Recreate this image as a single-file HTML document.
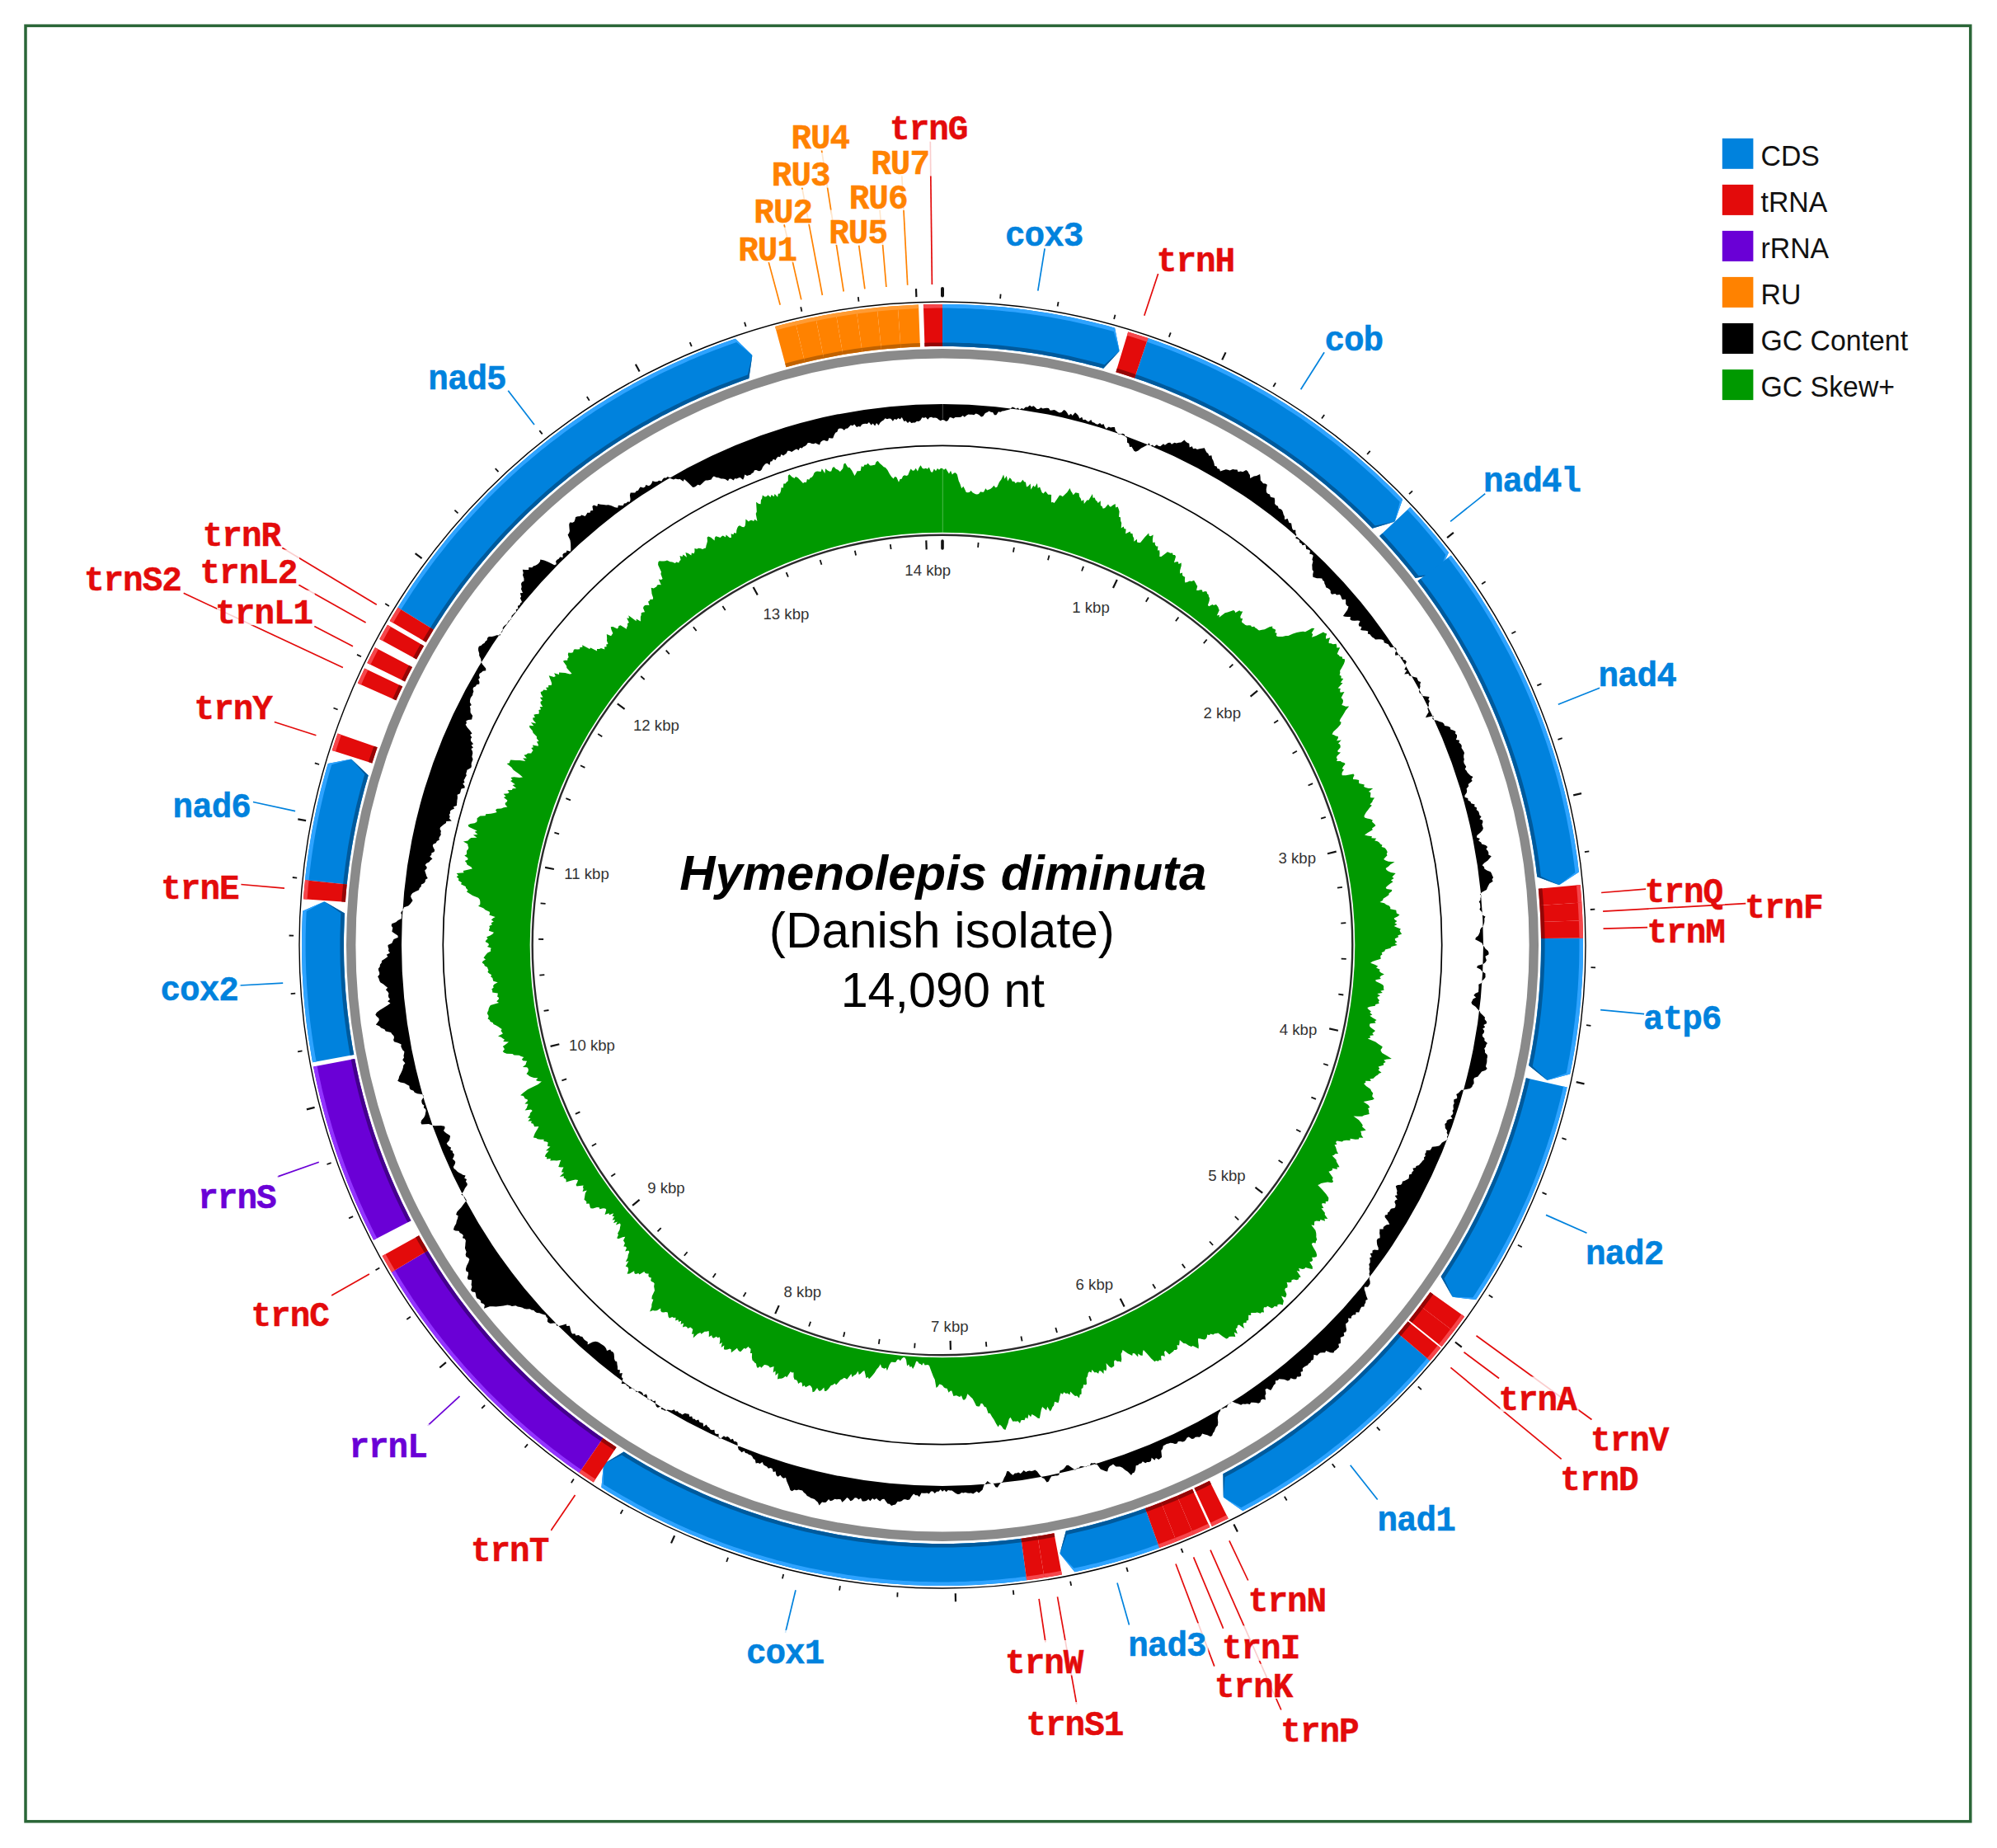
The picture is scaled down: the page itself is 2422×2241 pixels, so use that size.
<!DOCTYPE html><html><head><meta charset="utf-8"><title>Hymenolepis diminuta mtDNA map</title>
<style>html,body{margin:0;padding:0;background:#fff}svg{display:block}.m{font-family:"Liberation Mono",monospace;font-weight:bold;font-size:41px;letter-spacing:-1.0px}.k{font-family:"Liberation Sans",sans-serif;font-size:18.6px;fill:#333}.g{font-family:"Liberation Sans",sans-serif;font-size:35.6px;fill:#111}.t{font-family:"Liberation Sans",sans-serif;font-size:59px;fill:#000;text-anchor:middle}</style></head><body>
<svg width="2422" height="2241" viewBox="0 0 2422 2241">
<rect width="2422" height="2241" fill="#fff"/>
<rect x="31" y="31.2" width="2358.8" height="2177.6" fill="none" stroke="#2a6637" stroke-width="3.5"/>
<g fill="none" stroke-width="1.7" stroke-linecap="butt">
<line x1="932.1" y1="317.4" x2="946.2" y2="369.7" stroke="#ff8200"/>
<line x1="951" y1="272.3" x2="971.8" y2="363.4" stroke="#ff8200"/>
<line x1="972.7" y1="227.3" x2="997.4" y2="358" stroke="#ff8200"/>
<line x1="996.5" y1="182.2" x2="1023.2" y2="353.5" stroke="#ff8200"/>
<line x1="1041.7" y1="297.6" x2="1048.9" y2="350.4" stroke="#ff8200"/>
<line x1="1067" y1="254.3" x2="1074.9" y2="348" stroke="#ff8200"/>
<line x1="1093.8" y1="212.8" x2="1100.7" y2="345.7" stroke="#ff8200"/>
<line x1="1128.3" y1="171.4" x2="1130.4" y2="345" stroke="#e30b0b"/>
<line x1="1267.1" y1="301.3" x2="1258.8" y2="352.7" stroke="#0082dd"/>
<line x1="1404.6" y1="332.1" x2="1387.8" y2="382.7" stroke="#e30b0b"/>
<line x1="1606.1" y1="427.3" x2="1577.6" y2="472.3" stroke="#0082dd"/>
<line x1="1801.3" y1="598.6" x2="1759.1" y2="632.4" stroke="#0082dd"/>
<line x1="1940.1" y1="834.3" x2="1889.8" y2="854.3" stroke="#0082dd"/>
<line x1="1996.1" y1="1078.1" x2="1942.1" y2="1082.5" stroke="#e30b0b"/>
<line x1="2117.3" y1="1095.7" x2="1944.1" y2="1105.1" stroke="#e30b0b"/>
<line x1="1998.1" y1="1124.6" x2="1944.5" y2="1126.2" stroke="#e30b0b"/>
<line x1="1994.1" y1="1229.7" x2="1941.1" y2="1224.7" stroke="#0082dd"/>
<line x1="1924.5" y1="1495.3" x2="1875" y2="1473.4" stroke="#0082dd"/>
<line x1="1818.1" y1="1671.5" x2="1775.5" y2="1639.7" stroke="#e30b0b"/>
<line x1="1930.5" y1="1721.5" x2="1790.5" y2="1619.7" stroke="#e30b0b"/>
<line x1="1893.7" y1="1769.4" x2="1759.4" y2="1658.4" stroke="#e30b0b"/>
<line x1="1670.7" y1="1818.5" x2="1637.7" y2="1776.8" stroke="#0082dd"/>
<line x1="1513.7" y1="1916.5" x2="1490.9" y2="1868.4" stroke="#e30b0b"/>
<line x1="1483.7" y1="1974.9" x2="1447.6" y2="1888.4" stroke="#e30b0b"/>
<line x1="1472.8" y1="2020.6" x2="1426" y2="1896.5" stroke="#e30b0b"/>
<line x1="1553.8" y1="2073.5" x2="1468" y2="1879.7" stroke="#e30b0b"/>
<line x1="1369.5" y1="1970.6" x2="1355" y2="1919.6" stroke="#0082dd"/>
<line x1="1268" y1="1991.5" x2="1260.1" y2="1938.8" stroke="#e30b0b"/>
<line x1="1305.8" y1="2066.7" x2="1282.5" y2="1936.4" stroke="#e30b0b"/>
<line x1="952.5" y1="1980" x2="965" y2="1928.2" stroke="#0082dd"/>
<line x1="668.2" y1="1856.1" x2="697.5" y2="1812.9" stroke="#e30b0b"/>
<line x1="518.6" y1="1728.9" x2="557.5" y2="1693.2" stroke="#6a00d6"/>
<line x1="402.1" y1="1571.1" x2="447.9" y2="1545" stroke="#e30b0b"/>
<line x1="336.1" y1="1427.1" x2="386.8" y2="1409.3" stroke="#6a00d6"/>
<line x1="290.4" y1="1195" x2="343.2" y2="1192.1" stroke="#0082dd"/>
<line x1="292.1" y1="1072.5" x2="345" y2="1077.1" stroke="#e30b0b"/>
<line x1="306.8" y1="972.5" x2="358.1" y2="983.6" stroke="#0082dd"/>
<line x1="332.8" y1="875.5" x2="383.4" y2="891.8" stroke="#e30b0b"/>
<line x1="381.3" y1="759.5" x2="428" y2="783.7" stroke="#e30b0b"/>
<line x1="222.7" y1="719.3" x2="415.9" y2="809.4" stroke="#e30b0b"/>
<line x1="362.3" y1="709.3" x2="443.6" y2="755" stroke="#e30b0b"/>
<line x1="342.2" y1="664.2" x2="456.8" y2="733.2" stroke="#e30b0b"/>
<line x1="616.1" y1="473.4" x2="648" y2="515" stroke="#0082dd"/>
</g>
<circle cx="1143" cy="1146" r="780" fill="none" stroke="#000" stroke-width="1.4"/>
<circle cx="1143" cy="1146" r="717.3" fill="none" stroke="#8a8a8a" stroke-width="11.4"/>
<polygon points="1710.3,615.1 1715.2,620.4 1720.1,625.7 1724.9,631.1 1729.6,636.5 1734.3,641.9 1739,647.4 1743.6,653 1748.1,658.6 1752.6,664.2 1757,669.9 1744.7,695.8 1716.7,701.1 1712.6,695.8 1708.4,690.6 1704.1,685.3 1699.8,680.2 1695.5,675 1691.1,669.9 1686.7,664.9 1682.2,659.9 1677.7,654.9 1673.1,649.9" fill="#0082dd"/>
<polygon points="1710.3,615.1 1715.2,620.4 1720.1,625.7 1724.9,631.1 1729.6,636.5 1734.3,641.9 1739,647.4 1743.6,653 1748.1,658.6 1752.6,664.2 1757,669.9 1744.7,695.8 1753.4,672.7 1749,667 1744.5,661.5 1740,655.9 1735.4,650.4 1730.8,644.9 1726.1,639.5 1721.4,634.1 1716.7,628.8 1711.8,623.5 1707,618.2" fill="#2ea3ff"/>
<polygon points="1673.1,649.9 1677.7,654.9 1682.2,659.9 1686.7,664.9 1691.1,669.9 1695.5,675 1699.8,680.2 1704.1,685.3 1708.4,690.6 1712.6,695.8 1716.7,701.1 1744.7,695.8 1720.4,698.3 1716.2,693 1712,687.7 1707.7,682.4 1703.4,677.2 1699,672 1694.6,666.9 1690.1,661.8 1685.6,656.8 1681.1,651.8 1676.5,646.8" fill="#005a9c"/>
<polygon points="1143,369 1149.8,369 1156.7,369.1 1163.5,369.3 1170.3,369.5 1177.1,369.7 1184,370.1 1190.8,370.5 1197.6,370.9 1204.4,371.4 1211.2,372 1218,372.6 1224.8,373.3 1231.6,374.1 1238.4,374.9 1245.1,375.7 1251.9,376.7 1258.6,377.7 1265.4,378.7 1272.1,379.8 1278.9,381 1285.6,382.2 1292.3,383.5 1299,384.8 1305.7,386.2 1312.3,387.7 1319,389.2 1325.6,390.8 1332.3,392.4 1338.9,394.1 1345.5,395.8 1352.1,397.7 1357.7,425.8 1338.3,446.8 1332.2,445.1 1326,443.4 1319.8,441.9 1313.6,440.3 1307.4,438.9 1301.2,437.5 1295,436.1 1288.7,434.8 1282.5,433.5 1276.2,432.3 1269.9,431.2 1263.7,430.1 1257.4,429.1 1251.1,428.1 1244.7,427.2 1238.4,426.3 1232.1,425.5 1225.8,424.7 1219.4,424 1213.1,423.4 1206.7,422.8 1200.4,422.3 1194,421.8 1187.6,421.4 1181.3,421 1174.9,420.7 1168.5,420.4 1162.1,420.3 1155.8,420.1 1149.4,420 1143,420" fill="#0082dd"/>
<polygon points="1143,369 1149.8,369 1156.7,369.1 1163.5,369.3 1170.3,369.5 1177.1,369.7 1184,370.1 1190.8,370.5 1197.6,370.9 1204.4,371.4 1211.2,372 1218,372.6 1224.8,373.3 1231.6,374.1 1238.4,374.9 1245.1,375.7 1251.9,376.7 1258.6,377.7 1265.4,378.7 1272.1,379.8 1278.9,381 1285.6,382.2 1292.3,383.5 1299,384.8 1305.7,386.2 1312.3,387.7 1319,389.2 1325.6,390.8 1332.3,392.4 1338.9,394.1 1345.5,395.8 1352.1,397.7 1357.7,425.8 1350.8,402.1 1344.3,400.3 1337.7,398.5 1331.1,396.9 1324.6,395.2 1318,393.7 1311.3,392.2 1304.7,390.7 1298.1,389.3 1291.4,388 1284.7,386.7 1278.1,385.5 1271.4,384.3 1264.7,383.2 1258,382.2 1251.2,381.2 1244.5,380.3 1237.8,379.4 1231,378.6 1224.3,377.9 1217.5,377.2 1210.8,376.6 1204,376 1197.3,375.5 1190.5,375.1 1183.7,374.7 1176.9,374.3 1170.1,374.1 1163.4,373.9 1156.6,373.7 1149.8,373.6 1143,373.6" fill="#2ea3ff"/>
<polygon points="1143,420 1149.4,420 1155.8,420.1 1162.1,420.3 1168.5,420.4 1174.9,420.7 1181.3,421 1187.6,421.4 1194,421.8 1200.4,422.3 1206.7,422.8 1213.1,423.4 1219.4,424 1225.8,424.7 1232.1,425.5 1238.4,426.3 1244.7,427.2 1251.1,428.1 1257.4,429.1 1263.7,430.1 1269.9,431.2 1276.2,432.3 1282.5,433.5 1288.7,434.8 1295,436.1 1301.2,437.5 1307.4,438.9 1313.6,440.3 1319.8,441.9 1326,443.4 1332.2,445.1 1338.3,446.8 1357.7,425.8 1339.6,442.3 1333.4,440.6 1327.2,439 1321,437.4 1314.7,435.9 1308.5,434.4 1302.2,433 1296,431.6 1289.7,430.3 1283.4,429 1277.1,427.8 1270.7,426.7 1264.4,425.6 1258.1,424.5 1251.7,423.5 1245.4,422.6 1239,421.7 1232.7,420.9 1226.3,420.2 1219.9,419.5 1213.5,418.8 1207.1,418.2 1200.7,417.7 1194.3,417.2 1187.9,416.8 1181.5,416.4 1175.1,416.1 1168.7,415.9 1162.3,415.7 1155.8,415.5 1149.4,415.4 1143,415.4" fill="#005a9c"/>
<polygon points="1392.4,410.1 1398.8,412.3 1405.3,414.6 1411.7,416.9 1418.1,419.3 1424.5,421.8 1430.8,424.3 1437.1,426.8 1443.4,429.4 1449.7,432.1 1456,434.8 1462.2,437.6 1468.4,440.4 1474.6,443.3 1480.8,446.3 1486.9,449.3 1493,452.3 1499.1,455.4 1505.2,458.6 1511.2,461.8 1517.2,465 1523.2,468.4 1529.1,471.7 1535,475.1 1540.9,478.6 1546.8,482.1 1552.6,485.7 1558.4,489.3 1564.1,493 1569.8,496.7 1575.5,500.5 1581.2,504.3 1586.8,508.2 1592.4,512.1 1597.9,516.1 1603.5,520.1 1608.9,524.2 1614.4,528.3 1619.8,532.5 1625.2,536.7 1630.5,541 1635.8,545.3 1641.1,549.6 1646.3,554 1651.5,558.5 1656.6,563 1661.7,567.5 1666.8,572.1 1671.8,576.7 1676.8,581.4 1681.7,586.1 1686.6,590.8 1691.5,595.6 1696.3,600.5 1701.1,605.4 1691.7,632.5 1664.4,640.8 1660,636.3 1655.5,631.8 1650.9,627.3 1646.4,622.8 1641.7,618.4 1637.1,614.1 1632.4,609.7 1627.7,605.5 1622.9,601.2 1618.1,597 1613.2,592.9 1608.4,588.8 1603.5,584.7 1598.5,580.7 1593.5,576.7 1588.5,572.8 1583.4,568.9 1578.4,565 1573.2,561.2 1568.1,557.5 1562.9,553.7 1557.7,550.1 1552.4,546.5 1547.1,542.9 1541.8,539.4 1536.5,535.9 1531.1,532.4 1525.7,529.1 1520.3,525.7 1514.8,522.4 1509.3,519.2 1503.8,516 1498.2,512.8 1492.6,509.7 1487,506.7 1481.4,503.7 1475.7,500.7 1470.1,497.8 1464.4,495 1458.6,492.2 1452.9,489.4 1447.1,486.8 1441.3,484.1 1435.5,481.5 1429.6,479 1423.7,476.5 1417.8,474 1411.9,471.6 1406,469.3 1400,467 1394,464.8 1388.1,462.6 1382,460.5 1376,458.4" fill="#0082dd"/>
<polygon points="1392.4,410.1 1398.8,412.3 1405.3,414.6 1411.7,416.9 1418.1,419.3 1424.5,421.8 1430.8,424.3 1437.1,426.8 1443.4,429.4 1449.7,432.1 1456,434.8 1462.2,437.6 1468.4,440.4 1474.6,443.3 1480.8,446.3 1486.9,449.3 1493,452.3 1499.1,455.4 1505.2,458.6 1511.2,461.8 1517.2,465 1523.2,468.4 1529.1,471.7 1535,475.1 1540.9,478.6 1546.8,482.1 1552.6,485.7 1558.4,489.3 1564.1,493 1569.8,496.7 1575.5,500.5 1581.2,504.3 1586.8,508.2 1592.4,512.1 1597.9,516.1 1603.5,520.1 1608.9,524.2 1614.4,528.3 1619.8,532.5 1625.2,536.7 1630.5,541 1635.8,545.3 1641.1,549.6 1646.3,554 1651.5,558.5 1656.6,563 1661.7,567.5 1666.8,572.1 1671.8,576.7 1676.8,581.4 1681.7,586.1 1686.6,590.8 1691.5,595.6 1696.3,600.5 1701.1,605.4 1691.7,632.5 1697.8,608.6 1693,603.7 1688.2,598.9 1683.4,594.1 1678.5,589.4 1673.6,584.7 1668.7,580.1 1663.7,575.5 1658.6,570.9 1653.6,566.4 1648.5,561.9 1643.3,557.5 1638.1,553.2 1632.9,548.8 1627.6,544.5 1622.3,540.3 1617,536.1 1611.6,532 1606.2,527.9 1600.7,523.8 1595.2,519.8 1589.7,515.9 1584.2,512 1578.6,508.1 1573,504.3 1567.3,500.6 1561.6,496.9 1555.9,493.2 1550.1,489.6 1544.4,486.1 1538.5,482.6 1532.7,479.1 1526.8,475.7 1520.9,472.4 1515,469.1 1509,465.8 1503,462.6 1497,459.5 1491,456.4 1484.9,453.4 1478.8,450.4 1472.7,447.5 1466.5,444.6 1460.3,441.8 1454.1,439 1447.9,436.3 1441.7,433.7 1435.4,431.1 1429.1,428.5 1422.8,426.1 1416.5,423.6 1410.1,421.3 1403.7,418.9 1397.3,416.7 1390.9,414.5" fill="#2ea3ff"/>
<polygon points="1376,458.4 1382,460.5 1388.1,462.6 1394,464.8 1400,467 1406,469.3 1411.9,471.6 1417.8,474 1423.7,476.5 1429.6,479 1435.5,481.5 1441.3,484.1 1447.1,486.8 1452.9,489.4 1458.6,492.2 1464.4,495 1470.1,497.8 1475.7,500.7 1481.4,503.7 1487,506.7 1492.6,509.7 1498.2,512.8 1503.8,516 1509.3,519.2 1514.8,522.4 1520.3,525.7 1525.7,529.1 1531.1,532.4 1536.5,535.9 1541.8,539.4 1547.1,542.9 1552.4,546.5 1557.7,550.1 1562.9,553.7 1568.1,557.5 1573.2,561.2 1578.4,565 1583.4,568.9 1588.5,572.8 1593.5,576.7 1598.5,580.7 1603.5,584.7 1608.4,588.8 1613.2,592.9 1618.1,597 1622.9,601.2 1627.7,605.5 1632.4,609.7 1637.1,614.1 1641.7,618.4 1646.4,622.8 1650.9,627.3 1655.5,631.8 1660,636.3 1664.4,640.8 1691.7,632.5 1667.7,637.6 1663.3,633.1 1658.7,628.5 1654.2,624 1649.6,619.5 1644.9,615.1 1640.2,610.7 1635.5,606.4 1630.7,602 1625.9,597.8 1621.1,593.6 1616.2,589.4 1611.3,585.2 1606.4,581.1 1601.4,577.1 1596.4,573.1 1591.3,569.1 1586.2,565.2 1581.1,561.3 1576,557.5 1570.8,553.7 1565.6,550 1560.3,546.3 1555,542.7 1549.7,539.1 1544.3,535.5 1539,532 1533.6,528.6 1528.1,525.1 1522.6,521.8 1517.1,518.5 1511.6,515.2 1506.1,512 1500.5,508.8 1494.9,505.7 1489.2,502.6 1483.5,499.6 1477.9,496.7 1472.1,493.7 1466.4,490.9 1460.6,488.1 1454.8,485.3 1449,482.6 1443.2,479.9 1437.3,477.3 1431.4,474.7 1425.5,472.2 1419.6,469.8 1413.6,467.4 1407.6,465 1401.7,462.7 1395.6,460.5 1389.6,458.3 1383.6,456.1 1377.5,454" fill="#005a9c"/>
<polygon points="1759.8,673.5 1764,679 1768.1,684.5 1772.2,690.1 1776.2,695.6 1780.1,701.3 1784,706.9 1787.9,712.6 1791.7,718.3 1795.5,724.1 1799.2,729.9 1802.8,735.7 1806.4,741.5 1810,747.4 1813.5,753.3 1816.9,759.3 1820.3,765.2 1823.7,771.2 1826.9,777.3 1830.2,783.3 1833.4,789.4 1836.5,795.6 1839.6,801.7 1842.6,807.9 1845.5,814.1 1848.4,820.3 1851.3,826.6 1854.1,832.8 1856.8,839.1 1859.5,845.5 1862.2,851.8 1864.7,858.2 1867.2,864.6 1869.7,871 1872.1,877.4 1874.5,883.9 1876.7,890.4 1879,896.9 1881.1,903.4 1883.3,909.9 1885.3,916.5 1887.3,923 1889.3,929.6 1891.2,936.2 1893,942.9 1894.7,949.5 1896.5,956.2 1898.1,962.8 1899.7,969.5 1901.2,976.2 1902.7,982.9 1904.1,989.7 1905.5,996.4 1906.8,1003.1 1908,1009.9 1909.2,1016.7 1910.3,1023.5 1911.3,1030.2 1912.3,1037 1913.3,1043.8 1914.1,1050.7 1914.9,1057.5 1891,1073.3 1864.3,1063.3 1863.5,1056.9 1862.7,1050.6 1861.8,1044.2 1860.9,1037.8 1859.9,1031.5 1858.9,1025.2 1857.8,1018.8 1856.6,1012.5 1855.4,1006.2 1854.2,999.9 1852.8,993.6 1851.5,987.4 1850,981.1 1848.5,974.9 1847,968.6 1845.4,962.4 1843.8,956.2 1842,950 1840.3,943.8 1838.5,937.7 1836.6,931.5 1834.7,925.4 1832.7,919.3 1830.7,913.2 1828.6,907.1 1826.4,901.1 1824.2,895.1 1822,889 1819.7,883 1817.4,877.1 1814.9,871.1 1812.5,865.2 1810,859.3 1807.4,853.4 1804.8,847.5 1802.1,841.7 1799.4,835.9 1796.7,830.1 1793.8,824.3 1791,818.6 1788,812.8 1785.1,807.1 1782.1,801.5 1779,795.8 1775.9,790.2 1772.7,784.7 1769.5,779.1 1766.2,773.6 1762.9,768.1 1759.5,762.6 1756.1,757.2 1752.6,751.8 1749.1,746.4 1745.6,741 1742,735.7 1738.3,730.5 1734.6,725.2 1730.9,720 1727.1,714.8 1723.2,709.7 1719.4,704.5" fill="#0082dd"/>
<polygon points="1759.8,673.5 1764,679 1768.1,684.5 1772.2,690.1 1776.2,695.6 1780.1,701.3 1784,706.9 1787.9,712.6 1791.7,718.3 1795.5,724.1 1799.2,729.9 1802.8,735.7 1806.4,741.5 1810,747.4 1813.5,753.3 1816.9,759.3 1820.3,765.2 1823.7,771.2 1826.9,777.3 1830.2,783.3 1833.4,789.4 1836.5,795.6 1839.6,801.7 1842.6,807.9 1845.5,814.1 1848.4,820.3 1851.3,826.6 1854.1,832.8 1856.8,839.1 1859.5,845.5 1862.2,851.8 1864.7,858.2 1867.2,864.6 1869.7,871 1872.1,877.4 1874.5,883.9 1876.7,890.4 1879,896.9 1881.1,903.4 1883.3,909.9 1885.3,916.5 1887.3,923 1889.3,929.6 1891.2,936.2 1893,942.9 1894.7,949.5 1896.5,956.2 1898.1,962.8 1899.7,969.5 1901.2,976.2 1902.7,982.9 1904.1,989.7 1905.5,996.4 1906.8,1003.1 1908,1009.9 1909.2,1016.7 1910.3,1023.5 1911.3,1030.2 1912.3,1037 1913.3,1043.8 1914.1,1050.7 1914.9,1057.5 1891,1073.3 1910.4,1058 1909.6,1051.2 1908.7,1044.5 1907.8,1037.7 1906.8,1030.9 1905.7,1024.2 1904.6,1017.4 1903.5,1010.7 1902.2,1004 1900.9,997.3 1899.6,990.6 1898.2,983.9 1896.7,977.2 1895.2,970.6 1893.6,963.9 1892,957.3 1890.3,950.7 1888.5,944.1 1886.7,937.5 1884.8,930.9 1882.9,924.4 1880.9,917.8 1878.9,911.3 1876.8,904.8 1874.6,898.3 1872.4,891.9 1870.1,885.4 1867.8,879 1865.4,872.6 1863,866.2 1860.5,859.9 1857.9,853.5 1855.3,847.2 1852.6,840.9 1849.9,834.7 1847.1,828.4 1844.3,822.2 1841.4,816 1838.4,809.9 1835.4,803.7 1832.4,797.6 1829.3,791.5 1826.1,785.5 1822.9,779.5 1819.6,773.5 1816.3,767.5 1812.9,761.6 1809.5,755.6 1806,749.8 1802.5,743.9 1798.9,738.1 1795.3,732.3 1791.6,726.6 1787.9,720.8 1784.1,715.2 1780.2,709.5 1776.4,703.9 1772.4,698.3 1768.4,692.8 1764.4,687.2 1760.3,681.8 1756.2,676.3" fill="#2ea3ff"/>
<polygon points="1719.4,704.5 1723.2,709.7 1727.1,714.8 1730.9,720 1734.6,725.2 1738.3,730.5 1742,735.7 1745.6,741 1749.1,746.4 1752.6,751.8 1756.1,757.2 1759.5,762.6 1762.9,768.1 1766.2,773.6 1769.5,779.1 1772.7,784.7 1775.9,790.2 1779,795.8 1782.1,801.5 1785.1,807.1 1788,812.8 1791,818.6 1793.8,824.3 1796.7,830.1 1799.4,835.9 1802.1,841.7 1804.8,847.5 1807.4,853.4 1810,859.3 1812.5,865.2 1814.9,871.1 1817.4,877.1 1819.7,883 1822,889 1824.2,895.1 1826.4,901.1 1828.6,907.1 1830.7,913.2 1832.7,919.3 1834.7,925.4 1836.6,931.5 1838.5,937.7 1840.3,943.8 1842,950 1843.8,956.2 1845.4,962.4 1847,968.6 1848.5,974.9 1850,981.1 1851.5,987.4 1852.8,993.6 1854.2,999.9 1855.4,1006.2 1856.6,1012.5 1857.8,1018.8 1858.9,1025.2 1859.9,1031.5 1860.9,1037.8 1861.8,1044.2 1862.7,1050.6 1863.5,1056.9 1864.3,1063.3 1891,1073.3 1868.8,1062.8 1868.1,1056.4 1867.3,1049.9 1866.4,1043.5 1865.4,1037.2 1864.5,1030.8 1863.4,1024.4 1862.3,1018 1861.1,1011.7 1859.9,1005.3 1858.7,999 1857.3,992.7 1855.9,986.4 1854.5,980.1 1853,973.8 1851.5,967.5 1849.9,961.2 1848.2,955 1846.5,948.8 1844.7,942.6 1842.9,936.4 1841,930.2 1839.1,924 1837.1,917.9 1835,911.7 1832.9,905.6 1830.8,899.5 1828.6,893.5 1826.3,887.4 1824,881.4 1821.6,875.4 1819.2,869.4 1816.7,863.4 1814.2,857.5 1811.6,851.5 1809,845.6 1806.3,839.8 1803.6,833.9 1800.8,828.1 1798,822.3 1795.1,816.5 1792.1,810.7 1789.1,805 1786.1,799.3 1783,793.6 1779.9,788 1776.7,782.4 1773.4,776.8 1770.1,771.2 1766.8,765.7 1763.4,760.2 1760,754.7 1756.5,749.3 1753,743.9 1749.4,738.5 1745.8,733.1 1742.1,727.8 1738.4,722.5 1734.6,717.3 1730.8,712.1 1726.9,706.9 1723,701.7" fill="#005a9c"/>
<polygon points="1920,1137.6 1920,1144.5 1920,1151.4 1919.9,1158.3 1919.8,1165.2 1919.6,1172.1 1919.3,1179 1919,1185.9 1918.6,1192.8 1918.1,1199.7 1917.6,1206.6 1917.1,1213.5 1916.4,1220.4 1915.7,1227.3 1915,1234.1 1914.2,1241 1913.3,1247.9 1912.4,1254.7 1911.4,1261.5 1910.3,1268.4 1909.2,1275.2 1908,1282 1906.8,1288.8 1905.5,1295.6 1904.1,1302.4 1876.4,1309.9 1854.1,1292.1 1855.4,1285.8 1856.6,1279.4 1857.8,1273.1 1858.9,1266.7 1859.9,1260.3 1860.9,1254 1861.9,1247.6 1862.7,1241.2 1863.6,1234.8 1864.3,1228.4 1865,1221.9 1865.7,1215.5 1866.3,1209.1 1866.8,1202.6 1867.3,1196.2 1867.7,1189.8 1868,1183.3 1868.3,1176.9 1868.6,1170.4 1868.8,1164 1868.9,1157.5 1869,1151.1 1869,1144.6 1869,1138.1" fill="#0082dd"/>
<polygon points="1920,1137.6 1920,1144.5 1920,1151.4 1919.9,1158.3 1919.8,1165.2 1919.6,1172.1 1919.3,1179 1919,1185.9 1918.6,1192.8 1918.1,1199.7 1917.6,1206.6 1917.1,1213.5 1916.4,1220.4 1915.7,1227.3 1915,1234.1 1914.2,1241 1913.3,1247.9 1912.4,1254.7 1911.4,1261.5 1910.3,1268.4 1909.2,1275.2 1908,1282 1906.8,1288.8 1905.5,1295.6 1904.1,1302.4 1876.4,1309.9 1899.6,1301.4 1901,1294.7 1902.2,1287.9 1903.5,1281.2 1904.6,1274.4 1905.8,1267.6 1906.8,1260.9 1907.8,1254.1 1908.7,1247.3 1909.6,1240.4 1910.4,1233.6 1911.2,1226.8 1911.9,1220 1912.5,1213.1 1913,1206.3 1913.6,1199.4 1914,1192.6 1914.4,1185.7 1914.7,1178.8 1915,1172 1915.2,1165.1 1915.3,1158.2 1915.4,1151.4 1915.4,1144.5 1915.4,1137.6" fill="#2ea3ff"/>
<polygon points="1869,1138.1 1869,1144.6 1869,1151.1 1868.9,1157.5 1868.8,1164 1868.6,1170.4 1868.3,1176.9 1868,1183.3 1867.7,1189.8 1867.3,1196.2 1866.8,1202.6 1866.3,1209.1 1865.7,1215.5 1865,1221.9 1864.3,1228.4 1863.6,1234.8 1862.7,1241.2 1861.9,1247.6 1860.9,1254 1859.9,1260.3 1858.9,1266.7 1857.8,1273.1 1856.6,1279.4 1855.4,1285.8 1854.1,1292.1 1876.4,1309.9 1858.7,1293 1859.9,1286.6 1861.2,1280.3 1862.3,1273.9 1863.4,1267.5 1864.5,1261.1 1865.5,1254.6 1866.4,1248.2 1867.3,1241.8 1868.1,1235.3 1868.9,1228.9 1869.6,1222.4 1870.2,1216 1870.8,1209.5 1871.4,1203 1871.9,1196.5 1872.3,1190 1872.6,1183.6 1872.9,1177.1 1873.2,1170.6 1873.4,1164.1 1873.5,1157.6 1873.6,1151.1 1873.6,1144.6 1873.6,1138.1" fill="#005a9c"/>
<polygon points="1900.6,1318.5 1899,1325.2 1897.4,1331.9 1895.8,1338.6 1894,1345.2 1892.2,1351.9 1890.4,1358.5 1888.5,1365.1 1886.5,1371.7 1884.5,1378.2 1882.4,1384.8 1880.3,1391.3 1878.1,1397.8 1875.8,1404.3 1873.5,1410.8 1871.1,1417.2 1868.7,1423.7 1866.2,1430.1 1863.7,1436.5 1861.1,1442.8 1858.4,1449.2 1855.7,1455.5 1852.9,1461.8 1850.1,1468 1847.2,1474.3 1844.3,1480.5 1841.3,1486.7 1838.3,1492.9 1835.2,1499 1832,1505.1 1828.8,1511.2 1825.6,1517.2 1822.3,1523.3 1818.9,1529.3 1815.5,1535.2 1812,1541.2 1808.5,1547.1 1804.9,1552.9 1801.3,1558.8 1797.6,1564.6 1793.9,1570.3 1790.1,1576.1 1761.6,1572.7 1747.6,1547.9 1751.2,1542.5 1754.7,1537.1 1758.1,1531.7 1761.5,1526.2 1764.8,1520.7 1768.1,1515.2 1771.3,1509.7 1774.5,1504.1 1777.7,1498.5 1780.8,1492.9 1783.8,1487.2 1786.8,1481.5 1789.8,1475.8 1792.6,1470.1 1795.5,1464.3 1798.3,1458.6 1801,1452.7 1803.7,1446.9 1806.3,1441.1 1808.9,1435.2 1811.5,1429.3 1813.9,1423.4 1816.4,1417.4 1818.7,1411.4 1821.1,1405.5 1823.3,1399.4 1825.5,1393.4 1827.7,1387.4 1829.8,1381.3 1831.9,1375.2 1833.9,1369.1 1835.8,1363 1837.7,1356.9 1839.5,1350.7 1841.3,1344.5 1843.1,1338.4 1844.7,1332.2 1846.3,1325.9 1847.9,1319.7 1849.4,1313.5 1850.9,1307.2" fill="#0082dd"/>
<polygon points="1900.6,1318.5 1899,1325.2 1897.4,1331.9 1895.8,1338.6 1894,1345.2 1892.2,1351.9 1890.4,1358.5 1888.5,1365.1 1886.5,1371.7 1884.5,1378.2 1882.4,1384.8 1880.3,1391.3 1878.1,1397.8 1875.8,1404.3 1873.5,1410.8 1871.1,1417.2 1868.7,1423.7 1866.2,1430.1 1863.7,1436.5 1861.1,1442.8 1858.4,1449.2 1855.7,1455.5 1852.9,1461.8 1850.1,1468 1847.2,1474.3 1844.3,1480.5 1841.3,1486.7 1838.3,1492.9 1835.2,1499 1832,1505.1 1828.8,1511.2 1825.6,1517.2 1822.3,1523.3 1818.9,1529.3 1815.5,1535.2 1812,1541.2 1808.5,1547.1 1804.9,1552.9 1801.3,1558.8 1797.6,1564.6 1793.9,1570.3 1790.1,1576.1 1761.6,1572.7 1786.3,1573.5 1790,1567.8 1793.7,1562.1 1797.4,1556.3 1801,1550.5 1804.6,1544.7 1808.1,1538.8 1811.5,1532.9 1814.9,1527 1818.2,1521 1821.5,1515 1824.8,1509 1828,1503 1831.1,1496.9 1834.2,1490.8 1837.2,1484.7 1840.2,1478.5 1843.1,1472.3 1845.9,1466.1 1848.7,1459.9 1851.5,1453.7 1854.2,1447.4 1856.8,1441.1 1859.4,1434.8 1861.9,1428.4 1864.4,1422 1866.8,1415.6 1869.2,1409.2 1871.5,1402.8 1873.7,1396.3 1875.9,1389.9 1878,1383.4 1880.1,1376.9 1882.1,1370.3 1884.1,1363.8 1886,1357.2 1887.8,1350.6 1889.6,1344.1 1891.3,1337.4 1893,1330.8 1894.6,1324.2 1896.1,1317.5" fill="#2ea3ff"/>
<polygon points="1850.9,1307.2 1849.4,1313.5 1847.9,1319.7 1846.3,1325.9 1844.7,1332.2 1843.1,1338.4 1841.3,1344.5 1839.5,1350.7 1837.7,1356.9 1835.8,1363 1833.9,1369.1 1831.9,1375.2 1829.8,1381.3 1827.7,1387.4 1825.5,1393.4 1823.3,1399.4 1821.1,1405.5 1818.7,1411.4 1816.4,1417.4 1813.9,1423.4 1811.5,1429.3 1808.9,1435.2 1806.3,1441.1 1803.7,1446.9 1801,1452.7 1798.3,1458.6 1795.5,1464.3 1792.6,1470.1 1789.8,1475.8 1786.8,1481.5 1783.8,1487.2 1780.8,1492.9 1777.7,1498.5 1774.5,1504.1 1771.3,1509.7 1768.1,1515.2 1764.8,1520.7 1761.5,1526.2 1758.1,1531.7 1754.7,1537.1 1751.2,1542.5 1747.6,1547.9 1761.6,1572.7 1751.5,1550.4 1755,1545 1758.5,1539.6 1762,1534.1 1765.4,1528.6 1768.8,1523.1 1772.1,1517.6 1775.3,1512 1778.5,1506.4 1781.7,1500.7 1784.8,1495.1 1787.9,1489.4 1790.9,1483.7 1793.9,1477.9 1796.8,1472.1 1799.6,1466.4 1802.4,1460.5 1805.2,1454.7 1807.9,1448.8 1810.5,1442.9 1813.1,1437 1815.7,1431.1 1818.2,1425.1 1820.6,1419.1 1823,1413.1 1825.4,1407.1 1827.6,1401 1829.9,1395 1832,1388.9 1834.2,1382.8 1836.2,1376.7 1838.2,1370.5 1840.2,1364.4 1842.1,1358.2 1844,1352 1845.8,1345.8 1847.5,1339.6 1849.2,1333.3 1850.8,1327.1 1852.4,1320.8 1853.9,1314.5 1855.4,1308.2" fill="#005a9c"/>
<polygon points="1734.3,1650.1 1729.8,1655.3 1725.4,1660.4 1720.8,1665.5 1716.2,1670.5 1711.6,1675.5 1707,1680.5 1702.3,1685.4 1697.5,1690.3 1692.7,1695.1 1687.9,1699.9 1683,1704.7 1678.1,1709.4 1673.1,1714 1668.1,1718.7 1663.1,1723.3 1658,1727.8 1652.9,1732.3 1647.8,1736.7 1642.6,1741.1 1637.3,1745.5 1632.1,1749.8 1626.7,1754 1621.4,1758.3 1616,1762.4 1610.6,1766.6 1605.1,1770.6 1599.6,1774.7 1594.1,1778.6 1588.6,1782.6 1583,1786.4 1577.3,1790.3 1571.7,1794 1566,1797.8 1560.3,1801.5 1554.5,1805.1 1548.7,1808.7 1542.9,1812.2 1537,1815.7 1531.1,1819.1 1525.2,1822.5 1519.3,1825.8 1513.3,1829.1 1507.3,1832.3 1483.8,1815.8 1483.4,1787.3 1489,1784.2 1494.6,1781.2 1500.1,1778.1 1505.7,1774.9 1511.2,1771.7 1516.6,1768.5 1522.1,1765.2 1527.5,1761.8 1532.9,1758.4 1538.2,1755 1543.5,1751.5 1548.8,1748 1554.1,1744.4 1559.3,1740.8 1564.5,1737.1 1569.7,1733.4 1574.8,1729.6 1579.9,1725.8 1585,1722 1590,1718.1 1595,1714.1 1600,1710.2 1604.9,1706.1 1609.8,1702.1 1614.6,1697.9 1619.4,1693.8 1624.2,1689.6 1629,1685.4 1633.7,1681.1 1638.3,1676.8 1643,1672.4 1647.6,1668 1652.1,1663.6 1656.6,1659.1 1661.1,1654.6 1665.6,1650 1669.9,1645.4 1674.3,1640.8 1678.6,1636.1 1682.9,1631.4 1687.1,1626.6 1691.3,1621.8 1695.5,1617" fill="#0082dd"/>
<polygon points="1734.3,1650.1 1729.8,1655.3 1725.4,1660.4 1720.8,1665.5 1716.2,1670.5 1711.6,1675.5 1707,1680.5 1702.3,1685.4 1697.5,1690.3 1692.7,1695.1 1687.9,1699.9 1683,1704.7 1678.1,1709.4 1673.1,1714 1668.1,1718.7 1663.1,1723.3 1658,1727.8 1652.9,1732.3 1647.8,1736.7 1642.6,1741.1 1637.3,1745.5 1632.1,1749.8 1626.7,1754 1621.4,1758.3 1616,1762.4 1610.6,1766.6 1605.1,1770.6 1599.6,1774.7 1594.1,1778.6 1588.6,1782.6 1583,1786.4 1577.3,1790.3 1571.7,1794 1566,1797.8 1560.3,1801.5 1554.5,1805.1 1548.7,1808.7 1542.9,1812.2 1537,1815.7 1531.1,1819.1 1525.2,1822.5 1519.3,1825.8 1513.3,1829.1 1507.3,1832.3 1483.8,1815.8 1505.2,1828.2 1511.1,1825 1517.1,1821.8 1523,1818.5 1528.8,1815.1 1534.7,1811.7 1540.5,1808.3 1546.3,1804.8 1552.1,1801.2 1557.8,1797.6 1563.5,1793.9 1569.1,1790.2 1574.8,1786.5 1580.4,1782.6 1585.9,1778.8 1591.4,1774.9 1596.9,1770.9 1602.4,1766.9 1607.8,1762.9 1613.2,1758.8 1618.6,1754.6 1623.9,1750.4 1629.2,1746.2 1634.4,1741.9 1639.6,1737.6 1644.8,1733.2 1649.9,1728.8 1655,1724.3 1660,1719.8 1665,1715.3 1670,1710.7 1674.9,1706 1679.8,1701.4 1684.7,1696.6 1689.5,1691.9 1694.2,1687.1 1699,1682.2 1703.6,1677.3 1708.3,1672.4 1712.9,1667.4 1717.4,1662.4 1721.9,1657.3 1726.4,1652.3 1730.8,1647.1" fill="#2ea3ff"/>
<polygon points="1695.5,1617 1691.3,1621.8 1687.1,1626.6 1682.9,1631.4 1678.6,1636.1 1674.3,1640.8 1669.9,1645.4 1665.6,1650 1661.1,1654.6 1656.6,1659.1 1652.1,1663.6 1647.6,1668 1643,1672.4 1638.3,1676.8 1633.7,1681.1 1629,1685.4 1624.2,1689.6 1619.4,1693.8 1614.6,1697.9 1609.8,1702.1 1604.9,1706.1 1600,1710.2 1595,1714.1 1590,1718.1 1585,1722 1579.9,1725.8 1574.8,1729.6 1569.7,1733.4 1564.5,1737.1 1559.3,1740.8 1554.1,1744.4 1548.8,1748 1543.5,1751.5 1538.2,1755 1532.9,1758.4 1527.5,1761.8 1522.1,1765.2 1516.6,1768.5 1511.2,1771.7 1505.7,1774.9 1500.1,1778.1 1494.6,1781.2 1489,1784.2 1483.4,1787.3 1483.8,1815.8 1485.6,1791.3 1491.2,1788.3 1496.8,1785.2 1502.4,1782.1 1508,1778.9 1513.5,1775.7 1519,1772.4 1524.5,1769.1 1529.9,1765.7 1535.3,1762.3 1540.7,1758.9 1546.1,1755.4 1551.4,1751.8 1556.7,1748.2 1562,1744.5 1567.2,1740.9 1572.4,1737.1 1577.5,1733.3 1582.7,1729.5 1587.8,1725.6 1592.8,1721.7 1597.9,1717.7 1602.8,1713.7 1607.8,1709.7 1612.7,1705.6 1617.6,1701.4 1622.5,1697.3 1627.3,1693 1632,1688.8 1636.8,1684.5 1641.5,1680.1 1646.1,1675.7 1650.8,1671.3 1655.4,1666.8 1659.9,1662.3 1664.4,1657.8 1668.9,1653.2 1673.3,1648.6 1677.7,1643.9 1682,1639.2 1686.3,1634.5 1690.6,1629.7 1694.8,1624.9 1699,1620" fill="#005a9c"/>
<polygon points="1406.2,1877.1 1399.5,1879.4 1392.7,1881.8 1386,1884 1379.2,1886.2 1372.4,1888.4 1365.6,1890.4 1358.7,1892.5 1351.9,1894.4 1345,1896.3 1338.1,1898.1 1331.2,1899.9 1324.2,1901.6 1317.3,1903.2 1310.3,1904.8 1303.4,1906.3 1285.4,1883.9 1292.8,1856.4 1299.4,1855 1305.9,1853.5 1312.3,1852 1318.8,1850.4 1325.3,1848.7 1331.7,1847 1338.1,1845.3 1344.6,1843.5 1350.9,1841.6 1357.3,1839.6 1363.7,1837.6 1370,1835.6 1376.3,1833.5 1382.6,1831.3 1388.9,1829.1" fill="#0082dd"/>
<polygon points="1406.2,1877.1 1399.5,1879.4 1392.7,1881.8 1386,1884 1379.2,1886.2 1372.4,1888.4 1365.6,1890.4 1358.7,1892.5 1351.9,1894.4 1345,1896.3 1338.1,1898.1 1331.2,1899.9 1324.2,1901.6 1317.3,1903.2 1310.3,1904.8 1303.4,1906.3 1285.4,1883.9 1302.4,1901.8 1309.3,1900.3 1316.3,1898.7 1323.2,1897.1 1330.1,1895.4 1336.9,1893.7 1343.8,1891.8 1350.6,1890 1357.4,1888 1364.2,1886 1371,1884 1377.8,1881.9 1384.5,1879.7 1391.3,1877.4 1398,1875.1 1404.6,1872.7" fill="#2ea3ff"/>
<polygon points="1388.9,1829.1 1382.6,1831.3 1376.3,1833.5 1370,1835.6 1363.7,1837.6 1357.3,1839.6 1350.9,1841.6 1344.6,1843.5 1338.1,1845.3 1331.7,1847 1325.3,1848.7 1318.8,1850.4 1312.3,1852 1305.9,1853.5 1299.4,1855 1292.8,1856.4 1285.4,1883.9 1293.8,1860.9 1300.3,1859.5 1306.9,1858 1313.4,1856.4 1319.9,1854.9 1326.4,1853.2 1332.9,1851.5 1339.4,1849.7 1345.8,1847.9 1352.3,1846 1358.7,1844 1365.1,1842 1371.5,1840 1377.8,1837.8 1384.2,1835.7 1390.5,1833.4" fill="#005a9c"/>
<polygon points="1245.2,1916.2 1238.5,1917.1 1231.7,1917.9 1224.9,1918.7 1218.1,1919.4 1211.3,1920 1204.5,1920.6 1197.8,1921.1 1190.9,1921.5 1184.1,1921.9 1177.3,1922.2 1170.5,1922.5 1163.7,1922.7 1156.9,1922.9 1150.1,1923 1143.3,1923 1136.4,1923 1129.6,1922.9 1122.8,1922.7 1116,1922.5 1109.2,1922.3 1102.4,1921.9 1095.6,1921.5 1088.7,1921.1 1081.9,1920.6 1075.2,1920 1068.4,1919.4 1061.6,1918.7 1054.8,1918 1048,1917.2 1041.3,1916.3 1034.5,1915.4 1027.8,1914.4 1021,1913.4 1014.3,1912.3 1007.6,1911.1 1000.9,1909.9 994.2,1908.6 987.5,1907.3 980.8,1905.9 974.2,1904.4 967.5,1902.9 960.9,1901.4 954.2,1899.7 947.6,1898 941.1,1896.3 934.5,1894.5 927.9,1892.6 921.4,1890.7 914.8,1888.7 908.3,1886.7 901.8,1884.6 895.4,1882.5 888.9,1880.3 882.5,1878 876.1,1875.7 869.7,1873.3 863.3,1870.9 857,1868.4 850.6,1865.9 844.3,1863.3 838,1860.7 831.8,1857.9 825.5,1855.2 819.3,1852.4 813.2,1849.5 807,1846.6 800.9,1843.6 794.7,1840.6 788.7,1837.5 782.6,1834.4 776.6,1831.2 770.6,1827.9 764.6,1824.6 758.7,1821.3 752.8,1817.9 746.9,1814.4 741,1810.9 735.2,1807.4 729.4,1803.8 732.1,1775.2 756.6,1760.6 762,1764 767.4,1767.3 772.9,1770.6 778.4,1773.8 783.9,1777 789.5,1780.1 795,1783.2 800.6,1786.2 806.3,1789.2 811.9,1792.1 817.6,1795 823.3,1797.8 829,1800.6 834.8,1803.3 840.6,1806 846.4,1808.6 852.2,1811.2 858.1,1813.7 863.9,1816.2 869.8,1818.6 875.7,1821 881.7,1823.3 887.6,1825.6 893.6,1827.8 899.6,1830 905.6,1832.1 911.6,1834.1 917.7,1836.1 923.7,1838.1 929.8,1840 935.9,1841.8 942,1843.6 948.2,1845.4 954.3,1847 960.5,1848.7 966.6,1850.3 972.8,1851.8 979,1853.2 985.2,1854.7 991.5,1856 997.7,1857.3 1003.9,1858.6 1010.2,1859.8 1016.5,1860.9 1022.7,1862 1029,1863 1035.3,1864 1041.6,1864.9 1047.9,1865.8 1054.3,1866.6 1060.6,1867.3 1066.9,1868 1073.3,1868.6 1079.6,1869.2 1086,1869.8 1092.3,1870.2 1098.7,1870.6 1105,1871 1111.4,1871.3 1117.8,1871.6 1124.1,1871.8 1130.5,1871.9 1136.9,1872 1143.2,1872 1149.6,1872 1156,1871.9 1162.3,1871.7 1168.7,1871.5 1175.1,1871.3 1181.4,1871 1187.8,1870.6 1194.2,1870.2 1200.5,1869.7 1206.9,1869.2 1213.2,1868.6 1219.5,1868 1225.9,1867.3 1232.2,1866.5 1238.5,1865.7" fill="#0082dd"/>
<polygon points="1245.2,1916.2 1238.5,1917.1 1231.7,1917.9 1224.9,1918.7 1218.1,1919.4 1211.3,1920 1204.5,1920.6 1197.8,1921.1 1190.9,1921.5 1184.1,1921.9 1177.3,1922.2 1170.5,1922.5 1163.7,1922.7 1156.9,1922.9 1150.1,1923 1143.3,1923 1136.4,1923 1129.6,1922.9 1122.8,1922.7 1116,1922.5 1109.2,1922.3 1102.4,1921.9 1095.6,1921.5 1088.7,1921.1 1081.9,1920.6 1075.2,1920 1068.4,1919.4 1061.6,1918.7 1054.8,1918 1048,1917.2 1041.3,1916.3 1034.5,1915.4 1027.8,1914.4 1021,1913.4 1014.3,1912.3 1007.6,1911.1 1000.9,1909.9 994.2,1908.6 987.5,1907.3 980.8,1905.9 974.2,1904.4 967.5,1902.9 960.9,1901.4 954.2,1899.7 947.6,1898 941.1,1896.3 934.5,1894.5 927.9,1892.6 921.4,1890.7 914.8,1888.7 908.3,1886.7 901.8,1884.6 895.4,1882.5 888.9,1880.3 882.5,1878 876.1,1875.7 869.7,1873.3 863.3,1870.9 857,1868.4 850.6,1865.9 844.3,1863.3 838,1860.7 831.8,1857.9 825.5,1855.2 819.3,1852.4 813.2,1849.5 807,1846.6 800.9,1843.6 794.7,1840.6 788.7,1837.5 782.6,1834.4 776.6,1831.2 770.6,1827.9 764.6,1824.6 758.7,1821.3 752.8,1817.9 746.9,1814.4 741,1810.9 735.2,1807.4 729.4,1803.8 732.1,1775.2 731.9,1799.9 737.6,1803.5 743.4,1807 749.2,1810.5 755.1,1813.9 761,1817.3 766.9,1820.6 772.8,1823.9 778.8,1827.1 784.7,1830.3 790.8,1833.4 796.8,1836.5 802.9,1839.5 809,1842.4 815.1,1845.3 821.3,1848.2 827.4,1851 833.6,1853.7 839.8,1856.4 846.1,1859.1 852.4,1861.6 858.7,1864.2 865,1866.6 871.3,1869 877.7,1871.4 884,1873.7 890.4,1875.9 896.8,1878.1 903.3,1880.3 909.7,1882.3 916.2,1884.4 922.7,1886.3 929.2,1888.2 935.7,1890.1 942.2,1891.9 948.8,1893.6 955.4,1895.3 961.9,1896.9 968.5,1898.4 975.2,1899.9 981.8,1901.4 988.4,1902.8 995.1,1904.1 1001.7,1905.4 1008.4,1906.6 1015.1,1907.7 1021.8,1908.8 1028.5,1909.9 1035.2,1910.8 1041.9,1911.8 1048.6,1912.6 1055.3,1913.4 1062.1,1914.1 1068.8,1914.8 1075.6,1915.4 1082.3,1916 1089.1,1916.5 1095.8,1917 1102.6,1917.3 1109.4,1917.7 1116.1,1917.9 1122.9,1918.1 1129.7,1918.3 1136.5,1918.4 1143.2,1918.4 1150,1918.4 1156.8,1918.3 1163.6,1918.1 1170.4,1917.9 1177.1,1917.6 1183.9,1917.3 1190.7,1916.9 1197.4,1916.5 1204.2,1916 1210.9,1915.4 1217.7,1914.8 1224.4,1914.1 1231.2,1913.4 1237.9,1912.5 1244.6,1911.7" fill="#2ea3ff"/>
<polygon points="1238.5,1865.7 1232.2,1866.5 1225.9,1867.3 1219.5,1868 1213.2,1868.6 1206.9,1869.2 1200.5,1869.7 1194.2,1870.2 1187.8,1870.6 1181.4,1871 1175.1,1871.3 1168.7,1871.5 1162.3,1871.7 1156,1871.9 1149.6,1872 1143.2,1872 1136.9,1872 1130.5,1871.9 1124.1,1871.8 1117.8,1871.6 1111.4,1871.3 1105,1871 1098.7,1870.6 1092.3,1870.2 1086,1869.8 1079.6,1869.2 1073.3,1868.6 1066.9,1868 1060.6,1867.3 1054.3,1866.6 1047.9,1865.8 1041.6,1864.9 1035.3,1864 1029,1863 1022.7,1862 1016.5,1860.9 1010.2,1859.8 1003.9,1858.6 997.7,1857.3 991.5,1856 985.2,1854.7 979,1853.2 972.8,1851.8 966.6,1850.3 960.5,1848.7 954.3,1847 948.2,1845.4 942,1843.6 935.9,1841.8 929.8,1840 923.7,1838.1 917.7,1836.1 911.6,1834.1 905.6,1832.1 899.6,1830 893.6,1827.8 887.6,1825.6 881.7,1823.3 875.7,1821 869.8,1818.6 863.9,1816.2 858.1,1813.7 852.2,1811.2 846.4,1808.6 840.6,1806 834.8,1803.3 829,1800.6 823.3,1797.8 817.6,1795 811.9,1792.1 806.3,1789.2 800.6,1786.2 795,1783.2 789.5,1780.1 783.9,1777 778.4,1773.8 772.9,1770.6 767.4,1767.3 762,1764 756.6,1760.6 732.1,1775.2 754.1,1764.5 759.6,1767.9 765,1771.2 770.5,1774.5 776.1,1777.8 781.6,1781 787.2,1784.1 792.8,1787.2 798.5,1790.3 804.1,1793.3 809.8,1796.2 815.5,1799.1 821.3,1802 827.1,1804.8 832.8,1807.5 838.7,1810.2 844.5,1812.8 850.4,1815.4 856.3,1818 862.2,1820.5 868.1,1822.9 874,1825.3 880,1827.6 886,1829.9 892,1832.1 898,1834.3 904.1,1836.4 910.2,1838.5 916.2,1840.5 922.3,1842.5 928.5,1844.4 934.6,1846.2 940.8,1848.1 946.9,1849.8 953.1,1851.5 959.3,1853.1 965.5,1854.7 971.7,1856.2 978,1857.7 984.2,1859.1 990.5,1860.5 996.8,1861.8 1003.1,1863.1 1009.4,1864.3 1015.7,1865.4 1022,1866.5 1028.3,1867.5 1034.6,1868.5 1041,1869.4 1047.3,1870.3 1053.7,1871.1 1060.1,1871.9 1066.4,1872.6 1072.8,1873.2 1079.2,1873.8 1085.6,1874.3 1092,1874.8 1098.4,1875.2 1104.8,1875.6 1111.2,1875.9 1117.6,1876.2 1124,1876.4 1130.4,1876.5 1136.8,1876.6 1143.2,1876.6 1149.6,1876.6 1156.1,1876.5 1162.5,1876.3 1168.9,1876.1 1175.3,1875.9 1181.7,1875.6 1188.1,1875.2 1194.5,1874.8 1200.9,1874.3 1207.3,1873.8 1213.6,1873.2 1220,1872.5 1226.4,1871.8 1232.8,1871.1 1239.1,1870.2" fill="#005a9c"/>
<polygon points="379.1,1288.3 377.9,1281.5 376.8,1274.8 375.7,1268.1 374.6,1261.3 373.6,1254.6 372.7,1247.8 371.8,1241.1 371,1234.3 370.3,1227.5 369.6,1220.7 369,1213.9 368.4,1207.1 367.9,1200.3 367.5,1193.5 367.1,1186.7 366.7,1179.9 366.5,1173 366.3,1166.2 366.1,1159.4 366,1152.6 366,1145.7 366,1138.9 366.1,1132.1 366.3,1125.3 366.5,1118.4 366.8,1111.6 367.1,1104.8 393.4,1093.2 418,1107.5 417.7,1113.9 417.5,1120.3 417.3,1126.6 417.1,1133 417,1139.4 417,1145.8 417,1152.1 417.1,1158.5 417.2,1164.9 417.4,1171.3 417.7,1177.6 418,1184 418.4,1190.4 418.8,1196.7 419.2,1203.1 419.8,1209.4 420.4,1215.8 421,1222.1 421.7,1228.5 422.5,1234.8 423.3,1241.1 424.1,1247.5 425,1253.8 426,1260.1 427,1266.4 428.1,1272.7 429.3,1278.9" fill="#0082dd"/>
<polygon points="379.1,1288.3 377.9,1281.5 376.8,1274.8 375.7,1268.1 374.6,1261.3 373.6,1254.6 372.7,1247.8 371.8,1241.1 371,1234.3 370.3,1227.5 369.6,1220.7 369,1213.9 368.4,1207.1 367.9,1200.3 367.5,1193.5 367.1,1186.7 366.7,1179.9 366.5,1173 366.3,1166.2 366.1,1159.4 366,1152.6 366,1145.7 366,1138.9 366.1,1132.1 366.3,1125.3 366.5,1118.4 366.8,1111.6 367.1,1104.8 393.4,1093.2 371.7,1105.1 371.4,1111.8 371.1,1118.6 370.9,1125.4 370.7,1132.2 370.6,1139 370.6,1145.7 370.6,1152.5 370.7,1159.3 370.9,1166.1 371.1,1172.9 371.3,1179.7 371.7,1186.4 372,1193.2 372.5,1200 373,1206.7 373.6,1213.5 374.2,1220.3 374.9,1227 375.6,1233.8 376.4,1240.5 377.3,1247.2 378.2,1253.9 379.2,1260.7 380.2,1267.4 381.3,1274.1 382.4,1280.7 383.7,1287.4" fill="#2ea3ff"/>
<polygon points="429.3,1278.9 428.1,1272.7 427,1266.4 426,1260.1 425,1253.8 424.1,1247.5 423.3,1241.1 422.5,1234.8 421.7,1228.5 421,1222.1 420.4,1215.8 419.8,1209.4 419.2,1203.1 418.8,1196.7 418.4,1190.4 418,1184 417.7,1177.6 417.4,1171.3 417.2,1164.9 417.1,1158.5 417,1152.1 417,1145.8 417,1139.4 417.1,1133 417.3,1126.6 417.5,1120.3 417.7,1113.9 418,1107.5 393.4,1093.2 413.4,1107.3 413.1,1113.7 412.9,1120.1 412.7,1126.5 412.5,1132.9 412.4,1139.3 412.4,1145.8 412.4,1152.2 412.5,1158.6 412.6,1165 412.8,1171.4 413.1,1177.8 413.4,1184.2 413.8,1190.7 414.2,1197.1 414.7,1203.5 415.2,1209.9 415.8,1216.2 416.4,1222.6 417.1,1229 417.9,1235.4 418.7,1241.7 419.6,1248.1 420.5,1254.5 421.5,1260.8 422.5,1267.1 423.6,1273.5 424.8,1279.8" fill="#005a9c"/>
<polygon points="370,1067.2 370.7,1060.4 371.5,1053.6 372.4,1046.7 373.3,1039.9 374.2,1033.1 375.3,1026.3 376.4,1019.5 377.5,1012.8 378.7,1006 380,999.3 381.3,992.5 382.7,985.8 384.1,979.1 385.6,972.4 387.2,965.7 388.8,959 390.5,952.3 392.3,945.7 394.1,939.1 395.9,932.5 397.8,925.9 426.1,920.6 446.7,940.3 445,946.5 443.2,952.6 441.5,958.8 439.9,965.1 438.3,971.3 436.8,977.5 435.4,983.8 434,990 432.6,996.3 431.3,1002.6 430.1,1008.9 428.9,1015.2 427.8,1021.5 426.7,1027.8 425.7,1034.2 424.7,1040.5 423.8,1046.9 422.9,1053.3 422.2,1059.6 421.4,1066 420.7,1072.4" fill="#0082dd"/>
<polygon points="370,1067.2 370.7,1060.4 371.5,1053.6 372.4,1046.7 373.3,1039.9 374.2,1033.1 375.3,1026.3 376.4,1019.5 377.5,1012.8 378.7,1006 380,999.3 381.3,992.5 382.7,985.8 384.1,979.1 385.6,972.4 387.2,965.7 388.8,959 390.5,952.3 392.3,945.7 394.1,939.1 395.9,932.5 397.8,925.9 426.1,920.6 402.3,927.2 400.3,933.7 398.5,940.3 396.7,946.9 395,953.5 393.3,960.1 391.7,966.7 390.1,973.4 388.6,980.1 387.2,986.7 385.8,993.4 384.5,1000.1 383.2,1006.8 382,1013.6 380.9,1020.3 379.8,1027 378.8,1033.8 377.8,1040.6 376.9,1047.3 376.1,1054.1 375.3,1060.9 374.6,1067.7" fill="#2ea3ff"/>
<polygon points="420.7,1072.4 421.4,1066 422.2,1059.6 422.9,1053.3 423.8,1046.9 424.7,1040.5 425.7,1034.2 426.7,1027.8 427.8,1021.5 428.9,1015.2 430.1,1008.9 431.3,1002.6 432.6,996.3 434,990 435.4,983.8 436.8,977.5 438.3,971.3 439.9,965.1 441.5,958.8 443.2,952.6 445,946.5 446.7,940.3 426.1,920.6 442.3,939 440.5,945.2 438.8,951.4 437.1,957.7 435.5,963.9 433.9,970.2 432.3,976.4 430.9,982.7 429.5,989 428.1,995.4 426.8,1001.7 425.5,1008 424.4,1014.4 423.2,1020.7 422.1,1027.1 421.1,1033.5 420.2,1039.9 419.2,1046.3 418.4,1052.7 417.6,1059.1 416.8,1065.5 416.2,1071.9" fill="#005a9c"/>
<polygon points="482.5,736.8 486.1,731 489.8,725.2 493.5,719.5 497.3,713.8 501.1,708.1 505,702.5 509,696.9 512.9,691.3 517,685.8 521,680.3 525.2,674.8 529.3,669.4 533.6,664 537.8,658.7 542.1,653.3 546.5,648.1 550.9,642.8 555.4,637.6 559.9,632.5 564.4,627.4 569,622.3 573.6,617.3 578.3,612.3 583,607.3 587.8,602.4 592.6,597.5 597.5,592.7 602.4,587.9 607.3,583.2 612.3,578.5 617.3,573.8 622.4,569.2 627.5,564.7 632.6,560.2 637.8,555.7 643,551.3 648.2,546.9 653.5,542.5 658.9,538.3 664.2,534 669.7,529.8 675.1,525.7 680.6,521.6 686.1,517.5 691.7,513.5 697.2,509.6 702.9,505.7 708.5,501.8 714.2,498 719.9,494.3 725.7,490.6 731.5,486.9 737.3,483.3 743.1,479.8 749,476.3 754.9,472.8 760.9,469.5 766.9,466.1 772.9,462.8 778.9,459.6 785,456.4 791,453.3 797.2,450.2 803.3,447.2 809.5,444.2 815.7,441.3 821.9,438.5 828.1,435.7 834.4,432.9 840.7,430.2 847,427.6 853.3,425 859.7,422.5 866.1,420 872.5,417.6 878.9,415.3 885.3,413 891.8,410.7 912.4,430.8 908.3,459 902.3,461.1 896.2,463.2 890.2,465.4 884.3,467.7 878.3,470 872.3,472.3 866.4,474.7 860.5,477.2 854.6,479.7 848.8,482.3 843,484.9 837.1,487.6 831.4,490.3 825.6,493.1 819.9,495.9 814.1,498.8 808.5,501.7 802.8,504.6 797.2,507.7 791.5,510.7 786,513.9 780.4,517 774.9,520.2 769.4,523.5 763.9,526.8 758.5,530.2 753.1,533.6 747.7,537.1 742.4,540.6 737,544.1 731.7,547.7 726.5,551.4 721.3,555 716.1,558.8 710.9,562.6 705.8,566.4 700.7,570.3 695.7,574.2 690.7,578.1 685.7,582.2 680.7,586.2 675.8,590.3 670.9,594.4 666.1,598.6 661.3,602.8 656.5,607.1 651.8,611.4 647.1,615.7 642.5,620.1 637.8,624.6 633.3,629 628.7,633.5 624.2,638.1 619.8,642.7 615.4,647.3 611,652 606.7,656.7 602.4,661.4 598.1,666.2 593.9,671 589.8,675.9 585.7,680.8 581.6,685.7 577.6,690.6 573.6,695.6 569.6,700.7 565.7,705.7 561.9,710.8 558.1,716 554.3,721.1 550.6,726.3 546.9,731.6 543.3,736.8 539.7,742.1 536.2,747.5 532.7,752.8 529.2,758.2 525.8,763.6" fill="#0082dd"/>
<polygon points="482.5,736.8 486.1,731 489.8,725.2 493.5,719.5 497.3,713.8 501.1,708.1 505,702.5 509,696.9 512.9,691.3 517,685.8 521,680.3 525.2,674.8 529.3,669.4 533.6,664 537.8,658.7 542.1,653.3 546.5,648.1 550.9,642.8 555.4,637.6 559.9,632.5 564.4,627.4 569,622.3 573.6,617.3 578.3,612.3 583,607.3 587.8,602.4 592.6,597.5 597.5,592.7 602.4,587.9 607.3,583.2 612.3,578.5 617.3,573.8 622.4,569.2 627.5,564.7 632.6,560.2 637.8,555.7 643,551.3 648.2,546.9 653.5,542.5 658.9,538.3 664.2,534 669.7,529.8 675.1,525.7 680.6,521.6 686.1,517.5 691.7,513.5 697.2,509.6 702.9,505.7 708.5,501.8 714.2,498 719.9,494.3 725.7,490.6 731.5,486.9 737.3,483.3 743.1,479.8 749,476.3 754.9,472.8 760.9,469.5 766.9,466.1 772.9,462.8 778.9,459.6 785,456.4 791,453.3 797.2,450.2 803.3,447.2 809.5,444.2 815.7,441.3 821.9,438.5 828.1,435.7 834.4,432.9 840.7,430.2 847,427.6 853.3,425 859.7,422.5 866.1,420 872.5,417.6 878.9,415.3 885.3,413 891.8,410.7 912.4,430.8 893.3,415.1 886.9,417.3 880.5,419.6 874.1,421.9 867.7,424.3 861.4,426.8 855,429.3 848.7,431.8 842.5,434.5 836.2,437.1 830,439.9 823.8,442.7 817.6,445.5 811.4,448.4 805.3,451.3 799.2,454.3 793.1,457.4 787.1,460.5 781,463.7 775.1,466.9 769.1,470.1 763.1,473.5 757.2,476.8 751.4,480.3 745.5,483.7 739.7,487.3 733.9,490.8 728.2,494.5 722.4,498.1 716.7,501.9 711.1,505.6 705.5,509.5 699.9,513.4 694.3,517.3 688.8,521.3 683.3,525.3 677.9,529.4 672.5,533.5 667.1,537.6 661.7,541.9 656.4,546.1 651.2,550.4 645.9,554.8 640.8,559.2 635.6,563.6 630.5,568.1 625.4,572.7 620.4,577.2 615.4,581.9 610.5,586.5 605.6,591.2 600.7,596 595.9,600.8 591.1,605.6 586.4,610.5 581.7,615.4 577,620.4 572.4,625.4 567.8,630.4 563.3,635.5 558.9,640.7 554.4,645.8 550,651 545.7,656.3 541.4,661.5 537.2,666.9 533,672.2 528.8,677.6 524.7,683 520.7,688.5 516.7,694 512.7,699.5 508.8,705.1 504.9,710.7 501.1,716.3 497.4,722 493.7,727.7 490,733.4 486.4,739.2" fill="#2ea3ff"/>
<polygon points="525.8,763.6 529.2,758.2 532.7,752.8 536.2,747.5 539.7,742.1 543.3,736.8 546.9,731.6 550.6,726.3 554.3,721.1 558.1,716 561.9,710.8 565.7,705.7 569.6,700.7 573.6,695.6 577.6,690.6 581.6,685.7 585.7,680.8 589.8,675.9 593.9,671 598.1,666.2 602.4,661.4 606.7,656.7 611,652 615.4,647.3 619.8,642.7 624.2,638.1 628.7,633.5 633.3,629 637.8,624.6 642.5,620.1 647.1,615.7 651.8,611.4 656.5,607.1 661.3,602.8 666.1,598.6 670.9,594.4 675.8,590.3 680.7,586.2 685.7,582.2 690.7,578.1 695.7,574.2 700.7,570.3 705.8,566.4 710.9,562.6 716.1,558.8 721.3,555 726.5,551.4 731.7,547.7 737,544.1 742.4,540.6 747.7,537.1 753.1,533.6 758.5,530.2 763.9,526.8 769.4,523.5 774.9,520.2 780.4,517 786,513.9 791.5,510.7 797.2,507.7 802.8,504.6 808.5,501.7 814.1,498.8 819.9,495.9 825.6,493.1 831.4,490.3 837.1,487.6 843,484.9 848.8,482.3 854.6,479.7 860.5,477.2 866.4,474.7 872.3,472.3 878.3,470 884.3,467.7 890.2,465.4 896.2,463.2 902.3,461.1 908.3,459 912.4,430.8 906.8,454.6 900.7,456.7 894.7,458.9 888.6,461.1 882.6,463.4 876.6,465.7 870.6,468.1 864.7,470.5 858.7,473 852.8,475.5 846.9,478.1 841,480.7 835.2,483.4 829.4,486.1 823.6,488.9 817.8,491.8 812.1,494.7 806.3,497.6 800.6,500.6 795,503.6 789.3,506.7 783.7,509.9 778.1,513 772.6,516.3 767,519.6 761.5,522.9 756,526.3 750.6,529.7 745.2,533.2 739.8,536.7 734.5,540.3 729.1,543.9 723.9,547.6 718.6,551.3 713.4,555.1 708.2,558.9 703,562.7 697.9,566.6 692.8,570.6 687.8,574.5 682.8,578.6 677.8,582.7 672.8,586.8 667.9,590.9 663.1,595.1 658.2,599.4 653.4,603.7 648.7,608 644,612.4 639.3,616.8 634.6,621.3 630,625.8 625.5,630.3 621,634.9 616.5,639.5 612,644.1 607.6,648.8 603.3,653.6 599,658.3 594.7,663.2 590.5,668 586.3,672.9 582.1,677.8 578,682.8 574,687.8 570,692.8 566,697.9 562.1,703 558.2,708.1 554.4,713.3 550.6,718.5 546.8,723.7 543.1,729 539.5,734.3 535.9,739.6 532.3,744.9 528.8,750.3 525.3,755.8 521.9,761.2" fill="#005a9c"/>
<polygon points="702.5,1786 696.8,1782.1 691.2,1778.2 685.7,1774.2 680.2,1770.1 674.7,1766 669.2,1761.8 663.8,1757.6 658.4,1753.4 653.1,1749.1 647.8,1744.7 642.5,1740.4 637.3,1735.9 632.1,1731.4 627,1726.9 621.9,1722.3 616.8,1717.7 611.8,1713.1 606.8,1708.3 601.9,1703.6 597,1698.8 592.1,1694 587.3,1689.1 582.5,1684.2 577.8,1679.2 573.1,1674.2 568.5,1669.2 563.9,1664.1 559.4,1658.9 554.9,1653.8 550.4,1648.6 546,1643.3 541.6,1638 537.3,1632.7 533.1,1627.4 528.8,1622 524.7,1616.5 520.5,1611 516.5,1605.5 512.4,1600 508.5,1594.4 504.5,1588.8 500.6,1583.2 496.8,1577.5 493,1571.8 489.3,1566 485.6,1560.2 482,1554.4 478.4,1548.6 474.9,1542.7 518.7,1516.7 522,1522.1 525.4,1527.6 528.8,1533 532.2,1538.4 535.7,1543.8 539.2,1549.2 542.8,1554.5 546.4,1559.7 550.1,1565 553.8,1570.2 557.6,1575.4 561.4,1580.5 565.2,1585.6 569.1,1590.7 573.1,1595.8 577.1,1600.8 581.1,1605.7 585.2,1610.7 589.3,1615.6 593.5,1620.4 597.7,1625.3 601.9,1630.1 606.2,1634.8 610.5,1639.5 614.9,1644.2 619.3,1648.8 623.8,1653.4 628.3,1658 632.8,1662.5 637.4,1667 642,1671.4 646.7,1675.8 651.4,1680.2 656.1,1684.5 660.9,1688.8 665.7,1693 670.5,1697.2 675.4,1701.3 680.3,1705.4 685.2,1709.5 690.2,1713.5 695.3,1717.5 700.3,1721.4 705.4,1725.3 710.5,1729.1 715.7,1732.9 720.9,1736.7 726.1,1740.4 731.4,1744" fill="#6a00d6"/>
<polygon points="702.5,1786 696.8,1782.1 691.2,1778.2 685.7,1774.2 680.2,1770.1 674.7,1766 669.2,1761.8 663.8,1757.6 658.4,1753.4 653.1,1749.1 647.8,1744.7 642.5,1740.4 637.3,1735.9 632.1,1731.4 627,1726.9 621.9,1722.3 616.8,1717.7 611.8,1713.1 606.8,1708.3 601.9,1703.6 597,1698.8 592.1,1694 587.3,1689.1 582.5,1684.2 577.8,1679.2 573.1,1674.2 568.5,1669.2 563.9,1664.1 559.4,1658.9 554.9,1653.8 550.4,1648.6 546,1643.3 541.6,1638 537.3,1632.7 533.1,1627.4 528.8,1622 524.7,1616.5 520.5,1611 516.5,1605.5 512.4,1600 508.5,1594.4 504.5,1588.8 500.6,1583.2 496.8,1577.5 493,1571.8 489.3,1566 485.6,1560.2 482,1554.4 478.4,1548.6 474.9,1542.7 478.9,1540.3 482.4,1546.2 485.9,1552 489.5,1557.8 493.2,1563.5 496.9,1569.2 500.6,1574.9 504.4,1580.6 508.3,1586.2 512.2,1591.8 516.2,1597.3 520.2,1602.8 524.2,1608.3 528.3,1613.7 532.5,1619.1 536.7,1624.5 540.9,1629.8 545.2,1635.1 549.5,1640.4 553.9,1645.6 558.4,1650.8 562.8,1655.9 567.3,1661 571.9,1666.1 576.5,1671.1 581.2,1676 585.9,1681 590.6,1685.9 595.4,1690.7 600.2,1695.5 605.1,1700.3 610,1705 614.9,1709.7 619.9,1714.3 625,1718.9 630,1723.5 635.2,1728 640.3,1732.4 645.5,1736.8 650.7,1741.2 656,1745.5 661.3,1749.8 666.6,1754 672,1758.2 677.4,1762.3 682.9,1766.4 688.4,1770.4 693.9,1774.4 699.5,1778.4 705.1,1782.2" fill="#9233ff"/>
<polygon points="731.4,1744 726.1,1740.4 720.9,1736.7 715.7,1732.9 710.5,1729.1 705.4,1725.3 700.3,1721.4 695.3,1717.5 690.2,1713.5 685.2,1709.5 680.3,1705.4 675.4,1701.3 670.5,1697.2 665.7,1693 660.9,1688.8 656.1,1684.5 651.4,1680.2 646.7,1675.8 642,1671.4 637.4,1667 632.8,1662.5 628.3,1658 623.8,1653.4 619.3,1648.8 614.9,1644.2 610.5,1639.5 606.2,1634.8 601.9,1630.1 597.7,1625.3 593.5,1620.4 589.3,1615.6 585.2,1610.7 581.1,1605.7 577.1,1600.8 573.1,1595.8 569.1,1590.7 565.2,1585.6 561.4,1580.5 557.6,1575.4 553.8,1570.2 550.1,1565 546.4,1559.7 542.8,1554.5 539.2,1549.2 535.7,1543.8 532.2,1538.4 528.8,1533 525.4,1527.6 522,1522.1 518.7,1516.7 514.8,1519 518.1,1524.5 521.5,1530 524.9,1535.5 528.3,1540.9 531.8,1546.3 535.4,1551.7 539,1557 542.6,1562.4 546.3,1567.6 550.1,1572.9 553.9,1578.1 557.7,1583.3 561.6,1588.4 565.5,1593.5 569.5,1598.6 573.5,1603.6 577.6,1608.7 581.7,1613.6 585.8,1618.6 590,1623.4 594.2,1628.3 598.5,1633.1 602.8,1637.9 607.2,1642.7 611.6,1647.4 616,1652 620.5,1656.7 625,1661.2 629.6,1665.8 634.2,1670.3 638.8,1674.8 643.5,1679.2 648.2,1683.6 653,1687.9 657.8,1692.2 662.6,1696.5 667.5,1700.7 672.4,1704.9 677.4,1709 682.3,1713.1 687.4,1717.1 692.4,1721.1 697.5,1725.1 702.6,1729 707.8,1732.8 713,1736.6 718.2,1740.4 723.5,1744.1 728.8,1747.8" fill="#43008c"/>
<polygon points="453.2,1503.7 450,1497.5 446.9,1491.3 443.8,1485 440.8,1478.7 437.9,1472.4 435,1466 432.1,1459.7 429.3,1453.3 426.6,1446.9 423.9,1440.4 421.3,1433.9 418.8,1427.5 416.3,1420.9 413.8,1414.4 411.5,1407.9 409.1,1401.3 406.9,1394.7 404.7,1388.1 402.5,1381.4 400.4,1374.8 398.4,1368.1 396.5,1361.4 394.5,1354.7 392.7,1348 390.9,1341.2 389.2,1334.5 387.5,1327.7 385.9,1320.9 384.4,1314.1 382.9,1307.3 381.5,1300.4 380.1,1293.6 430.2,1283.9 431.5,1290.3 432.8,1296.7 434.2,1303.1 435.6,1309.4 437.1,1315.8 438.7,1322.1 440.3,1328.4 442,1334.7 443.7,1341 445.5,1347.3 447.3,1353.5 449.2,1359.7 451.1,1366 453.1,1372.2 455.2,1378.4 457.3,1384.5 459.5,1390.7 461.7,1396.8 464,1402.9 466.3,1409 468.7,1415 471.1,1421.1 473.6,1427.1 476.2,1433.1 478.8,1439.1 481.4,1445 484.2,1451 486.9,1456.9 489.7,1462.7 492.6,1468.6 495.5,1474.4 498.5,1480.2" fill="#6a00d6"/>
<polygon points="453.2,1503.7 450,1497.5 446.9,1491.3 443.8,1485 440.8,1478.7 437.9,1472.4 435,1466 432.1,1459.7 429.3,1453.3 426.6,1446.9 423.9,1440.4 421.3,1433.9 418.8,1427.5 416.3,1420.9 413.8,1414.4 411.5,1407.9 409.1,1401.3 406.9,1394.7 404.7,1388.1 402.5,1381.4 400.4,1374.8 398.4,1368.1 396.5,1361.4 394.5,1354.7 392.7,1348 390.9,1341.2 389.2,1334.5 387.5,1327.7 385.9,1320.9 384.4,1314.1 382.9,1307.3 381.5,1300.4 380.1,1293.6 384.7,1292.7 386,1299.5 387.4,1306.3 388.9,1313.1 390.4,1319.9 392,1326.6 393.7,1333.3 395.4,1340.1 397.1,1346.8 399,1353.4 400.9,1360.1 402.8,1366.8 404.8,1373.4 406.9,1380 409,1386.6 411.2,1393.2 413.5,1399.8 415.8,1406.3 418.1,1412.8 420.6,1419.3 423.1,1425.8 425.6,1432.2 428.2,1438.7 430.9,1445.1 433.6,1451.5 436.3,1457.8 439.2,1464.1 442,1470.5 445,1476.7 448,1483 451,1489.2 454.1,1495.4 457.3,1501.6" fill="#9233ff"/>
<polygon points="498.5,1480.2 495.5,1474.4 492.6,1468.6 489.7,1462.7 486.9,1456.9 484.2,1451 481.4,1445 478.8,1439.1 476.2,1433.1 473.6,1427.1 471.1,1421.1 468.7,1415 466.3,1409 464,1402.9 461.7,1396.8 459.5,1390.7 457.3,1384.5 455.2,1378.4 453.1,1372.2 451.1,1366 449.2,1359.7 447.3,1353.5 445.5,1347.3 443.7,1341 442,1334.7 440.3,1328.4 438.7,1322.1 437.1,1315.8 435.6,1309.4 434.2,1303.1 432.8,1296.7 431.5,1290.3 430.2,1283.9 425.7,1284.8 427,1291.2 428.3,1297.6 429.7,1304 431.1,1310.4 432.7,1316.8 434.2,1323.2 435.8,1329.6 437.5,1335.9 439.2,1342.2 441,1348.5 442.9,1354.8 444.8,1361.1 446.7,1367.4 448.8,1373.6 450.8,1379.8 453,1386 455.1,1392.2 457.4,1398.4 459.7,1404.5 462,1410.6 464.4,1416.8 466.9,1422.8 469.4,1428.9 472,1434.9 474.6,1440.9 477.3,1446.9 480,1452.9 482.8,1458.8 485.6,1464.7 488.5,1470.6 491.4,1476.5 494.4,1482.3" fill="#43008c"/>
<polygon points="940.1,396 948.2,393.8 956.3,391.8 964.5,389.8 976.2,439.4 968.6,441.3 961,443.2 953.4,445.2" fill="#ff8200"/>
<polygon points="940.1,396 948.2,393.8 956.3,391.8 964.5,389.8 965.5,394.3 957.4,396.2 949.3,398.3 941.3,400.4" fill="#ff9b33"/>
<polygon points="953.4,445.2 961,443.2 968.6,441.3 976.2,439.4 975.1,434.9 967.5,436.8 959.8,438.7 952.2,440.8" fill="#c06200"/>
<polygon points="964.5,389.8 972.7,387.9 980.9,386.1 989.1,384.4 999.2,434.4 991.5,436 983.8,437.7 976.2,439.4" fill="#ff8200"/>
<polygon points="964.5,389.8 972.7,387.9 980.9,386.1 989.1,384.4 990,388.9 981.8,390.6 973.7,392.4 965.5,394.3" fill="#ff9b33"/>
<polygon points="976.2,439.4 983.8,437.7 991.5,436 999.2,434.4 998.3,429.9 990.5,431.5 982.8,433.2 975.1,434.9" fill="#c06200"/>
<polygon points="989.1,384.4 997.3,382.8 1005.6,381.3 1013.8,379.8 1022.3,430.1 1014.6,431.4 1006.9,432.9 999.2,434.4" fill="#ff8200"/>
<polygon points="989.1,384.4 997.3,382.8 1005.6,381.3 1013.8,379.8 1014.6,384.3 1006.4,385.8 998.2,387.3 990,388.9" fill="#ff9b33"/>
<polygon points="999.2,434.4 1006.9,432.9 1014.6,431.4 1022.3,430.1 1021.6,425.6 1013.8,426.9 1006,428.4 998.3,429.9" fill="#c06200"/>
<polygon points="1013.8,379.8 1022.1,378.5 1030.4,377.2 1038.7,376 1045.6,426.6 1037.8,427.7 1030.1,428.8 1022.3,430.1" fill="#ff8200"/>
<polygon points="1013.8,379.8 1022.1,378.5 1030.4,377.2 1038.7,376 1039.4,380.6 1031.1,381.7 1022.8,383 1014.6,384.3" fill="#ff9b33"/>
<polygon points="1022.3,430.1 1030.1,428.8 1037.8,427.7 1045.6,426.6 1045,422 1037.1,423.1 1029.3,424.3 1021.6,425.6" fill="#c06200"/>
<polygon points="1038.7,376 1047.1,374.9 1055.4,374 1063.7,373.1 1068.9,423.8 1061.2,424.6 1053.4,425.6 1045.6,426.6" fill="#ff8200"/>
<polygon points="1038.7,376 1047.1,374.9 1055.4,374 1063.7,373.1 1064.2,377.6 1055.9,378.5 1047.6,379.5 1039.4,380.6" fill="#ff9b33"/>
<polygon points="1045.6,426.6 1053.4,425.6 1061.2,424.6 1068.9,423.8 1068.5,419.2 1060.6,420.1 1052.8,421 1045,422" fill="#c06200"/>
<polygon points="1063.7,373.1 1072.1,372.2 1080.5,371.5 1088.8,370.9 1092.4,421.8 1084.6,422.4 1076.8,423 1068.9,423.8" fill="#ff8200"/>
<polygon points="1063.7,373.1 1072.1,372.2 1080.5,371.5 1088.8,370.9 1089.2,375.5 1080.8,376.1 1072.5,376.8 1064.2,377.6" fill="#ff9b33"/>
<polygon points="1068.9,423.8 1076.8,423 1084.6,422.4 1092.4,421.8 1092.1,417.2 1084.2,417.8 1076.3,418.4 1068.5,419.2" fill="#c06200"/>
<polygon points="1088.8,370.9 1097.2,370.4 1105.6,369.9 1114,369.5 1115.9,420.5 1108.1,420.8 1100.2,421.3 1092.4,421.8" fill="#ff8200"/>
<polygon points="1088.8,370.9 1097.2,370.4 1105.6,369.9 1114,369.5 1114.2,374.1 1105.8,374.5 1097.5,374.9 1089.2,375.5" fill="#ff9b33"/>
<polygon points="1092.4,421.8 1100.2,421.3 1108.1,420.8 1115.9,420.5 1115.7,415.9 1107.8,416.2 1099.9,416.7 1092.1,417.2" fill="#c06200"/>
<polygon points="1119.9,369.3 1127.6,369.2 1135.3,369 1143,369 1143,420 1135.8,420 1128.6,420.1 1121.5,420.3" fill="#e30b0b"/>
<polygon points="1119.9,369.3 1127.6,369.2 1135.3,369 1143,369 1143,373.6 1135.4,373.6 1127.7,373.8 1120.1,373.9" fill="#f5464b"/>
<polygon points="1121.5,420.3 1128.6,420.1 1135.8,420 1143,420 1143,415.4 1135.8,415.4 1128.5,415.5 1121.3,415.7" fill="#940606"/>
<polygon points="1368.2,402.4 1376.3,404.9 1384.4,407.4 1392.4,410.1 1376,458.4 1368.5,455.9 1361,453.5 1353.4,451.2" fill="#e30b0b"/>
<polygon points="1368.2,402.4 1376.3,404.9 1384.4,407.4 1392.4,410.1 1390.9,414.5 1382.9,411.8 1374.9,409.2 1366.9,406.8" fill="#f5464b"/>
<polygon points="1353.4,451.2 1361,453.5 1368.5,455.9 1376,458.4 1377.5,454 1369.9,451.5 1362.4,449.1 1354.8,446.8" fill="#940606"/>
<polygon points="1916.6,1072.9 1917.2,1080.1 1917.8,1087.3 1918.3,1094.5 1867.4,1097.9 1866.9,1091.1 1866.4,1084.4 1865.8,1077.7" fill="#e30b0b"/>
<polygon points="1916.6,1072.9 1917.2,1080.1 1917.8,1087.3 1918.3,1094.5 1913.7,1094.8 1913.2,1087.6 1912.6,1080.5 1912,1073.3" fill="#f5464b"/>
<polygon points="1865.8,1077.7 1866.4,1084.4 1866.9,1091.1 1867.4,1097.9 1872,1097.6 1871.5,1090.8 1871,1084 1870.4,1077.2" fill="#940606"/>
<polygon points="1918.3,1094.5 1918.7,1101.7 1919.1,1108.9 1919.4,1116.2 1868.5,1118.1 1868.2,1111.4 1867.8,1104.6 1867.4,1097.9" fill="#e30b0b"/>
<polygon points="1918.3,1094.5 1918.7,1101.7 1919.1,1108.9 1919.4,1116.2 1914.8,1116.3 1914.5,1109.2 1914.1,1102 1913.7,1094.8" fill="#f5464b"/>
<polygon points="1867.4,1097.9 1867.8,1104.6 1868.2,1111.4 1868.5,1118.1 1873.1,1118 1872.8,1111.2 1872.4,1104.4 1872,1097.6" fill="#940606"/>
<polygon points="1919.4,1116.2 1919.7,1123.3 1919.8,1130.5 1920,1137.6 1869,1138.1 1868.9,1131.5 1868.7,1124.8 1868.5,1118.1" fill="#e30b0b"/>
<polygon points="1919.4,1116.2 1919.7,1123.3 1919.8,1130.5 1920,1137.6 1915.4,1137.6 1915.2,1130.5 1915.1,1123.4 1914.8,1116.3" fill="#f5464b"/>
<polygon points="1868.5,1118.1 1868.7,1124.8 1868.9,1131.5 1869,1138.1 1873.6,1138.1 1873.5,1131.4 1873.3,1124.7 1873.1,1118" fill="#940606"/>
<polygon points="1776.1,1596.4 1771.8,1602.5 1767.4,1608.4 1763,1614.4 1722.3,1583.6 1726.4,1578.1 1730.5,1572.5 1734.6,1566.9" fill="#e30b0b"/>
<polygon points="1776.1,1596.4 1771.8,1602.5 1767.4,1608.4 1763,1614.4 1759.3,1611.6 1763.7,1605.7 1768.1,1599.8 1772.4,1593.8" fill="#f5464b"/>
<polygon points="1734.6,1566.9 1730.5,1572.5 1726.4,1578.1 1722.3,1583.6 1725.9,1586.4 1730.1,1580.8 1734.2,1575.2 1738.3,1569.5" fill="#940606"/>
<polygon points="1763,1614.4 1758.2,1620.6 1753.4,1626.8 1748.5,1632.9 1708.8,1600.9 1713.3,1595.2 1717.8,1589.4 1722.3,1583.6" fill="#e30b0b"/>
<polygon points="1763,1614.4 1758.2,1620.6 1753.4,1626.8 1748.5,1632.9 1745,1630 1749.8,1623.9 1754.6,1617.8 1759.3,1611.6" fill="#f5464b"/>
<polygon points="1722.3,1583.6 1717.8,1589.4 1713.3,1595.2 1708.8,1600.9 1712.4,1603.8 1717,1598 1721.5,1592.2 1725.9,1586.4" fill="#940606"/>
<polygon points="1747.3,1634.5 1743,1639.7 1738.7,1644.9 1734.3,1650.1 1695.5,1617 1699.6,1612.2 1703.6,1607.3 1707.6,1602.4" fill="#e30b0b"/>
<polygon points="1747.3,1634.5 1743,1639.7 1738.7,1644.9 1734.3,1650.1 1730.8,1647.1 1735.1,1642 1739.4,1636.8 1743.7,1631.6" fill="#f5464b"/>
<polygon points="1707.6,1602.4 1703.6,1607.3 1699.6,1612.2 1695.5,1617 1699,1620 1703.1,1615.1 1707.2,1610.2 1711.2,1605.3" fill="#940606"/>
<polygon points="1489.7,1841.4 1483.1,1844.6 1476.5,1847.8 1469.9,1850.9 1448.4,1804.6 1454.6,1801.7 1460.8,1798.7 1466.9,1795.7" fill="#e30b0b"/>
<polygon points="1489.7,1841.4 1483.1,1844.6 1476.5,1847.8 1469.9,1850.9 1468,1846.7 1474.6,1843.6 1481.1,1840.5 1487.6,1837.2" fill="#f5464b"/>
<polygon points="1466.9,1795.7 1460.8,1798.7 1454.6,1801.7 1448.4,1804.6 1450.4,1808.8 1456.6,1805.9 1462.8,1802.9 1469,1799.8" fill="#940606"/>
<polygon points="1467.4,1852 1460.8,1855 1454.2,1858 1447.5,1860.9 1427.5,1813.9 1433.7,1811.2 1439.9,1808.5 1446.1,1805.7" fill="#e30b0b"/>
<polygon points="1467.4,1852 1460.8,1855 1454.2,1858 1447.5,1860.9 1445.7,1856.6 1452.3,1853.8 1458.9,1850.8 1465.5,1847.8" fill="#f5464b"/>
<polygon points="1446.1,1805.7 1439.9,1808.5 1433.7,1811.2 1427.5,1813.9 1429.3,1818.2 1435.6,1815.5 1441.8,1812.7 1448.1,1809.9" fill="#940606"/>
<polygon points="1447.5,1860.9 1440.6,1863.7 1433.8,1866.5 1426.9,1869.3 1408.3,1821.8 1414.7,1819.2 1421.1,1816.6 1427.5,1813.9" fill="#e30b0b"/>
<polygon points="1447.5,1860.9 1440.6,1863.7 1433.8,1866.5 1426.9,1869.3 1425.2,1865 1432.1,1862.3 1438.9,1859.5 1445.7,1856.6" fill="#f5464b"/>
<polygon points="1427.5,1813.9 1421.1,1816.6 1414.7,1819.2 1408.3,1821.8 1409.9,1826.1 1416.4,1823.5 1422.9,1820.9 1429.3,1818.2" fill="#940606"/>
<polygon points="1426.9,1869.3 1420,1871.9 1413.1,1874.5 1406.2,1877.1 1388.9,1829.1 1395.4,1826.7 1401.8,1824.3 1408.3,1821.8" fill="#e30b0b"/>
<polygon points="1426.9,1869.3 1420,1871.9 1413.1,1874.5 1406.2,1877.1 1404.6,1872.7 1411.5,1870.2 1418.4,1867.6 1425.2,1865" fill="#f5464b"/>
<polygon points="1408.3,1821.8 1401.8,1824.3 1395.4,1826.7 1388.9,1829.1 1390.5,1833.4 1397,1831 1403.5,1828.6 1409.9,1826.1" fill="#940606"/>
<polygon points="1287.9,1909.4 1280.8,1910.7 1273.7,1911.9 1266.6,1913.1 1258.4,1862.8 1265.1,1861.7 1271.8,1860.5 1278.4,1859.3" fill="#e30b0b"/>
<polygon points="1287.9,1909.4 1280.8,1910.7 1273.7,1911.9 1266.6,1913.1 1265.8,1908.6 1272.9,1907.4 1280,1906.2 1287.1,1904.8" fill="#f5464b"/>
<polygon points="1278.4,1859.3 1271.8,1860.5 1265.1,1861.7 1258.4,1862.8 1259.2,1867.3 1265.9,1866.2 1272.6,1865 1279.3,1863.8" fill="#940606"/>
<polygon points="1266.6,1913.1 1259.5,1914.2 1252.3,1915.3 1245.2,1916.2 1238.5,1865.7 1245.2,1864.8 1251.8,1863.8 1258.4,1862.8" fill="#e30b0b"/>
<polygon points="1266.6,1913.1 1259.5,1914.2 1252.3,1915.3 1245.2,1916.2 1244.6,1911.7 1251.7,1910.7 1258.8,1909.7 1265.8,1908.6" fill="#f5464b"/>
<polygon points="1258.4,1862.8 1251.8,1863.8 1245.2,1864.8 1238.5,1865.7 1239.1,1870.2 1245.8,1869.3 1252.5,1868.3 1259.2,1867.3" fill="#940606"/>
<polygon points="719.8,1797.6 714,1793.8 708.2,1790 702.5,1786 731.4,1744 736.7,1747.7 742.2,1751.3 747.6,1754.9" fill="#e30b0b"/>
<polygon points="719.8,1797.6 714,1793.8 708.2,1790 702.5,1786 705.1,1782.2 710.8,1786.1 716.5,1790 722.3,1793.8" fill="#f5464b"/>
<polygon points="747.6,1754.9 742.2,1751.3 736.7,1747.7 731.4,1744 728.8,1747.8 734.2,1751.5 739.6,1755.1 745.1,1758.7" fill="#940606"/>
<polygon points="474.9,1542.7 471,1536.1 467.3,1529.6 463.6,1522.9 508.1,1498.2 511.6,1504.4 515.2,1510.5 518.7,1516.7" fill="#e30b0b"/>
<polygon points="474.9,1542.7 471,1536.1 467.3,1529.6 463.6,1522.9 467.6,1520.7 471.3,1527.3 475,1533.8 478.9,1540.3" fill="#f5464b"/>
<polygon points="518.7,1516.7 515.2,1510.5 511.6,1504.4 508.1,1498.2 504.1,1500.4 507.6,1506.7 511.2,1512.8 514.8,1519" fill="#940606"/>
<polygon points="368,1090.2 368.6,1082.5 369.3,1074.9 370,1067.2 420.7,1072.4 420,1079.5 419.4,1086.7 418.9,1093.8" fill="#e30b0b"/>
<polygon points="368,1090.2 368.6,1082.5 369.3,1074.9 370,1067.2 374.6,1067.7 373.8,1075.3 373.2,1082.9 372.6,1090.5" fill="#f5464b"/>
<polygon points="418.9,1093.8 419.4,1086.7 420,1079.5 420.7,1072.4 416.2,1071.9 415.5,1079.1 414.8,1086.3 414.3,1093.5" fill="#940606"/>
<polygon points="402.7,909.9 405,903.1 407.2,896.2 409.6,889.4 457.7,906.3 455.5,912.6 453.4,919 451.3,925.4" fill="#e30b0b"/>
<polygon points="402.7,909.9 405,903.1 407.2,896.2 409.6,889.4 413.9,891 411.6,897.7 409.3,904.5 407.1,911.3" fill="#f5464b"/>
<polygon points="451.3,925.4 453.4,919 455.5,912.6 457.7,906.3 453.4,904.8 451.2,911.2 449,917.6 446.9,924" fill="#940606"/>
<polygon points="433.8,828.5 438,819.4 442.2,810.4 488.2,832.4 484.2,840.8 480.4,849.3" fill="#e30b0b"/>
<polygon points="433.8,828.5 438,819.4 442.2,810.4 446.4,812.4 442.1,821.3 438,830.4" fill="#f5464b"/>
<polygon points="480.4,849.3 484.2,840.8 488.2,832.4 484.1,830.4 480.1,838.9 476.2,847.4" fill="#940606"/>
<polygon points="445.3,804 448.4,797.7 451.6,791.4 454.9,785.2 500,808.9 497,814.7 494,820.6 491.1,826.5" fill="#e30b0b"/>
<polygon points="445.3,804 448.4,797.7 451.6,791.4 454.9,785.2 458.9,787.3 455.7,793.5 452.5,799.8 449.4,806.1" fill="#f5464b"/>
<polygon points="491.1,826.5 494,820.6 497,814.7 500,808.9 496,806.7 492.9,812.6 489.9,818.5 487,824.5" fill="#940606"/>
<polygon points="460.3,775 465.1,766.3 470,757.7 514.1,783.2 509.6,791.3 505.1,799.4" fill="#e30b0b"/>
<polygon points="460.3,775 465.1,766.3 470,757.7 473.9,760 469.1,768.6 464.3,777.2" fill="#f5464b"/>
<polygon points="505.1,799.4 509.6,791.3 514.1,783.2 510.2,780.9 505.6,789 501.1,797.2" fill="#940606"/>
<polygon points="472.7,753 477.5,744.9 482.5,736.8 525.8,763.6 521.2,771.2 516.7,778.8" fill="#e30b0b"/>
<polygon points="472.7,753 477.5,744.9 482.5,736.8 486.4,739.2 481.5,747.3 476.7,755.4" fill="#f5464b"/>
<polygon points="516.7,778.8 521.2,771.2 525.8,763.6 521.9,761.2 517.3,768.8 512.7,776.5" fill="#940606"/>
<path d="M1143,509L1145.2,509.6L1147.4,511L1149.7,509.9L1151.9,506L1154.2,506.6L1156.4,507.6L1158.6,506.1L1160.9,505.9L1163.1,505.9L1165.4,505.8L1167.7,504.1L1169.8,505.8L1172.2,503.8L1174.5,502.4L1176.7,502.7L1179,502.7L1181.2,503.2L1183.6,501.4L1185.8,502.2L1187.9,503.5L1190,505.4L1192.3,504.7L1194.9,500.9L1197.2,500.1L1199.7,498.4L1201.8,499.7L1204.1,500L1206,503.2L1208.3,503.3L1211,499.3L1213.2,499.8L1215.6,498.5L1217.9,498.3L1220.3,497.6L1222.7,497L1225.1,496.2L1227.7,493.6L1230,494.2L1232.1,495.7L1234.6,494.4L1236.6,496.8L1239.1,495L1241.3,495.9L1244,493.4L1246.3,493.8L1249,491.6L1251,493.3L1253.6,492.2L1255.6,494.1L1257.6,496L1259.9,496.1L1262.6,494.3L1264.7,495.4L1267.2,495.1L1269.6,494.8L1271.9,495.1L1273.7,497.8L1276.1,497.4L1278.6,496.9L1280.7,498L1282.8,499.4L1284.9,500.6L1287.4,500L1290.4,497.1L1292.5,498.3L1294.4,500.7L1296,503.7L1298.9,501.7L1300.7,503.9L1304,500.2L1306,501.9L1307.8,504L1309.3,507.4L1312.2,505.7L1313.6,509.3L1316.1,508.7L1318.1,510.3L1320.1,511.6L1323.3,508.9L1324.8,511.9L1327,512.5L1329,514.1L1331.2,514.7L1334.1,513.1L1335.9,515L1338.6,514.3L1339.9,517.8L1341.6,520L1344.8,517.4L1346.9,518.4L1349.5,518L1351.9,517.9L1352.9,522.4L1354.7,524.1L1356.3,526.4L1358.6,526.9L1361.4,525.8L1363.6,526.5L1364.9,529.6L1366.8,531.1L1367.1,536.8L1369.2,537.7L1370,542.1L1372.5,541.8L1374,544.3L1375.4,546.8L1377.4,547.8L1380.4,546.4L1384,543.4L1387,542.1L1390.2,540.3L1393.9,537.3L1394.9,540.8L1398,539.4L1399.6,541.5L1403,539.3L1404.9,540.8L1407.2,541.3L1411,538.3L1412.9,539.7L1416.7,536.9L1419.3,536.8L1421,538.7L1424.5,536.7L1426.8,537.4L1429.7,536.8L1432.5,536.4L1436.5,533.4L1438.1,535.6L1440.1,536.9L1442.3,537.7L1442.7,542.4L1445.9,541.2L1447,544.2L1449.9,543.8L1451.9,544.9L1454.9,544.2L1457.9,543.7L1460.8,543.2L1462,546L1463.3,548.6L1465.3,549.9L1466.4,552.8L1469.4,552.2L1470,556.1L1471.4,558.5L1472.4,561.5L1473.1,564.9L1475.5,565.4L1476.6,568.2L1479,568.7L1480,571.5L1483.6,570.2L1486.8,569.2L1489.3,569.7L1491.5,570.6L1495.2,569L1497.7,569.5L1500.5,569.5L1501.6,572.2L1504.8,571.5L1507.2,572.2L1511.3,570.1L1513.3,571.5L1514.5,573.9L1515.9,576.1L1516.2,580L1520.8,577.4L1524,576.9L1528.1,575.1L1528.6,578.6L1528.8,582.6L1530.5,584.3L1532,586.3L1534.7,586.6L1536.8,587.8L1535.7,593.5L1536,597L1537.7,598.7L1540,599.5L1540.8,602.4L1543.1,603.3L1545.7,603.7L1546.2,607L1546.1,611.1L1547.7,612.8L1549.9,613.8L1550.7,616.6L1553.1,617.3L1555,618.7L1556,621.2L1556.7,624L1557.9,626.3L1558,629.9L1561.7,629L1562.5,631.6L1563.5,634L1566.1,634.6L1566.6,637.6L1567.1,640.6L1568.3,642.7L1571.3,642.8L1571.3,646.3L1572.3,648.6L1571.4,653.1L1574,653.7L1575.8,655.1L1576.1,658.1L1578.4,659.1L1579.5,661.2L1583.2,660.5L1583.8,663.3L1584.3,666.1L1586.9,666.6L1589,667.7L1588.3,671.8L1591,672.2L1592.7,673.7L1591.4,678.4L1592.4,680.7L1591.3,685L1591.5,688L1591.6,691.1L1593,692.8L1592.2,696.8L1592.4,699.8L1594.8,700.5L1597.1,701.3L1600.4,701.2L1603.3,701.5L1604.2,703.8L1606,705.1L1606.4,707.8L1607.5,709.8L1608.1,712.2L1610.3,713.3L1612.3,714.4L1613.7,716.2L1613.8,719.1L1615.3,720.7L1619.5,720L1621,721.6L1624.9,721.1L1626.3,722.9L1626.9,725.3L1628.1,727.3L1632.1,726.8L1632.2,729.6L1632.2,732.6L1633.6,734.4L1635.5,735.6L1634.2,739.6L1628.9,746.9L1631.2,747.8L1634.4,748.1L1637.9,748.1L1637.4,751.3L1639.5,752.5L1642.7,752.8L1646.8,752.4L1649.5,753.1L1647.7,757.3L1648.4,759.6L1651.4,760.1L1650.1,763.9L1652.8,764.6L1656.3,764.8L1659.3,765.4L1658.8,768.5L1661.5,769.3L1662.8,771.1L1664.4,772.7L1666.6,773.9L1668,775.6L1672.6,775.2L1676,775.6L1678.3,776.7L1678.6,779.3L1681.1,780.3L1683.8,781.2L1684.9,783.2L1686.4,784.9L1690.7,784.8L1693.2,786L1693.7,788.4L1692.1,792.1L1692.2,794.8L1697.5,794.1L1698,796.5L1701.7,796.9L1701.5,799.7L1704.4,800.6L1705.9,802.4L1704,806.2L1705.2,808.2L1703.3,812L1706.3,812.9L1703.1,817.4L1708.4,816.9L1708.9,819.3L1712.1,820.1L1715.1,821L1718.5,821.7L1719.3,823.9L1720.3,826L1723.1,827.1L1722.2,830.2L1722.6,832.6L1721.4,835.9L1721,838.7L1722,840.7L1724.9,841.8L1725.4,844.1L1729.5,844.6L1733.6,845.1L1732.3,848.3L1733.9,850.1L1732.6,853.3L1733,855.7L1731.3,859.1L1732,861.3L1732.7,863.5L1730.5,867.1L1728.9,870.3L1738.9,868.1L1737.1,871.5L1739,873.1L1743,873.8L1745.7,875.1L1749.3,876.1L1751.3,877.7L1752,879.9L1756.1,880.7L1758.8,882.1L1759.3,884.4L1762.4,885.6L1765.4,886.9L1765,889.6L1767,891.3L1767,893.9L1765.8,896.9L1770.1,897.7L1769.4,900.5L1771.6,902.2L1772.8,904.3L1772.5,906.9L1773.9,908.9L1775.1,910.9L1776,913.1L1775.2,915.9L1775.2,918.4L1775.8,920.7L1775.2,923.4L1775.7,925.7L1777,927.7L1778.2,929.8L1776.7,932.7L1778.5,934.6L1779.7,936.7L1781.4,938.6L1783.4,940.4L1786.5,941.9L1784.4,945L1785.7,947.1L1780.7,951.1L1781.3,953.3L1778.6,956.5L1779.2,958.8L1778.8,961.3L1776.5,964.4L1776.5,966.7L1780.3,968.1L1780.5,970.4L1783.4,972L1784.3,974.2L1788.6,975.4L1788.1,978L1791.1,979.6L1790.7,982.1L1793.2,983.9L1793.9,986.1L1794.4,988.4L1796.6,990.3L1794.5,993.2L1798.2,994.7L1798.4,997.1L1797.4,999.7L1798.1,1002L1798.9,1004.2L1798.1,1006.7L1795.3,1009.7L1791.4,1012.9L1790.9,1015.4L1795,1016.9L1793.1,1019.6L1796.3,1021.4L1797.1,1023.6L1801.9,1025.1L1804.1,1027L1802.4,1029.7L1804.4,1031.8L1805.4,1034L1805.2,1036.4L1808.8,1038.2L1806.5,1040.9L1804.4,1043.6L1800.2,1046.6L1797.7,1049.3L1800,1051.3L1800.3,1053.6L1803.4,1055.5L1807.8,1057.3L1809.1,1059.5L1809.9,1061.8L1811.1,1064L1809.6,1066.5L1810.7,1068.7L1806.4,1071.6L1805.1,1074.1L1803.9,1076.5L1802.9,1079L1797.2,1081.9L1795,1084.4L1796.9,1086.5L1795.4,1088.9L1795.5,1091.2L1793.7,1093.6L1795.1,1095.8L1795.2,1098.1L1795.4,1100.4L1794.4,1102.7L1796.3,1104.9L1798,1107.1L1797.7,1109.4L1801.5,1111.5L1800.2,1113.9L1800.4,1116.1L1800.2,1118.5L1799.6,1120.8L1798.9,1123.1L1796.2,1125.5L1795,1127.8L1794.9,1130.1L1793.9,1132.4L1792.7,1134.7L1789.9,1137L1789.2,1139.2L1793.7,1141.5L1797.5,1143.7L1798.4,1146L1800.2,1148.3L1801.6,1150.6L1804.6,1152.9L1805.6,1155.3L1805.4,1157.6L1801.4,1159.8L1802,1162.1L1802.9,1164.4L1801.7,1166.7L1799,1168.9L1792.1,1170.9L1791,1173.2L1795.5,1175.6L1797.6,1178L1801.5,1180.5L1801.5,1182.8L1801.6,1185.1L1800,1187.3L1797.4,1189.5L1797.5,1191.8L1793.3,1193.8L1793.4,1196L1793.4,1198.3L1793.2,1200.6L1793.1,1202.9L1789.2,1204.8L1787.3,1206.9L1790.1,1209.5L1786.5,1211.4L1785.6,1213.5L1784.4,1215.7L1785.5,1218.1L1789.9,1220.9L1791.8,1223.4L1794.5,1226L1795.6,1228.4L1798.3,1231.1L1801,1233.8L1800.6,1236.1L1802.9,1238.7L1803.1,1241.1L1799.3,1242.9L1801.2,1245.5L1798.2,1247.4L1800.2,1250.1L1799.7,1252.4L1797.9,1254.4L1798,1256.8L1800.5,1259.6L1800.4,1261.9L1804,1264.9L1802.4,1267L1802,1269.3L1800.2,1271.4L1801.1,1273.9L1800.9,1276.3L1803.8,1279.2L1804,1281.7L1803.4,1284L1803.4,1286.4L1803.2,1288.8L1802.5,1291L1802,1293.3L1803.7,1296.1L1801.4,1298L1797,1299.4L1795.5,1301.4L1793.8,1303.4L1792.5,1305.5L1788.2,1306.9L1787.2,1309L1787.5,1311.5L1787.6,1313.9L1786,1315.9L1785.3,1318.1L1782.9,1319.9L1778.1,1320.9L1772.3,1321.7L1770.7,1323.6L1768.8,1325.4L1766.2,1327.1L1767.2,1329.7L1767.1,1332.1L1763.4,1333.3L1763.2,1335.6L1763.7,1338.1L1762.5,1340.1L1762.6,1342.5L1762.9,1345L1761.5,1347L1762.5,1349.7L1761.4,1351.7L1759.4,1353.4L1761.6,1356.6L1756.9,1357.4L1754.6,1359L1754.5,1361.3L1752.3,1363L1752.7,1365.5L1752.8,1368L1755.2,1371.3L1754.6,1373.4L1756.1,1376.5L1754.9,1378.5L1755.7,1381.2L1753.7,1382.9L1751.2,1384.3L1748.7,1385.8L1747.3,1387.7L1745.4,1389.4L1741.7,1390.3L1736.9,1390.8L1736,1392.8L1734.6,1394.7L1729.7,1395L1729.5,1397.4L1728.2,1399.3L1728.8,1402L1727,1403.6L1727.3,1406.1L1725.2,1407.7L1724,1409.6L1722.3,1411.2L1720.9,1413L1717.5,1413.9L1717,1416.1L1713.4,1416.8L1714.5,1419.8L1712.5,1421.3L1712.2,1423.6L1709.1,1424.6L1708.9,1426.9L1708.5,1429.2L1706.1,1430.5L1703.9,1431.8L1700.8,1432.7L1700.5,1435L1699,1436.7L1695.2,1437.1L1692.8,1438.3L1693.6,1441.2L1694.5,1444.2L1693.9,1446.4L1694.7,1449.3L1691.7,1450.1L1694.8,1454.4L1692.4,1455.6L1691.3,1457.5L1692.6,1460.7L1692.4,1463.2L1691.3,1465.1L1687.7,1465.6L1686,1467.1L1685.1,1469.2L1683,1470.5L1682.7,1472.9L1679.8,1473.6L1679.6,1476.1L1683.4,1481.1L1685.3,1484.8L1681.7,1485.3L1679.7,1486.6L1677.8,1488L1677.6,1490.5L1673.3,1490.4L1673.3,1493L1673.1,1495.6L1673.6,1498.5L1673.6,1501.2L1671,1502.1L1669.8,1504L1669.9,1506.8L1670.3,1509.8L1671.8,1513.5L1671.5,1516.1L1666.7,1515.4L1664.5,1516.6L1664.5,1519.4L1661.7,1520.1L1663.6,1524.2L1661.2,1525.2L1661.8,1528.5L1661.7,1531.2L1660.3,1533L1661,1536.3L1660.5,1538.8L1661.2,1542.2L1660.5,1544.5L1661.3,1548.1L1660.7,1550.5L1661.6,1554.1L1661.6,1557L1660.3,1559L1659,1560.8L1654.9,1560.5L1654.7,1563.4L1656,1567.3L1657,1571.2L1658.8,1575.8L1656.4,1576.8L1656.2,1579.7L1654.9,1581.7L1654.4,1584.4L1651.3,1584.7L1650.1,1586.8L1649.1,1589.1L1648.2,1591.4L1644.6,1591.3L1644.2,1594.2L1641.2,1594.6L1639.2,1596L1638.7,1598.7L1635,1598.4L1635.6,1602.1L1634.1,1604L1632.1,1605.3L1632.4,1608.8L1633.1,1612.7L1632.3,1615.3L1629.7,1616L1630.3,1619.9L1628.1,1621.1L1625.7,1622L1626,1625.7L1625.9,1628.9L1623.3,1629.7L1624,1633.8L1622.1,1635.3L1620.5,1637.1L1618.4,1638.3L1617.3,1640.6L1613.6,1640.2L1608.1,1637.9L1607.1,1640.2L1604,1640.3L1601,1640.6L1599.2,1642.1L1597.6,1643.8L1593.4,1642.7L1593.3,1646.1L1592.7,1648.9L1590.3,1649.8L1589.3,1652.2L1587.3,1653.6L1585.9,1655.5L1583.7,1656.5L1581.6,1657.7L1579.8,1659.2L1580,1663.1L1577.5,1663.8L1578.2,1668.3L1576.2,1669.6L1573,1669.5L1572.2,1672.3L1569.3,1672.4L1565.4,1671.3L1564.1,1673.5L1561.8,1674.4L1557.5,1672.7L1554.4,1672.6L1551.3,1672.3L1549.7,1674.1L1546.9,1674.3L1546.9,1678.1L1545,1679.5L1543.8,1681.8L1542.6,1684.1L1541.1,1686L1536.6,1683.8L1534.5,1684.9L1535.4,1690.1L1534.3,1692.6L1535,1697.5L1531.5,1696.8L1529.3,1697.7L1528.5,1700.6L1526.4,1701.8L1523.1,1701.1L1520,1700.8L1517.2,1700.8L1515.9,1703L1512.6,1702.3L1510.2,1702.8L1507.2,1702.5L1505.2,1703.8L1501.5,1702.3L1498.1,1701.3L1494.3,1699.5L1492.7,1701.3L1490.6,1702.3L1488.9,1703.9L1488,1706.8L1485.4,1706.9L1483.5,1708.3L1480.7,1708L1479.9,1711.2L1478.4,1713.1L1477.3,1715.9L1476.8,1719.5L1477.3,1725.1L1476.8,1728.8L1475,1730.4L1473.8,1733.1L1472.7,1735.9L1471.1,1737.9L1470.1,1740.9L1468,1742.1L1464.3,1740.2L1461.2,1739.5L1458.1,1738.6L1456.8,1741.1L1454.9,1742.7L1452.1,1742.4L1449.7,1742.8L1448,1744.6L1445.5,1744.9L1441.8,1742.6L1439.6,1743.4L1438.2,1745.9L1436.5,1747.8L1434.3,1748.6L1431.4,1747.8L1428.8,1747.9L1427.5,1750.6L1425,1750.9L1422.1,1750L1419.4,1749.7L1417.3,1750.6L1414.9,1750.9L1412.9,1752.2L1410.8,1753.3L1410,1757L1408.3,1759.1L1409.1,1766.9L1407.2,1768.5L1405.3,1770L1401.9,1767.9L1400.5,1770.8L1396.7,1767.8L1395.9,1771.8L1393.8,1773.1L1391.2,1772.9L1389.2,1774.2L1385.9,1772.3L1384.2,1774.4L1382,1775.1L1380.1,1776.7L1377.7,1777.2L1377.1,1782.3L1375.8,1785.5L1373.5,1786.4L1372,1789.1L1367.9,1784.7L1364.7,1782.7L1361.2,1779.8L1358.3,1778.5L1355.8,1778.4L1353.4,1778.5L1350,1775.6L1348,1776.9L1346,1778.1L1344.2,1780.4L1343.1,1784.5L1340.5,1784L1337.7,1782.7L1334.9,1781.7L1331,1776.6L1327.9,1774.1L1325.6,1774.6L1323.1,1774.2L1321.7,1777.5L1319.3,1777.3L1317.4,1779L1314.8,1778.4L1312.3,1777.9L1310.1,1778.3L1308.2,1780.2L1305.9,1780.4L1304.1,1782.8L1301.3,1780.8L1298.4,1778.8L1295.6,1776.7L1293.4,1777.1L1291.6,1779.4L1289.7,1781.5L1287.6,1782.7L1285.5,1783.5L1284.3,1788.8L1282.1,1789.4L1279.8,1789.6L1277.6,1790.1L1275.3,1790.3L1273.5,1793L1271.8,1796.5L1269.6,1797.4L1266.4,1793.1L1263.9,1791.9L1260.9,1788.4L1257.8,1784.2L1255.2,1782.6L1253.1,1783.5L1250.9,1784.1L1248.6,1783.6L1246.4,1784.1L1244.2,1784.9L1241.6,1783.1L1239.7,1785.3L1237.7,1787L1235.1,1785.4L1233,1786.6L1230.8,1786.6L1228.7,1788.7L1226.3,1787.3L1223.6,1784.2L1221.3,1784L1219.7,1788.9L1217.8,1792.3L1216,1796.8L1213.8,1797.9L1211.8,1800.8L1209.8,1803.8L1207.4,1803.2L1204.7,1798.7L1202.5,1799.3L1200,1797.9L1197.6,1795.9L1195.5,1798.7L1193.4,1800.9L1191.5,1806.8L1189.3,1808.4L1187.1,1810.6L1184.7,1808.4L1182.4,1809.9L1180.2,1811.6L1177.8,1810.6L1175.5,1810.8L1173.2,1810.5L1170.8,1809.7L1168.5,1810.6L1166.2,1809.9L1163.9,1811.7L1161.6,1811.9L1159.3,1811.1L1156.9,1809.2L1154.5,1807.4L1152.2,1807.4L1149.9,1807L1147.6,1809.2L1145.3,1806.7L1143,1808.7L1140.7,1806.3L1138.4,1808.7L1136.1,1808.8L1133.7,1810.9L1131.4,1808.6L1129.1,1808.6L1126.7,1811.5L1124.4,1810.5L1122.1,1810.7L1119.8,1810.8L1117.5,1810.4L1115,1815.2L1112.7,1813.3L1110.4,1813.3L1108.1,1811.5L1105.6,1814.6L1103.1,1818.4L1100.7,1819L1098.3,1818.2L1096,1818.3L1093.5,1820.2L1091.1,1821L1088.7,1820.7L1086,1824.5L1083.6,1825.1L1081.1,1826.1L1078.9,1823.8L1076.6,1823.6L1074.5,1820.7L1072.4,1817.8L1070,1817.9L1067.4,1820.4L1065.1,1819L1063,1816.9L1060.4,1818.8L1058.2,1816.9L1055.4,1820.2L1053.3,1818.1L1050.7,1820.1L1048.2,1820.5L1045.8,1820.5L1044,1816.7L1041.3,1818.5L1039.2,1816.4L1036.8,1816.3L1033.9,1819.3L1031.4,1820.2L1029.4,1817.5L1027.3,1815.9L1024.3,1819.3L1021.4,1821.8L1019.6,1818.3L1017.2,1818L1014.7,1818.3L1012.4,1817.7L1009.7,1819.4L1007,1820.3L1005.1,1817.9L1001.8,1821.7L999.3,1821.9L997,1821.5L993.6,1825.4L991.9,1821.8L989.9,1819.9L987.8,1818.1L985.6,1817.2L983.3,1816.4L981.1,1815.1L978.9,1814.1L977,1811.6L975,1810L973.1,1807.6L970.8,1807L968.5,1806.5L965.8,1807.3L963.5,1806.6L960.6,1808.2L958.4,1807.1L957.1,1802.9L955.6,1799.5L954.1,1796.1L953,1791.7L950.2,1792.8L948.2,1791.3L946.5,1788.7L943.4,1790.7L941.5,1789L940.5,1784.3L937.8,1785.1L936.7,1781L934.6,1779.9L931.9,1780.7L930.1,1778.5L928,1777.6L926,1776.2L924.6,1773.1L921.5,1775.1L919.4,1774.1L916.7,1774.5L915.8,1770.2L913.7,1769.1L912.3,1766.3L910.5,1764.6L908.3,1763.9L906.4,1762.5L904,1762.1L902.6,1759.5L899.4,1761.2L897.7,1759.2L895.8,1757.9L894.8,1754.2L894.3,1749.3L892.3,1748.1L890.1,1747.7L888.9,1744.7L886,1745.7L884.5,1743.5L882.6,1742.1L879.8,1742.7L878,1741.3L874,1744.6L871.6,1744.3L871.6,1738.8L869,1738.9L867,1737.9L866.4,1733.8L863.7,1734.3L861.5,1733.5L860.1,1731.2L858.1,1730.1L856.8,1727.6L853.2,1729.9L852.7,1725.7L850.4,1725.2L848.3,1724.4L847.2,1721.5L844.1,1722.6L842.6,1720.7L840.1,1720.4L839.2,1717.5L836.3,1718.1L835.5,1714.7L833.1,1714.4L830.8,1713.8L827.3,1715.6L825.6,1714L823.3,1713.3L821.8,1711.3L819.1,1711.6L817.8,1709.2L814.4,1710.6L812.1,1710.1L809.8,1709.4L806.4,1710.7L804.5,1709.4L802.1,1708.9L801.4,1705.6L797.8,1707.1L796,1705.7L795,1702.9L795.1,1698.5L791.9,1699.2L790.5,1697.2L787.5,1697.6L785.3,1696.8L785,1693.1L783.9,1690.6L780.3,1691.9L779.4,1689.2L777.5,1687.8L775.4,1686.9L771.7,1688.3L770.4,1686.1L768.9,1684.3L766.9,1683.2L763.4,1684.2L762.4,1681.6L760.3,1680.5L759,1678.5L756.6,1677.9L753.7,1677.9L755.5,1671.6L753.8,1670.1L754.8,1664.9L751.5,1665.5L751.9,1661.3L749.1,1661.1L749,1657.6L748.5,1654.5L748.2,1651.3L746.1,1650.4L745.1,1648L744.9,1644.7L744.6,1641.5L743.4,1639.5L741.3,1638.6L740.1,1636.5L736,1638L735.2,1635.4L733.9,1633.5L732.4,1631.9L730.5,1630.7L728.5,1629.6L726.8,1628.2L724.7,1627.2L722.1,1626.8L718.6,1627.4L712.7,1630.6L712.8,1627.2L710.7,1626.1L708.9,1624.8L707.5,1622.9L706.3,1620.9L703.6,1620.5L702,1618.9L698.3,1619.5L697.4,1617.2L694.1,1617.4L692.8,1615.4L692.1,1613L691.5,1610.3L690.8,1607.8L687.3,1608.1L686.8,1605.4L681.9,1607.1L677.8,1608L674.9,1607.6L674.5,1604.8L671.6,1604.4L667.7,1605L665.3,1604.1L663.8,1602.4L664.3,1598.7L662.6,1597.1L661.8,1594.7L659.1,1594.1L656.6,1593.2L654.3,1592.2L651.1,1592L649,1590.8L647.4,1589.1L644.5,1588.6L642.6,1587.2L638.8,1587.4L635.9,1586.9L633.6,1585.7L630.9,1585L627.8,1584.5L625.5,1583.3L620.9,1584.1L618.4,1583.1L615.3,1582.5L610.4,1583.4L606,1583.9L601.6,1584.4L597.9,1584.3L594,1584.3L587,1586.7L587.9,1582.8L586.3,1580.9L583.4,1580L583,1577.3L581,1575.6L578.4,1574.6L577.4,1572.2L577,1569.4L576.3,1566.9L572.7,1566.4L571.1,1564.6L572.4,1560.5L571.6,1558.1L572,1554.8L571.9,1551.9L567.7,1551.8L566.8,1549.5L567.9,1545.7L568,1542.7L565.4,1541.5L564.9,1538.9L565.9,1535.2L568.2,1530.8L569.3,1527.1L567.9,1525.2L565.4,1524L564.6,1521.6L565.6,1518.1L564.7,1515.8L563.9,1513.5L564.3,1510.4L564.5,1507.5L564.9,1504.5L563.8,1502.3L561,1501.3L561.9,1497.9L560.1,1496.2L557.7,1494.9L556.5,1492.8L552.4,1492.5L549.9,1491.2L550.9,1487.8L553.2,1483.8L553.8,1480.7L555.1,1477.3L555.6,1474.3L553.1,1473L554.2,1469.7L559.5,1464.1L562.4,1459.9L565.9,1455.4L564.5,1453.6L563.4,1451.6L561.5,1450L559.4,1448.5L562.3,1444.4L563.9,1441L566.8,1437L566.5,1434.7L564.9,1433L566,1429.9L563.2,1428.8L564.6,1425.6L561.4,1424.7L559.1,1423.2L556.5,1422L554.4,1420.5L552.9,1418.7L550.7,1417.2L549.8,1415.1L551.7,1411.8L552.3,1409L550.9,1407.1L548.9,1405.5L550.4,1402.4L550.9,1399.8L549.1,1398.1L549,1395.7L546.3,1394.4L547,1391.6L544.5,1390.3L542.8,1388.5L541.7,1386.5L544.8,1382.9L545.6,1380.1L546.1,1377.5L544.2,1375.9L541.7,1374.4L539.5,1372.8L538,1371L539.6,1368L539.2,1365.8L534.7,1365L527.2,1365.3L523.5,1364.2L519.9,1363L511.4,1363.5L510.4,1361.4L511.1,1358.7L514.3,1355.1L515.6,1352.3L516,1349.7L516.6,1347.1L516.1,1344.9L513.8,1343.2L514.4,1340.6L512.2,1338.9L511.4,1336.7L511.3,1334.3L513.1,1331.4L513.8,1328.8L511.6,1327.1L506.2,1326.2L502.8,1324.8L501.6,1322.7L497.7,1321.3L496.6,1319.2L496.4,1316.8L493.5,1315.2L490.5,1313.5L485.5,1312.4L482.2,1310.7L483.6,1308L484.1,1305.4L485.7,1302.6L486.9,1299.9L488.1,1297.2L488.9,1294.6L489.2,1292.1L491.4,1289.3L489.7,1287.3L488.2,1285.2L490,1282.4L489.5,1280.2L490.1,1277.6L490.4,1275.2L488.3,1273.3L487.2,1271.1L486.3,1268.9L486.7,1266.5L483,1264.8L478,1263.3L477.1,1261L478,1258.5L477.6,1256.2L475.4,1254.1L474.1,1251.9L467.7,1250.5L466.4,1248.3L462.2,1246.5L460.3,1244.4L455.8,1242.6L457.9,1239.9L459.8,1237.2L459.4,1234.8L457,1232.7L455.3,1230.4L456.9,1227.8L460.5,1225L465.4,1222L470.2,1219.1L473.5,1216.4L470.1,1214.3L473,1211.7L471.3,1209.5L470.9,1207.2L471.5,1204.8L470.2,1202.5L467.9,1200.3L470.1,1197.8L467.3,1195.6L465,1193.4L461.2,1191.3L460.1,1189L459.4,1186.6L458.1,1184.3L460.2,1181.8L460.2,1179.4L459.2,1177L458.8,1174.7L460.7,1172.2L460.9,1169.8L462.8,1167.4L463,1165L467,1162.5L470.4,1160.1L468.8,1157.8L473,1155.4L471,1153L471.5,1150.7L470.6,1148.3L470.5,1146L475.3,1143.7L476.4,1141.3L477.5,1139L482.8,1136.8L482.4,1134.5L478.6,1132.1L475.4,1129.7L475.8,1127.4L476.3,1125L474.7,1122.7L475.1,1120.3L480.2,1118.2L482.8,1116L486.8,1113.9L487,1111.6L487.2,1109.3L486.1,1107L487.5,1104.8L489.1,1102.6L490,1100.3L495.2,1098.4L497.5,1096.3L499,1094.2L500.6,1092.1L499.2,1089.7L498.1,1087.3L498.8,1085.1L500.4,1083L504.2,1081.1L508.1,1079.3L508.7,1077.1L510.8,1075.1L510.8,1072.8L514.3,1071L515.8,1069L515.9,1066.8L518.8,1064.9L517.3,1062.5L516.7,1060.2L515.9,1057.9L515.2,1055.5L517.4,1053.6L517.7,1051.4L515.7,1048.9L517.1,1046.9L520.6,1045.2L522.1,1043.2L524.5,1041.4L521.3,1038.6L523.3,1036.7L523.3,1034.5L526.6,1032.9L527.2,1030.8L525.8,1028.3L524.8,1025.8L525.4,1023.7L528.8,1022.2L529.9,1020.1L532.9,1018.5L532.4,1016.2L533.5,1014.2L534.8,1012.3L534.4,1010L534.9,1007.8L533.5,1005.3L534.1,1003.2L536.2,1001.5L538.3,999.7L541,998.1L541.2,996L547.8,995.4L544.8,992.4L545.7,990.4L544.8,987.9L546.1,986.1L545.8,983.7L547.7,982L550.9,980.7L550.1,978.2L553.9,977.1L554,974.9L554.3,972.7L554.4,970.5L554.8,968.4L554.9,966.2L554.6,963.8L557.6,962.6L558.5,960.6L558.8,958.4L559.6,956.4L563.7,955.5L563.5,953.2L561.3,950.2L563.5,948.7L562.5,946.1L563.7,944.3L564.6,942.3L565.8,940.5L565.2,938L566,936L566.4,933.8L568.7,932.4L571.3,931.1L571.9,929.1L571.6,926.7L572,924.5L573,922.6L573.5,920.5L572.4,917.8L572.8,915.6L573.3,913.5L573,911.1L571.4,908.1L573.9,906.8L571.6,903.4L574.1,902.2L571,898.5L570.9,896.1L572.2,894.3L570.2,891L572.5,889.6L570.3,886.2L566.8,882.2L564.6,878.7L565.9,876.9L565.3,874.2L567.9,872.9L572.2,872.5L572.6,870.3L573.2,868.1L570.6,864.3L570.5,861.8L570.6,859.4L569.8,856.5L571.8,855L569.9,851.5L570.1,849.1L570.6,846.8L571.8,844.8L573.2,843L573.5,840.7L574.4,838.6L573.5,835.5L574.4,833.4L577,832.2L578,830.2L581.3,829.5L581.5,827L580.2,823.7L582,822.1L581,818.9L581.7,816.7L583.9,815.4L585.7,813.8L589.3,813.3L589.2,810.6L584.8,805.3L583.6,801.9L583.2,798.9L581.2,795L581.2,792.2L580.1,788.8L580.1,786L580.9,783.8L583.7,782.8L585.3,781L587.6,779.8L588.7,777.7L590.7,776.3L591.1,773.8L592.9,772.1L596.6,771.9L599.7,771.2L602.4,770.3L606.7,770.5L606.9,767.8L608.9,766.4L609.9,764.3L609.7,761.4L611,759.5L612.8,758L614.9,756.6L615.9,754.5L617,752.5L619.7,751.6L620.3,749.2L620.6,746.6L622.3,745L623.9,743.3L626,742.1L625.8,739L628.5,738.2L627.9,734.8L630.3,733.8L631.1,731.5L633,730L630.9,725.3L632.1,723.4L630.8,719.3L634,718.9L632,714.2L632.7,711.7L632,708L633.1,705.8L635.4,704.8L635.5,701.8L634,697.3L634.7,694.7L633.8,690.8L637.7,691.1L641.2,691L641.3,687.9L645.3,688.3L646.9,686.6L649.4,685.8L651.6,684.6L653.4,683L654.9,681.1L655.4,678.5L660,679.6L665.5,681.7L672.4,685.2L674.8,684.2L674.1,680.4L675.7,678.7L677.9,677.6L679.1,675.6L682.7,675.9L682.4,672.3L684,670.7L686.7,670.1L687.4,667.5L691.8,668.8L692.3,666.1L692.2,662.6L692.1,659.1L691.5,655L688.6,648.4L690.1,646.5L690.9,643.9L690.5,639.9L690.2,636L691.1,633.4L694.5,633.7L696.5,632.4L697.5,629.8L698.1,626.9L700.6,626.2L703.7,626.1L705.4,624.5L709.6,625.9L711.1,623.9L712.4,621.7L715.5,621.8L716.4,619.3L719.3,619L718.4,614.1L720.1,612.4L724.3,613.9L725.1,611.1L728.6,611.7L731.8,612L735.1,612.4L737.9,612.3L741.5,613.2L746,615.3L749.2,615.8L749.9,612.8L753,613.1L755.7,612.9L756.9,610.6L759.4,610.2L761.1,608.6L763.9,608.6L764.6,605.6L763.9,600.6L764.7,597.6L767.3,597.4L770.2,597.5L771.6,595.4L774,594.7L775.2,592.4L776.7,590.4L780.2,591.6L782.3,590.6L783.3,587.9L786.9,589.2L788.9,588.1L790.4,586.1L791.4,583.3L794.6,584.2L797.3,584L799.1,582.7L802.4,583.6L803.6,581.2L805.3,579.4L807.9,579.4L809.8,578.1L814,580.6L817,581.4L819.1,580.5L822.2,581.3L824.6,580.9L828.7,583.7L829.9,581.1L834.8,585.5L840.3,590.9L842.7,590.6L844.5,589.2L846.2,587.8L849,588.4L850.8,587.1L852.4,585.5L854.1,583.8L855.9,582.5L858.3,582.5L860.6,582.1L862.7,581.4L864,579.1L865.8,577.6L868.9,579L871.5,579.3L874.5,580.4L876.9,580.4L879.5,581L883,583.3L884.2,580.8L886.5,580.6L889.7,582.5L891.1,580.3L893.6,580.4L895.6,579.6L897.7,579.1L901.1,581.7L902.4,579.2L903.2,575.4L906.1,576.9L908.1,576.2L910.3,575.7L911.9,574L913.8,573L915,570.2L917.2,569.9L920.1,571.3L922.2,570.9L923.9,569.2L925.1,566.3L926.7,564.3L928.3,562.5L930.4,561.8L933.5,564L934.3,559.8L936.4,559.3L937.8,556.8L940.6,558.1L941.9,555.4L943.7,553.7L946.2,554.3L947.4,551L950.2,552.5L952,551L953.8,549.7L955.2,546.8L957.5,546.7L960.2,548.1L962.1,546.8L964,545.6L966,544.5L968.7,545.9L970.1,542.9L972.6,543.6L974.3,541.8L976.3,540.9L978.2,539.5L979.8,537L982.1,536.9L984.6,538L987,538.3L989,537.2L991.5,538.4L994,539.4L995.4,535.9L997.3,534.5L999.4,533.8L1001.9,534.7L1004.1,534.8L1005.5,531L1007.9,531.4L1010.2,531.6L1011.6,527.8L1013.2,524.7L1015.3,523.7L1016.8,519.9L1018.9,519.4L1021.3,519.8L1023.9,521.8L1025.8,519.8L1028,519.4L1029.9,517.4L1031.8,515.4L1034.2,516.3L1036.2,514.4L1039,517.9L1041.1,517.1L1043.4,517.4L1045.3,514.7L1047.4,513.9L1049.6,513.7L1051.9,514L1053.9,512L1056.6,515.5L1058.6,513.6L1061.2,516.4L1063,513.1L1065.6,515.8L1067.5,512.5L1069.5,510.7L1071.6,509.4L1073.6,507.2L1076,508.3L1078.1,507.4L1080.4,507.7L1082.9,510.7L1084.9,508L1087.3,509L1089.4,507.1L1091.7,508.4L1093.8,506.1L1096.4,511L1098.5,510.3L1101,513.1L1103.1,511.1L1105.4,513.1L1107.6,512.5L1109.8,512.4L1111.9,510.8L1114.2,510.9L1116.3,509.8L1118.4,506.3L1120.7,506.8L1122.9,505.9L1125.2,508.8L1127.4,506.2L1129.6,505.7L1131.8,506.7L1134.1,506.4L1136.3,507.1L1138.6,508.9L1140.8,510.2ZM1143,490A656,656 0 1 1 1143,1802A656,656 0 1 1 1143,490Z" fill="#000" fill-rule="evenodd"/>
<circle cx="1143" cy="1146" r="605.7" fill="none" stroke="#000" stroke-width="1.7"/>
<path d="M1143,567.9L1145,569.8L1147,568.1L1149,571.2L1151,574.5L1153,570.8L1154.9,575.6L1157,573.4L1159,573.3L1160.9,575.4L1162.7,583.1L1164.5,587L1166.2,592.2L1168.3,589.8L1170,593.1L1171.8,597.1L1173.7,597.2L1175.6,596.9L1177.7,595.1L1179.5,597.2L1181.3,598.3L1183.2,599.2L1185,599.6L1187,598.9L1189.2,596.3L1191,596.8L1193,596.7L1195.4,592.2L1197.1,594.4L1199.1,593.7L1201.1,593.1L1203.3,591.3L1205.5,588.7L1207.2,591.2L1209.2,590.8L1212,584.4L1214.3,581.5L1217.1,575.4L1218.4,580.8L1220.9,577.1L1222.1,583.4L1224.7,579.3L1226.4,580.9L1228,584.1L1230,583.8L1231.7,585.9L1233.9,584.5L1235.9,584.8L1237.9,585.1L1240.5,581.8L1242.1,584.2L1244,584.7L1245,590.4L1247.1,589.6L1249.7,586.4L1250.3,593.7L1253.3,588.8L1255,590.7L1257.9,586.1L1258.7,592L1261.1,590.4L1262.4,593.9L1263.7,597.2L1265.4,598.4L1268,595.8L1269.6,597.8L1271.1,599.7L1273.1,599.7L1275.1,600.1L1274.9,609.2L1276.9,609L1278.6,610.1L1281.8,605.4L1285.1,600.4L1287,601L1288.7,602.2L1291.4,599.7L1294.3,596.9L1297.6,592.1L1298.8,595.4L1300.3,597.5L1301.6,600.2L1304.5,597.3L1306.4,597.8L1308.5,598L1309.2,602.5L1310.7,604.4L1311.7,607.7L1314.3,606.1L1314.8,611L1318.3,606.6L1320.4,606.4L1325,598.9L1325.5,603.7L1327.7,603.6L1328.8,606.4L1330.4,607.8L1331.7,610L1334.8,607.3L1334.8,613.1L1336.6,614.1L1337.7,616.8L1340.1,616L1344,611.4L1345.3,613.5L1346.9,614.7L1349.9,612.5L1352.7,610.9L1353,615.5L1355.6,614.5L1356.7,617.2L1357.6,620.2L1357,626.7L1358.9,627.3L1359.2,631.8L1360.2,634.3L1359.7,640.4L1362.7,638.4L1363.5,641.2L1365.6,641.4L1365.1,647.2L1367.7,645.9L1370.5,644.5L1371.5,647L1373.5,647.1L1374,650.6L1375.2,652.6L1375.3,656.7L1378.9,653.7L1379.1,657.6L1381,658.1L1383.1,658.1L1388.6,651.3L1393.2,646.4L1393.7,649.7L1395.6,650.2L1398.7,648.4L1397.9,654.3L1398.1,658L1400.6,657.4L1401,660.7L1402.3,662.4L1404.4,662.6L1403.9,667.5L1406.2,667.2L1406.5,670.5L1406.3,674.9L1408.5,674.9L1412.1,672.2L1416,669.3L1417.8,670.1L1419.6,670.7L1422,670.4L1422.7,673.1L1425,672.9L1426,675.1L1423.9,682.2L1426.7,681.3L1428.9,681.3L1429.5,683.9L1432.7,682.4L1432.7,686L1431.1,692.1L1431.1,695.6L1434,694.4L1434.1,697.7L1435.6,698.9L1437.2,699.8L1436.9,703.6L1437.3,706.4L1439.8,705.9L1443,704.6L1445,705L1448.1,703.7L1449.1,705.5L1450.2,707.3L1451.1,709.2L1452.3,710.8L1451,715.8L1453.1,716L1456,715.2L1458,715.6L1458.6,718L1461.6,717.1L1463.6,717.5L1464.1,719.9L1465.6,720.9L1466,723.5L1467,725.3L1466.7,728.6L1464.9,733.9L1466.3,735.2L1470.5,732.9L1471.9,734L1475,733.1L1476.1,734.6L1477.3,736L1478,738.2L1478.8,740.1L1475.8,746.5L1478.9,745.7L1478.6,748.8L1485.7,743.3L1488.8,742.6L1492.5,741.2L1496,739.9L1497.5,741L1498.3,742.9L1503.2,740.3L1504.7,741.5L1507.2,741.5L1504.3,747.6L1504.7,749.9L1507.1,750L1505.9,754.2L1507.3,755.4L1508.8,756.5L1510.1,757.8L1512.1,758.4L1514.9,758.2L1517.1,758.6L1518.1,760.3L1521.2,759.8L1522.3,761.3L1524.1,762.2L1525.6,763.4L1527,764.6L1530.5,763.8L1533.8,763.3L1539.6,760.3L1543.2,759.6L1543.3,762.1L1545.5,762.7L1547.2,763.8L1546.4,767.2L1548.6,767.8L1547.8,771.1L1549.8,771.9L1552.4,772.1L1555.5,772L1559.5,770.9L1562.5,771L1568.1,768.5L1572.8,767.1L1576.7,766.3L1580.4,765.8L1583,766.2L1591.3,761.8L1594.3,761.9L1590.7,767.7L1592.3,769L1591,772.7L1596.2,771.1L1605,766.5L1606.7,767.8L1609.3,768.4L1608,772.1L1608.1,774.7L1613.4,773.2L1611.8,777.1L1611.6,779.9L1614.4,780.3L1616.7,781.2L1620.6,780.8L1621.2,783L1621.3,785.6L1625.2,785.3L1623.3,789.3L1621.7,793.1L1623.6,794.2L1624.9,795.9L1627.8,796.4L1628.1,798.7L1630.9,799.3L1631,801.7L1629.9,805.1L1627.6,809.2L1625.1,813.4L1625.4,815.7L1624.6,818.7L1626.7,819.7L1626.4,822.4L1629.3,822.9L1625.8,827.7L1628.5,828.3L1622.6,834.5L1625.8,834.9L1625.1,837.7L1625.7,839.7L1630.5,839L1628.5,842.6L1626.6,846.2L1628.1,847.6L1629,849.4L1628.7,851.9L1627.2,855.1L1629.8,855.8L1632,856.8L1636.2,856.6L1632,861.4L1630.2,864.7L1628.2,868.1L1625.6,871.9L1624.6,874.6L1626.6,875.7L1626,878.3L1622.4,882.4L1617,887.5L1615.6,890.5L1617.9,891.3L1620,892.4L1622.8,893L1622.9,895.1L1621.1,898.2L1626.8,897.4L1623,901.4L1624.8,902.6L1625.7,904.3L1625.6,906.4L1622.3,910.2L1622.7,912L1626,912.5L1621.6,916.7L1620.8,919.1L1622,920.6L1621.1,923.1L1625.8,922.9L1627.4,924.2L1630.4,924.9L1631.6,926.4L1629.1,929.6L1627.7,932.2L1630,933.3L1627.9,936.2L1627.4,938.4L1627.8,940.2L1632.4,940.3L1641.4,938.5L1642.6,940.1L1641.2,942.7L1640.9,944.9L1644.8,945.3L1648.2,946L1648.1,948L1648.3,950L1651.6,950.8L1654.8,951.6L1654.1,953.9L1656.3,955.1L1659.7,955.9L1665.2,955.9L1659.9,959.9L1662.3,961.1L1662.3,963.1L1662,965.3L1662.2,967.2L1667.1,967.6L1664.9,970.4L1664.3,972.6L1661.5,975.5L1663.9,976.7L1661.1,979.6L1658.9,982.4L1656.9,985L1655.6,987.3L1654.4,989.7L1655.1,991.4L1658.1,992.4L1662,993.3L1664.8,994.4L1664,996.6L1665.7,998.1L1667.3,999.6L1668.4,1001.3L1664,1004.5L1664.8,1006.2L1658.9,1009.7L1655,1012.6L1658.6,1013.6L1664,1014.2L1663.3,1016.3L1669.3,1016.7L1667.1,1019.2L1670.7,1020.3L1672.9,1021.7L1674.1,1023.4L1676.5,1024.8L1675.6,1026.9L1679.2,1028.1L1680.9,1029.7L1681.9,1031.5L1682.7,1033.3L1681.7,1035.4L1682.5,1037.2L1680.3,1039.6L1678.1,1042L1680.5,1043.5L1683.9,1044.8L1691.5,1045.3L1686.4,1048.2L1684.2,1050.6L1680.6,1053.1L1681.6,1054.9L1683.7,1056.5L1687,1057.9L1692.7,1058.9L1690.5,1061.2L1688.4,1063.5L1690.6,1065.1L1686.9,1067.6L1689.6,1069.2L1685.8,1071.7L1683,1073.9L1680.7,1076.2L1681.7,1077.9L1688.3,1079L1687.8,1081L1684.6,1083.3L1684.4,1085.3L1681.2,1087.5L1677.6,1089.8L1677.1,1091.8L1673.5,1094L1679,1095.3L1681.2,1097L1684.9,1098.6L1686.3,1100.4L1686.1,1102.3L1693.3,1103.7L1693.5,1105.6L1693.8,1107.5L1697.5,1109.2L1695.3,1111.2L1690.7,1113.5L1691.6,1115.3L1694.4,1117.1L1691.4,1119.2L1694.5,1121L1690.7,1123L1694.4,1124.8L1698.9,1126.6L1697.6,1128.6L1698.6,1130.5L1700.2,1132.4L1695.2,1134.4L1696.2,1136.3L1691.8,1138.3L1692,1140.3L1694.4,1142.2L1691.5,1144.1L1694.7,1146L1687.5,1147.9L1686.5,1149.8L1680,1151.6L1679.3,1153.5L1675.6,1155.3L1676.6,1157.2L1674.3,1159L1674.3,1160.8L1674.7,1162.7L1668.9,1164.4L1664.5,1166L1662.1,1167.8L1667.4,1169.8L1671.3,1171.8L1669,1173.6L1673.7,1175.7L1672.8,1177.5L1674.8,1179.5L1678.9,1181.6L1675.1,1183.2L1673.3,1184.9L1674.8,1186.9L1668.3,1188.3L1668.6,1190.1L1674,1192.5L1677.4,1194.6L1678.2,1196.6L1678,1198.5L1678.6,1200.4L1674.2,1201.8L1676.9,1204L1670.3,1205.1L1674,1207.4L1670.5,1208.9L1670.9,1210.8L1673,1212.9L1671.8,1214.7L1672.8,1216.7L1668.3,1218L1667.8,1219.8L1661.5,1220.7L1658.3,1222.1L1659.7,1224.1L1662.9,1226.5L1661.3,1228.1L1664.4,1230.5L1661.3,1231.8L1664.8,1234.3L1669.6,1237L1667.2,1238.4L1668.6,1240.6L1661.7,1241.2L1660.9,1242.9L1661.4,1244.9L1664.1,1247.3L1668,1249.9L1666.3,1251.5L1664.3,1253L1666.1,1255.3L1661.2,1256.1L1662.3,1258.3L1658.8,1259.4L1668.3,1263.4L1672,1266.2L1676.7,1269.2L1676.1,1271L1674.6,1272.7L1674.7,1274.6L1676.4,1277L1682.5,1280.5L1687.9,1283.9L1681.9,1284.4L1678.3,1285.4L1680.7,1288.1L1677.9,1289.3L1678.2,1291.4L1675.1,1292.6L1671.7,1293.6L1673.2,1296L1671.5,1297.5L1675.5,1300.7L1672.5,1301.8L1671,1303.4L1668.8,1304.8L1667.1,1306.2L1665.7,1307.8L1661.4,1308.5L1662.8,1310.9L1656.1,1310.7L1656.4,1312.8L1654.1,1314L1656.8,1316.9L1662.2,1320.7L1663.1,1323.1L1665.3,1325.8L1664.6,1327.6L1664.2,1329.5L1666.8,1332.5L1664.7,1333.8L1661,1334.5L1657.3,1335.2L1653.6,1335.9L1659.5,1340.1L1661.4,1342.9L1659.1,1344.1L1660.2,1346.6L1660.2,1348.7L1660.8,1351L1657.6,1351.8L1654.3,1352.6L1652.1,1353.8L1646.9,1353.7L1641.5,1353.5L1648.1,1358.3L1650.7,1361.5L1652.8,1364.5L1652,1366.2L1656.7,1370.4L1653.7,1371.2L1650.1,1371.8L1651,1374.3L1651.1,1376.5L1653.4,1379.7L1648.5,1379.6L1647.8,1381.4L1643.8,1381.7L1637.6,1380.8L1637.5,1382.9L1632.8,1382.8L1629.4,1383.2L1627.7,1384.5L1621.6,1383.6L1620,1384.9L1621.5,1387.7L1618.5,1388.3L1620.1,1391.2L1620.7,1393.6L1621.5,1396.2L1623.1,1399.1L1619.4,1399.3L1617.9,1400.7L1615.7,1401.6L1620.6,1406.4L1620.9,1408.7L1622.8,1411.9L1624.6,1415.2L1621.5,1415.6L1621.8,1418L1615.9,1416.8L1615.9,1419L1613.8,1420L1611.4,1420.8L1614.2,1424.7L1616.8,1428.4L1615.7,1430L1617.1,1433.1L1615.2,1434.2L1610.1,1433.4L1607.3,1433.9L1604.6,1434.4L1602.1,1435.1L1600.4,1436.2L1598.2,1437.1L1604,1443.1L1608.5,1448.3L1611.3,1452.4L1611.2,1454.7L1610.7,1456.7L1607.7,1457.1L1607.9,1459.6L1603.7,1459.1L1603.1,1461L1605.3,1465L1602.5,1465.3L1606.9,1470.8L1606.7,1473.1L1610.3,1478.1L1606.3,1477.7L1607.1,1480.7L1601.5,1479.1L1600.7,1481L1596.6,1480.4L1594.3,1481.2L1594,1483.4L1594,1485.9L1590.3,1485.6L1595.3,1491.8L1596.2,1495L1596.4,1497.7L1596.3,1500.1L1597.3,1503.5L1596,1505L1595.7,1507.4L1592.1,1507.1L1590.8,1508.7L1593,1513L1596.1,1518.2L1597.1,1521.7L1596.7,1524L1594.3,1524.7L1591.1,1524.7L1592.2,1528.3L1590.8,1529.8L1588.3,1530.3L1591.8,1536.1L1591.8,1538.9L1587.8,1538.2L1583.3,1537L1582.2,1538.6L1579.6,1539.1L1575.1,1537.8L1576.5,1541.8L1572.7,1541.1L1577.7,1548.6L1575.4,1549.3L1574.7,1551.4L1572.6,1552.3L1569,1551.6L1566.5,1552.2L1566.3,1554.8L1563.9,1555.3L1560.6,1554.9L1561.6,1558.8L1561.3,1561.4L1559,1562L1558.2,1564.2L1560.4,1569.3L1559.9,1571.7L1558.8,1573.6L1554,1571.6L1556.9,1577.6L1556.3,1580L1555.8,1582.5L1552,1581.5L1549.5,1581.9L1549.2,1584.6L1545.7,1583.9L1544.3,1585.5L1542.5,1586.6L1537.1,1583.7L1535.8,1585.3L1533,1585.3L1532.4,1587.7L1533,1591.5L1530.1,1591.3L1528.6,1592.7L1524.9,1591.6L1522.5,1591.9L1519.9,1592L1517.2,1592L1517.2,1595.1L1514.2,1594.7L1514.2,1597.9L1514.1,1601L1511.8,1601.4L1511.5,1604.3L1508.6,1604L1507.6,1606L1509,1611.1L1502.8,1606.6L1500.9,1607.4L1500.5,1610.2L1498.7,1611.2L1500.9,1617.5L1496.8,1615.5L1498.3,1621L1495.6,1620.7L1493,1620.8L1490.6,1620.9L1489.4,1622.7L1487.3,1623.4L1482.7,1620.5L1477.4,1616.6L1475.2,1616.9L1473,1617.3L1471.4,1618.5L1468.2,1617.4L1466.9,1619L1464.1,1618.5L1463.8,1621.6L1462.6,1623.4L1460.9,1624.5L1458.1,1623.9L1455.3,1623.2L1453,1623.3L1453.2,1627.4L1453.8,1632L1453.6,1635.4L1450.2,1633.8L1446.7,1632L1444.9,1632.9L1441.8,1631.7L1438,1629.3L1435.5,1629L1430.8,1625L1430.5,1628.3L1430.1,1631.4L1427.6,1631.1L1428,1635.7L1426.5,1637L1424.1,1636.9L1423,1638.8L1421.3,1640L1419.7,1641.2L1418.1,1642.4L1413.4,1637.9L1412,1639.3L1412.8,1644.9L1409.9,1643.7L1408,1644.4L1408.6,1649.8L1406.1,1649.2L1404.6,1650.8L1402,1650L1400.5,1651.3L1396.3,1647.5L1391.1,1641.4L1386.8,1637L1385.9,1639.7L1385.8,1643.7L1383.6,1643.8L1380.3,1641.4L1380.2,1645.6L1376.1,1641.3L1373.8,1640.9L1373.2,1644.1L1370.3,1642.5L1367.7,1641.3L1364.5,1638.9L1361.6,1637L1360.8,1639.7L1359.6,1641.8L1360.3,1648.2L1359.7,1651.7L1357.3,1650.8L1355.3,1651L1352.5,1649.3L1351.1,1650.8L1351.3,1656.4L1349.7,1657.5L1348,1658.7L1345.4,1657.3L1341.6,1652.9L1342.1,1659.4L1341.3,1662.6L1338.7,1661.1L1338.5,1666.1L1335.1,1662.4L1333,1662.5L1332.2,1665.7L1329.4,1663.9L1327.7,1664.6L1324.3,1660.9L1323.6,1664.6L1321.1,1663.3L1319.7,1665L1319,1669.1L1317.6,1670.9L1318,1678.4L1316.3,1679.4L1314.1,1678.9L1313.4,1683.3L1311.6,1683.9L1311.6,1690.5L1309.7,1691.3L1308.9,1695.6L1306,1692.6L1304,1693L1301.3,1690.8L1298.2,1687.4L1297.4,1691.5L1294.7,1689.5L1292.8,1690L1290.3,1688.2L1288.9,1690.7L1286.6,1689.3L1285.4,1692.9L1284.6,1697.7L1283.5,1701.2L1281.3,1700.5L1279,1699.7L1278.1,1704.6L1276.5,1706.2L1275.2,1709.6L1273.6,1711.5L1270.2,1705.7L1269.1,1710.2L1266.5,1707.9L1264.1,1706.1L1262.8,1709.8L1261.8,1714.9L1260.9,1720.1L1258.7,1719.7L1256.2,1717.7L1253.8,1716.2L1251.5,1715L1250.1,1718.2L1247.5,1715.3L1246.3,1720.4L1244,1718.7L1242.5,1722.3L1240.4,1722L1238.4,1722.2L1237,1726.1L1234.4,1723.2L1232.4,1723.8L1230.3,1723.4L1228.3,1723.7L1225.5,1718.8L1223.8,1720.7L1222.5,1726.1L1220.9,1729.9L1219.4,1733.9L1217.1,1732.9L1214.6,1729.2L1212.3,1727.6L1210.6,1730.4L1208.1,1726.4L1205.5,1721.4L1203.1,1718L1200.7,1713.8L1198.7,1713.9L1196,1706.5L1194,1705.9L1191.7,1702.2L1189.7,1701.7L1188,1705.5L1186,1705.4L1184.1,1705.1L1181.8,1700.2L1179.5,1696L1177.5,1694.2L1175.5,1692.2L1173.4,1690.2L1171.8,1695.3L1170,1697.6L1168,1697.5L1165.9,1692.3L1164.1,1694.1L1162.1,1693.3L1160.2,1692.3L1158.3,1692.6L1156.4,1693L1154.3,1686.5L1152.4,1686.8L1150.6,1688.8L1148.6,1683.8L1146.8,1683.4L1144.9,1682.6L1143,1679.9L1141.1,1679L1139.3,1678.5L1137.4,1681.4L1135.5,1682.9L1133.8,1673L1132,1669.4L1130.3,1665.1L1128.6,1660.5L1127,1656L1125.2,1655.1L1123.4,1655.2L1121.6,1655.5L1120,1652.4L1118.1,1655.8L1116.4,1654L1114.6,1653.5L1113,1650.9L1111.2,1650.7L1109.1,1656.5L1107.1,1659.9L1105.5,1657.1L1103.6,1657.8L1102.1,1654.4L1100.1,1656.6L1099,1649L1097.5,1646.2L1095.7,1646.1L1093.8,1647.5L1091.8,1650.3L1090.2,1648.6L1088.4,1648.7L1086.2,1652L1084.4,1652.1L1082.7,1651.7L1080.9,1651.8L1078.7,1655L1075.9,1662.3L1074.6,1658.5L1072.6,1659.7L1070.9,1659.1L1069.2,1658.2L1067.9,1654.3L1065.6,1658.1L1063.3,1660.6L1060.9,1664.4L1058.5,1667.5L1056.3,1670L1054,1672.3L1052.5,1669.8L1050.4,1671.2L1049.4,1666.2L1048.3,1661.9L1046.2,1663.3L1043.8,1665.8L1041.7,1666.9L1040.7,1662.8L1038,1666.7L1035.9,1667.8L1033.5,1670L1032.4,1666.1L1029.9,1669.3L1027.2,1672.8L1025.5,1671.6L1023.8,1670.7L1021.4,1672.5L1019.3,1673.5L1016.5,1676.8L1014,1679.4L1012.5,1677.5L1010,1679.4L1007.9,1680L1004.8,1684.3L1002.2,1686.7L1000.1,1686.9L999.3,1682.4L996.4,1685.7L994,1687L992.4,1685.5L991.1,1683L987.7,1687.6L985.5,1688.3L984.9,1683.3L983.5,1680.9L981.9,1679.7L979.4,1681.1L977,1682.3L975.7,1679.9L973.2,1681.4L972.6,1676.8L970.7,1676.3L968.1,1678.1L967.1,1674.8L965.5,1673.3L963.6,1672.9L962.5,1670.1L962.5,1664.2L960.4,1664.4L958.8,1663.3L954.2,1670.3L952.7,1668.8L949.8,1671.1L947.5,1671.8L945.4,1671.8L943,1672.4L943.8,1665.1L940.5,1668L940.5,1662.6L937.7,1664.6L938.6,1657L936.2,1657.8L933.9,1658.4L932.5,1656.8L930.8,1655.8L928.9,1655.2L927,1654.9L923.3,1658.7L921.8,1657.1L918.9,1659L917.6,1657.1L917,1653.5L915.3,1652.6L914,1650.8L912.5,1649.4L911.9,1646L912.1,1641.1L910,1641.1L910.5,1635.7L908.9,1634.7L907.6,1632.9L904.2,1635.7L902.5,1634.8L898.2,1639.2L896.4,1638.4L895,1637L894,1634.7L890.2,1637.8L886.8,1640.3L886.7,1636.3L884.9,1635.5L882.2,1636.4L879.8,1636.8L877.9,1636.2L878.3,1631.5L874.6,1634.1L875.8,1628.1L872.6,1629.9L873.4,1624.4L872.9,1621.5L870.2,1622.3L868.9,1620.8L865.5,1622.7L863.8,1621.8L863.2,1619.2L859.7,1621.2L859.9,1617.2L859.6,1613.9L856.9,1614.7L854.6,1614.8L850.5,1617.8L849.4,1615.9L846.1,1617.5L840.7,1622.4L841.5,1617.4L839,1617.7L840.3,1612.1L838.9,1610.7L837.4,1609.4L834.1,1611L833,1609L831.1,1608.5L827.9,1609.6L829.1,1604.5L825.6,1606L826.2,1601.8L823,1603L822.6,1600.2L819.2,1601.6L819.5,1597.8L816.9,1598.1L815.3,1597.1L811.9,1598.4L810.6,1596.8L810.2,1594.1L809.7,1591.6L807.6,1591.1L804.8,1591.5L802.6,1591.2L801.3,1589.8L801.2,1586.6L796.7,1589.2L793.9,1589.6L791.9,1589L788.1,1590.5L790.3,1584.7L790.4,1581.4L792.4,1575.8L790.4,1575.3L790.8,1571.8L794,1564.9L793.6,1562.5L793.1,1560L793.7,1556.4L792.5,1554.9L790.6,1554.2L789.2,1553L789.9,1549.4L787.7,1549L786.4,1547.6L786.7,1544.5L784.2,1544.4L782.4,1543.7L781.3,1542.1L775.5,1545.6L774.4,1544L770.9,1545L769.4,1543.9L769.2,1541.3L763.6,1544.4L760.6,1544.7L762.1,1540.4L762,1537.8L760.8,1536.3L758.7,1535.7L762.4,1529.3L758.9,1530.1L761.4,1524.9L761.7,1522L763.3,1517.9L762.1,1516.4L758.2,1517.6L760,1513.3L758.9,1511.8L756.3,1511.6L757.9,1507.6L757,1506L756,1504.3L758.3,1499.8L755.1,1500.2L750.1,1502.3L748.2,1501.5L749.9,1497.5L749.1,1495.7L751.6,1491.1L752,1488.3L752.7,1485.3L751.9,1483.6L746.9,1485.5L748.8,1481.5L744,1483.2L746.1,1479.1L742.6,1479.6L745.2,1475.1L742.6,1474.9L744.1,1471.3L739,1473.2L738.5,1471.2L733.5,1472.9L734.5,1469.7L735.3,1466.8L734,1465.6L731.4,1465.3L727.3,1466.2L726.8,1464.2L724,1464L719.1,1465.4L716.4,1465.2L715.5,1463.5L715.2,1461.4L714.5,1459.6L711.2,1459.7L711.3,1457.3L710.1,1455.9L708.5,1454.8L709,1452.2L709.4,1449.6L709.8,1447.1L711.8,1443.5L706.5,1444.9L707.7,1441.8L707,1440.1L707.6,1437.4L703.3,1438.1L699.6,1438.4L698.5,1436.9L700.2,1433.6L701,1430.9L697.9,1430.6L693.4,1431.4L686.5,1433.5L686.7,1431.1L685.9,1429.4L683.6,1428.6L683.9,1426.2L678.8,1427.1L684.1,1421.7L680.9,1421.5L681.9,1418.7L683.5,1415.6L680.1,1415.4L677.2,1414.9L678.4,1412.1L679.1,1409.5L680.3,1406.7L675.3,1407.4L671.9,1407.2L667.3,1407.5L667.9,1405L662.9,1405.6L663.3,1403.2L660.8,1402.4L662.1,1399.6L665.7,1395.5L662,1395.3L667.5,1390.4L664.1,1390L664.2,1387.9L664.7,1385.5L662.8,1384.4L659.5,1383.9L659.6,1381.8L655.4,1381.7L651.9,1381.3L650.2,1380L646.9,1379.4L647.7,1377L648.7,1374.4L650.4,1371.5L652.1,1368.7L653.4,1366L648.2,1366.3L647.4,1364.6L646.8,1362.8L644.1,1361.9L644.8,1359.5L640.3,1359.4L643.5,1356L640,1355.4L642.7,1352.2L642.9,1350.1L645.7,1346.9L644,1345.6L636.6,1346.5L638.9,1343.5L639.5,1341.3L640.6,1338.8L636.4,1338.4L640,1335.1L639.6,1333.2L636.7,1332.3L635.8,1330.6L634.7,1329L631.1,1328.3L634.9,1324.9L640.2,1321.1L652.6,1314.9L656.9,1311.5L652.3,1311.1L650,1310L652.4,1307.3L647.6,1307L644.4,1306.1L642.1,1304.9L640.5,1303.5L638.5,1302.2L640.5,1299.6L640.9,1297.6L640.5,1295.8L639.2,1294.3L633.9,1293.9L637.6,1290.9L638,1288.9L639.2,1286.7L634.2,1286.2L632.9,1284.6L635.3,1282L632,1281L629.6,1279.7L623.6,1279.4L621.5,1278L614.5,1277.8L611.3,1276.6L609.7,1275L611.9,1272.5L611.2,1270.7L609.8,1269.1L613.6,1266.3L617,1263.6L610.2,1263.1L612,1260.8L609.7,1259.3L607.7,1257.8L604,1256.6L609.9,1253.5L608.8,1251.8L607.4,1250.1L608.7,1247.9L606.4,1246.4L604.3,1244.9L601.8,1243.4L598.5,1242L597.8,1240.2L594.5,1238.8L594,1236.9L591.5,1235.3L592.6,1233.2L592.3,1231.3L591,1229.5L591.2,1227.5L592.4,1225.3L592.6,1223.4L593.5,1221.3L594.9,1219.1L605.1,1215.9L602.2,1214.3L604.6,1212.1L605.2,1210.1L603.1,1208.5L603.6,1206.5L603.8,1204.6L597.2,1203.4L597.2,1201.4L596.3,1199.6L598.7,1197.5L598,1195.6L599.6,1193.5L603.7,1191.3L598.3,1189.8L597.8,1188L597.4,1186.1L595.1,1184.3L596.2,1182.3L593.3,1180.6L591.4,1178.8L592.5,1176.8L591.7,1174.9L591.1,1173L587.8,1171.2L587.2,1169.3L584.7,1167.4L585.7,1165.5L589,1163.4L586.5,1161.5L588,1159.6L589.5,1157.6L591.3,1155.6L595.3,1153.6L594.9,1151.7L595.7,1149.8L590.9,1147.9L593,1146L592.3,1144.1L588.6,1142.1L589.5,1140.2L591.6,1138.3L590.1,1136.3L594.5,1134.5L597.3,1132.7L599,1130.8L593,1128.7L593.3,1126.8L594.1,1124.9L593.3,1123L596.9,1121.2L595.5,1119.2L598.8,1117.5L595.8,1115.4L598,1113.6L600.7,1111.9L593.3,1109.5L594.1,1107.6L593.8,1105.7L588.8,1103.4L586.2,1101.2L580,1098.7L582.2,1096.9L582.4,1095L582.3,1093L581.9,1091L580.1,1088.8L573.2,1086.1L569.7,1083.7L565.8,1081.3L567.6,1079.4L565.2,1077.1L564.7,1075L559,1072.2L560,1070.3L556,1067.7L556.4,1065.6L553.7,1063.2L555.9,1061.4L553.6,1059L562.5,1058.2L561.7,1056L567.2,1054.8L572.8,1053.6L571.6,1051.4L566.5,1048.5L565.8,1046.3L563.8,1043.9L567.4,1042.4L567.4,1040.4L563.3,1037.5L566.1,1036L566,1033.9L566,1031.7L567.6,1030L568.4,1028L567.5,1025.8L567.2,1023.6L561.9,1020.4L567.5,1019.5L569,1017.7L571.3,1016.1L578.5,1015.7L573.9,1012.5L579.4,1011.7L575.7,1008.8L578.7,1007.4L568.6,1002.8L567.6,1000.4L570.5,999L575.5,998.2L578.2,996.8L578.7,994.8L578.5,992.6L580.2,991L582.4,989.5L588.7,989.2L589.1,987.2L595.1,986.8L599,985.9L602.6,984.9L601,982.3L602.8,980.8L607.9,980.4L610.9,979.3L615.4,978.6L612.8,975.8L612.7,973.7L614.8,972.3L615.4,970.5L610.9,966.9L613.6,965.8L610.6,962.7L615.6,962.3L617.7,961L615.5,958.2L620.9,958L621.7,956.3L626.2,955.9L621.5,952L624.9,951.3L619,947L621.5,945.8L619.5,942.9L623.2,942.3L630,942.9L634,942.4L629.4,938.5L622.7,933.7L620.3,930.6L614.6,926L617.9,925.3L618.3,923.3L619.3,921.5L625.6,922.1L630.3,922L637.4,923L634.1,919.4L638.9,919.4L635.4,915.8L638.3,914.9L640.1,913.6L644.3,913.5L645.1,911.7L646.6,910.3L644.3,907.1L646.9,906.2L645.9,903.6L652.8,904.8L652.7,902.6L650.9,899.6L653.5,898.7L650.8,895.2L651.1,893.2L646.6,888.7L645.7,886L642.2,882L642.2,879.7L647.4,880.3L643.9,876.1L650.2,877.3L646.6,873.1L646.1,870.6L648.9,869.9L647.3,866.7L650.1,866L653.5,865.7L653.8,863.5L653.4,861L656.1,860.3L654.6,857.2L658.2,857L655.6,853.1L655.6,850.8L657.8,849.8L654.9,845.7L658.5,845.6L656.2,841.8L655.6,839.1L658.1,838.3L659.2,836.6L663.6,837L662.1,833.7L665.3,833.4L665.1,830.9L668.7,830.9L669.2,828.8L668.2,825.7L666.9,822.5L665.7,819.2L671.8,821L673.8,819.9L672.1,816.3L678.1,818.1L678,815.5L681.6,815.7L685.4,816L691,817.6L693.6,817.1L687.3,810L687.1,807.4L682.9,801.8L684.9,800.8L688.2,800.8L688.4,798.5L689.7,796.9L688.8,793.7L689.3,791.5L692.9,791.8L695.1,791L695.5,788.8L696.7,787.2L700.4,787.6L703.1,787.2L703.4,784.9L706.4,784.8L706.3,782.2L715,786.9L716.3,785.4L724.1,789.5L724,786.9L727,786.9L728.9,786L733.4,787.4L733,784.5L735.7,784.3L735.2,781.4L737.5,780.9L736,777L736.2,774.5L736,771.8L735.8,768.9L741.1,771.2L742.2,769.6L743.4,768.1L741.5,763.7L740.7,760.2L743.4,760.1L748.6,762.5L749.9,761.1L750.4,758.9L752.6,758.3L759.8,762.8L760.3,760.6L761.2,758.8L761,755.9L762.9,755.1L760.2,749.6L763,749.8L762.3,746.3L771.7,753.3L771.7,750.6L777,753.5L776.9,750.6L776.9,747.9L777.7,746L777.7,743.2L779.7,742.5L782,742.2L780,737.2L780.8,735.2L782.2,733.9L784.6,733.7L787.5,734.1L786.1,729.6L787.8,728.6L788.7,726.8L791.5,727.1L792.2,725L790.5,719.9L790.2,716.5L789.7,712.8L792.8,713.6L794.4,712.4L796.2,711.6L797.1,709.6L799,708.9L801.8,709.3L798.9,702.4L801.9,703L803.6,702L801.4,696L802,693.4L798.1,685L798.3,681.8L799.7,680.3L802.2,680.4L804.9,680.6L807.1,680.3L809,679.5L812.7,681.3L815.2,681.4L818.9,683.1L820.2,681.5L823.2,682.4L824.2,680.3L825.6,679L824.5,673.9L827.6,674.9L828.5,672.6L833,675.8L831.4,669.9L834.5,671L838.4,673.4L838.8,670.4L841.7,671.3L842.5,668.7L842.4,665L845.3,665.8L847,664.8L849.4,665L852.2,665.9L854.1,665.1L856,664.6L856.5,661.5L857.3,659.1L858,656.3L857.6,651.7L859.2,650.4L862.2,651.7L866.6,655.4L866.9,651.9L868.2,650.3L870.8,650.9L873.6,652L875.1,650.4L876.8,649.6L880,651.4L880.6,648.4L884.8,652L887,652.1L886.6,647.2L889.4,648.3L890.4,646L893,646.8L893.3,643L894.2,640.3L895.3,638.2L897.1,637.3L900.1,639L902.4,639.2L903.7,637.5L904.2,633.9L904.4,629.6L907.9,632.5L909.5,631.3L911.5,630.8L914.1,631.9L915.3,629.8L918.4,632L916.7,623L917.8,620.6L917.4,614.6L917.1,608.7L920.3,610.9L922.6,611.2L922.9,606.6L924.2,604.5L924.8,600.5L927.8,602.5L929.9,602.1L931.3,600.2L934.5,602.9L935.6,600L938.6,602.3L939.6,599L943.1,602.7L943.8,598.7L945.9,598.5L947,595.5L947.6,591.2L949.9,591.5L950.3,586.4L952.6,586.6L954.1,584.6L955.8,583.3L955.8,576.7L957.5,575.2L960.7,578.4L963.5,580L965,578.1L967.5,579.2L970.7,582.5L974,586.1L975.7,584.7L977.9,584.9L978.9,581.1L981.2,581.8L982.7,579.5L984.6,578.8L986.2,576.7L987.5,573.5L989.2,572L991.2,571.4L993.4,571.8L995.6,571.9L996.8,568.2L1000.4,574.1L1001.1,568.2L1003.7,570.4L1006.2,571.8L1008.2,571.4L1009.5,567.6L1011.2,566L1013.9,568.7L1016.3,569.7L1018.9,571.9L1020.6,570L1022.3,568L1023.3,562.8L1025.1,561.4L1028.3,566.7L1030.5,567L1033.3,570.8L1036.5,576.9L1038.1,574.2L1039.6,571.2L1041.7,571.3L1043.7,571.1L1044.8,565.2L1047,566.3L1048.6,563.4L1050.8,563.8L1052.6,561.7L1055.1,564.5L1057.1,564.6L1059.2,564.1L1061.2,563.7L1062.7,559.9L1064.7,558.9L1067.1,561.9L1069.5,564L1071.8,566.3L1073.9,566.9L1076.4,570L1078.9,574.8L1081.3,578.3L1083.6,580.5L1085.3,578L1087.4,578.7L1090,584.8L1091.6,580.9L1093.6,580.8L1095.2,577.2L1097.2,576.3L1099.2,577L1101.2,576.2L1102.9,572.1L1104.6,568.6L1106.8,570.7L1108.8,570.6L1110.7,567.7L1112.9,571.6L1114.7,567L1116.6,564.3L1118.8,567.9L1120.8,568.4L1122.8,567.7L1124.9,568.7L1126.8,566.5L1129,572.3L1131,572.8L1132.9,568.6L1135,571.3L1136.9,568.1L1139,569.7L1141,567.7ZM1143,645.7A500.3,500.3 0 1 1 1143,1646.3A500.3,500.3 0 1 1 1143,645.7Z" fill="#009900" fill-rule="evenodd"/>
<circle cx="1143" cy="1146" r="497.3" fill="none" stroke="#2a2a2a" stroke-width="2.4"/>
<line x1="1143.3" y1="567" x2="1143.3" y2="645.5" stroke="#fff" stroke-opacity="0.3" stroke-width="1"/>
<line x1="1143.3" y1="490" x2="1143.3" y2="508" stroke="#fff" stroke-opacity="0.3" stroke-width="1"/>
<g stroke="#111"><line x1="1143" y1="358.5" x2="1143" y2="350" stroke-width="4" stroke-linecap="round"/><line x1="1143" y1="665" x2="1143" y2="656" stroke-width="3.6" stroke-linecap="round"/><line x1="1213.1" y1="362.1" x2="1213.6" y2="356.6" stroke-width="1.8"/><line x1="1186.1" y1="663.9" x2="1186.6" y2="657.9" stroke-width="1.8"/><line x1="1282.6" y1="371.5" x2="1283.6" y2="366.1" stroke-width="1.8"/><line x1="1228.9" y1="669.7" x2="1229.9" y2="663.8" stroke-width="1.8"/><line x1="1351.1" y1="387" x2="1352.5" y2="381.7" stroke-width="1.8"/><line x1="1271" y1="679.2" x2="1272.5" y2="673.4" stroke-width="1.8"/><line x1="1417.8" y1="408.6" x2="1419.8" y2="403.4" stroke-width="1.8"/><line x1="1312" y1="692.5" x2="1314.1" y2="686.9" stroke-width="1.8"/><line x1="1482.2" y1="436.4" x2="1486.5" y2="427.4" stroke-width="2.2"/><line x1="1350" y1="712.9" x2="1354.8" y2="703" stroke-width="2.2"/><line x1="1544.3" y1="469" x2="1547.1" y2="464.3" stroke-width="1.8"/><line x1="1389.8" y1="729.7" x2="1392.9" y2="724.5" stroke-width="1.8"/><line x1="1603" y1="507.5" x2="1606.2" y2="503" stroke-width="1.8"/><line x1="1425.9" y1="753.3" x2="1429.4" y2="748.4" stroke-width="1.8"/><line x1="1658.1" y1="551" x2="1661.7" y2="546.8" stroke-width="1.8"/><line x1="1459.8" y1="780.1" x2="1463.7" y2="775.5" stroke-width="1.8"/><line x1="1709" y1="599.2" x2="1713" y2="595.4" stroke-width="1.8"/><line x1="1491.1" y1="809.7" x2="1495.4" y2="805.6" stroke-width="1.8"/><line x1="1755.1" y1="652.1" x2="1762.9" y2="645.8" stroke-width="2.2"/><line x1="1516.6" y1="844.6" x2="1525.1" y2="837.7" stroke-width="2.2"/><line x1="1797.1" y1="708.3" x2="1801.6" y2="705.3" stroke-width="1.8"/><line x1="1545.2" y1="876.8" x2="1550.2" y2="873.5" stroke-width="1.8"/><line x1="1833.4" y1="768.3" x2="1838.3" y2="765.7" stroke-width="1.8"/><line x1="1567.6" y1="913.7" x2="1572.9" y2="910.8" stroke-width="1.8"/><line x1="1864.3" y1="831.3" x2="1869.4" y2="829.1" stroke-width="1.8"/><line x1="1586.6" y1="952.5" x2="1592.1" y2="950.1" stroke-width="1.8"/><line x1="1889.5" y1="896.8" x2="1894.7" y2="895.1" stroke-width="1.8"/><line x1="1602.1" y1="992.7" x2="1607.8" y2="990.8" stroke-width="1.8"/><line x1="1908.2" y1="964.4" x2="1918" y2="962.1" stroke-width="2.2"/><line x1="1610" y1="1035.2" x2="1620.7" y2="1032.6" stroke-width="2.2"/><line x1="1921.9" y1="1033.2" x2="1927.3" y2="1032.4" stroke-width="1.8"/><line x1="1622" y1="1076.6" x2="1627.9" y2="1075.8" stroke-width="1.8"/><line x1="1928.8" y1="1103" x2="1934.3" y2="1102.7" stroke-width="1.8"/><line x1="1626.3" y1="1119.6" x2="1632.3" y2="1119.2" stroke-width="1.8"/><line x1="1929.5" y1="1173.2" x2="1935" y2="1173.4" stroke-width="1.8"/><line x1="1626.7" y1="1162.7" x2="1632.7" y2="1162.9" stroke-width="1.8"/><line x1="1924" y1="1243.1" x2="1929.4" y2="1243.8" stroke-width="1.8"/><line x1="1623.3" y1="1205.7" x2="1629.3" y2="1206.5" stroke-width="1.8"/><line x1="1911.7" y1="1312.2" x2="1921.5" y2="1314.3" stroke-width="2.2"/><line x1="1612.2" y1="1247.4" x2="1622.9" y2="1249.8" stroke-width="2.2"/><line x1="1894.4" y1="1380.2" x2="1899.6" y2="1381.8" stroke-width="1.8"/><line x1="1605.1" y1="1290" x2="1610.8" y2="1291.8" stroke-width="1.8"/><line x1="1870.5" y1="1446.2" x2="1875.6" y2="1448.3" stroke-width="1.8"/><line x1="1590.4" y1="1330.6" x2="1596" y2="1332.9" stroke-width="1.8"/><line x1="1840.9" y1="1509.8" x2="1845.8" y2="1512.3" stroke-width="1.8"/><line x1="1572.2" y1="1369.7" x2="1577.5" y2="1372.5" stroke-width="1.8"/><line x1="1805.7" y1="1570.5" x2="1810.3" y2="1573.4" stroke-width="1.8"/><line x1="1550.6" y1="1407.1" x2="1555.6" y2="1410.3" stroke-width="1.8"/><line x1="1764.9" y1="1627.5" x2="1772.8" y2="1633.6" stroke-width="2.2"/><line x1="1522.5" y1="1439.9" x2="1531.2" y2="1446.6" stroke-width="2.2"/><line x1="1719.9" y1="1681.3" x2="1723.9" y2="1685.1" stroke-width="1.8"/><line x1="1497.8" y1="1475.2" x2="1502.2" y2="1479.3" stroke-width="1.8"/><line x1="1669.9" y1="1730.6" x2="1673.6" y2="1734.7" stroke-width="1.8"/><line x1="1467" y1="1505.5" x2="1471.1" y2="1510" stroke-width="1.8"/><line x1="1615.7" y1="1775.2" x2="1619.1" y2="1779.6" stroke-width="1.8"/><line x1="1433.7" y1="1532.9" x2="1437.3" y2="1537.7" stroke-width="1.8"/><line x1="1557.8" y1="1814.8" x2="1560.7" y2="1819.5" stroke-width="1.8"/><line x1="1398.1" y1="1557.3" x2="1401.3" y2="1562.4" stroke-width="1.8"/><line x1="1496.4" y1="1848.6" x2="1500.9" y2="1857.6" stroke-width="2.2"/><line x1="1358.7" y1="1574.8" x2="1363.6" y2="1584.6" stroke-width="2.2"/><line x1="1432.6" y1="1877.8" x2="1434.6" y2="1882.9" stroke-width="1.8"/><line x1="1321.1" y1="1596" x2="1323.3" y2="1601.6" stroke-width="1.8"/><line x1="1366.3" y1="1900.7" x2="1367.8" y2="1905.9" stroke-width="1.8"/><line x1="1280.3" y1="1610.1" x2="1282" y2="1615.9" stroke-width="1.8"/><line x1="1298.1" y1="1917.6" x2="1299.2" y2="1922.9" stroke-width="1.8"/><line x1="1238.4" y1="1620.5" x2="1239.6" y2="1626.4" stroke-width="1.8"/><line x1="1228.8" y1="1928.3" x2="1229.4" y2="1933.8" stroke-width="1.8"/><line x1="1195.8" y1="1627.1" x2="1196.4" y2="1633.1" stroke-width="1.8"/><line x1="1158.8" y1="1932.3" x2="1159" y2="1942.3" stroke-width="2.2"/><line x1="1152.6" y1="1625.9" x2="1152.9" y2="1636.9" stroke-width="2.2"/><line x1="1088.6" y1="1931.1" x2="1088.3" y2="1936.6" stroke-width="1.8"/><line x1="1109.6" y1="1628.8" x2="1109.2" y2="1634.8" stroke-width="1.8"/><line x1="1018.9" y1="1923.2" x2="1018.1" y2="1928.6" stroke-width="1.8"/><line x1="1066.7" y1="1623.9" x2="1065.8" y2="1629.9" stroke-width="1.8"/><line x1="950.2" y1="1909" x2="948.9" y2="1914.4" stroke-width="1.8"/><line x1="1024.4" y1="1615.3" x2="1023" y2="1621.1" stroke-width="1.8"/><line x1="883" y1="1888.8" x2="881.2" y2="1894" stroke-width="1.8"/><line x1="983.1" y1="1602.8" x2="981.1" y2="1608.5" stroke-width="1.8"/><line x1="818.1" y1="1862.3" x2="814" y2="1871.4" stroke-width="2.2"/><line x1="944.7" y1="1583.1" x2="940.2" y2="1593.1" stroke-width="2.2"/><line x1="755.3" y1="1830.9" x2="752.6" y2="1835.7" stroke-width="1.8"/><line x1="904.6" y1="1567.2" x2="901.6" y2="1572.4" stroke-width="1.8"/><line x1="695.9" y1="1793.6" x2="692.8" y2="1798.2" stroke-width="1.8"/><line x1="868" y1="1544.3" x2="864.6" y2="1549.2" stroke-width="1.8"/><line x1="640" y1="1751.3" x2="636.5" y2="1755.5" stroke-width="1.8"/><line x1="833.6" y1="1518.2" x2="829.8" y2="1522.8" stroke-width="1.8"/><line x1="588.1" y1="1704" x2="584.2" y2="1707.9" stroke-width="1.8"/><line x1="801.7" y1="1489.2" x2="797.5" y2="1493.4" stroke-width="1.8"/><line x1="540.9" y1="1652.1" x2="533.3" y2="1658.5" stroke-width="2.2"/><line x1="775.6" y1="1454.9" x2="767.1" y2="1461.9" stroke-width="2.2"/><line x1="497.9" y1="1596.7" x2="493.3" y2="1599.9" stroke-width="1.8"/><line x1="746.2" y1="1423.2" x2="741.3" y2="1426.6" stroke-width="1.8"/><line x1="460.3" y1="1537.5" x2="455.5" y2="1540.2" stroke-width="1.8"/><line x1="723.1" y1="1386.8" x2="717.9" y2="1389.7" stroke-width="1.8"/><line x1="428.1" y1="1475.1" x2="423.1" y2="1477.4" stroke-width="1.8"/><line x1="703.4" y1="1348.4" x2="697.9" y2="1350.9" stroke-width="1.8"/><line x1="401.6" y1="1410.1" x2="396.5" y2="1412" stroke-width="1.8"/><line x1="687.1" y1="1308.4" x2="681.4" y2="1310.4" stroke-width="1.8"/><line x1="381.6" y1="1342.9" x2="371.9" y2="1345.4" stroke-width="2.2"/><line x1="678.3" y1="1266.2" x2="667.6" y2="1268.9" stroke-width="2.2"/><line x1="366.5" y1="1274.4" x2="361.1" y2="1275.3" stroke-width="1.8"/><line x1="665.5" y1="1225" x2="659.6" y2="1225.9" stroke-width="1.8"/><line x1="358.2" y1="1204.7" x2="352.7" y2="1205.1" stroke-width="1.8"/><line x1="660.3" y1="1182.1" x2="654.4" y2="1182.6" stroke-width="1.8"/><line x1="356.1" y1="1134.6" x2="350.6" y2="1134.5" stroke-width="1.8"/><line x1="659.1" y1="1139" x2="653.1" y2="1138.9" stroke-width="1.8"/><line x1="360.2" y1="1064.6" x2="354.8" y2="1064" stroke-width="1.8"/><line x1="661.6" y1="1095.9" x2="655.6" y2="1095.3" stroke-width="1.8"/><line x1="371.1" y1="995.2" x2="361.3" y2="993.3" stroke-width="2.2"/><line x1="671.9" y1="1054" x2="661.1" y2="1051.9" stroke-width="2.2"/><line x1="387.1" y1="927" x2="381.8" y2="925.4" stroke-width="1.8"/><line x1="678.1" y1="1011.3" x2="672.4" y2="1009.6" stroke-width="1.8"/><line x1="409.6" y1="860.5" x2="404.5" y2="858.5" stroke-width="1.8"/><line x1="692" y1="970.4" x2="686.4" y2="968.2" stroke-width="1.8"/><line x1="438" y1="796.3" x2="433" y2="793.9" stroke-width="1.8"/><line x1="709.4" y1="930.9" x2="704" y2="928.3" stroke-width="1.8"/><line x1="471.9" y1="734.9" x2="467.2" y2="732" stroke-width="1.8"/><line x1="730.3" y1="893.2" x2="725.2" y2="890" stroke-width="1.8"/><line x1="511.6" y1="677.1" x2="503.6" y2="671.1" stroke-width="2.2"/><line x1="757.6" y1="859.8" x2="748.8" y2="853.3" stroke-width="2.2"/><line x1="555.5" y1="622.4" x2="551.4" y2="618.7" stroke-width="1.8"/><line x1="781.7" y1="824" x2="777.2" y2="820" stroke-width="1.8"/><line x1="604.5" y1="572.1" x2="600.7" y2="568.1" stroke-width="1.8"/><line x1="811.8" y1="793.1" x2="807.7" y2="788.7" stroke-width="1.8"/><line x1="657.7" y1="526.4" x2="654.3" y2="522.1" stroke-width="1.8"/><line x1="844.6" y1="765" x2="840.9" y2="760.2" stroke-width="1.8"/><line x1="714.8" y1="485.7" x2="711.8" y2="481" stroke-width="1.8"/><line x1="879.7" y1="739.9" x2="876.4" y2="734.9" stroke-width="1.8"/><line x1="775.6" y1="450.6" x2="770.9" y2="441.8" stroke-width="2.2"/><line x1="918.8" y1="721.6" x2="913.6" y2="711.9" stroke-width="2.2"/><line x1="838.8" y1="420.2" x2="836.7" y2="415.1" stroke-width="1.8"/><line x1="955.9" y1="699.6" x2="953.6" y2="694.1" stroke-width="1.8"/><line x1="904.6" y1="396" x2="903" y2="390.7" stroke-width="1.8"/><line x1="996.4" y1="684.7" x2="994.6" y2="679" stroke-width="1.8"/><line x1="972.4" y1="377.7" x2="971.2" y2="372.3" stroke-width="1.8"/><line x1="1038.1" y1="673.5" x2="1036.8" y2="667.7" stroke-width="1.8"/><line x1="1041.5" y1="365.6" x2="1040.8" y2="360.1" stroke-width="1.8"/><line x1="1080.6" y1="666" x2="1079.8" y2="660.1" stroke-width="1.8"/><line x1="1111.4" y1="360.1" x2="1111" y2="350.1" stroke-width="2.2"/><line x1="1123.7" y1="666.4" x2="1123.3" y2="655.4" stroke-width="2.2"/></g>
<text class="k" x="1097.3" y="698.1">14 kbp</text>
<text class="k" x="1300.3" y="743">1 kbp</text>
<text class="k" x="1459.5" y="871.1">2 kbp</text>
<text class="k" x="1550.5" y="1047.4">3 kbp</text>
<text class="k" x="1551.8" y="1254.5">4 kbp</text>
<text class="k" x="1465.2" y="1432.1">5 kbp</text>
<text class="k" x="1304.6" y="1563.7">6 kbp</text>
<text class="k" x="1129.1" y="1614.7">7 kbp</text>
<text class="k" x="950.6" y="1572.5">8 kbp</text>
<text class="k" x="785.2" y="1447">9 kbp</text>
<text class="k" x="690.1" y="1274">10 kbp</text>
<text class="k" x="684.3" y="1066.4">11 kbp</text>
<text class="k" x="768" y="886.4">12 kbp</text>
<text class="k" x="925.5" y="751.4">13 kbp</text>
<rect x="897.2" y="275.6" width="71.9" height="42.5" fill="#fff" fill-opacity="0.8"/>
<rect x="916.3" y="229.6" width="71.9" height="42.5" fill="#fff" fill-opacity="0.8"/>
<rect x="937.8" y="185.1" width="71.9" height="42.5" fill="#fff" fill-opacity="0.8"/>
<rect x="961.4" y="140" width="71.9" height="42.5" fill="#fff" fill-opacity="0.8"/>
<rect x="1007.2" y="254.5" width="71.9" height="42.5" fill="#fff" fill-opacity="0.8"/>
<rect x="1031.7" y="212.5" width="71.9" height="42.5" fill="#fff" fill-opacity="0.8"/>
<rect x="1058.2" y="171" width="71.9" height="42.5" fill="#fff" fill-opacity="0.8"/>
<rect x="1081.1" y="129" width="95.2" height="42.5" fill="#fff" fill-opacity="0.8"/>
<rect x="1221" y="258.1" width="95.2" height="42.5" fill="#fff" fill-opacity="0.8"/>
<rect x="1404.8" y="288.9" width="95.2" height="42.5" fill="#fff" fill-opacity="0.8"/>
<rect x="1608.4" y="384.8" width="71.9" height="42.5" fill="#fff" fill-opacity="0.8"/>
<rect x="1801" y="556" width="118.5" height="42.5" fill="#fff" fill-opacity="0.8"/>
<rect x="1940.4" y="792.2" width="95.2" height="42.5" fill="#fff" fill-opacity="0.8"/>
<rect x="1996.7" y="1054.1" width="95.2" height="42.5" fill="#fff" fill-opacity="0.8"/>
<rect x="2118.3" y="1073.1" width="95.2" height="42.5" fill="#fff" fill-opacity="0.8"/>
<rect x="1999.5" y="1102.6" width="95.2" height="42.5" fill="#fff" fill-opacity="0.8"/>
<rect x="1995.1" y="1207.7" width="95.2" height="42.5" fill="#fff" fill-opacity="0.8"/>
<rect x="1924.9" y="1492.6" width="95.2" height="42.5" fill="#fff" fill-opacity="0.8"/>
<rect x="1819.4" y="1669.5" width="95.2" height="42.5" fill="#fff" fill-opacity="0.8"/>
<rect x="1931.1" y="1719" width="95.2" height="42.5" fill="#fff" fill-opacity="0.8"/>
<rect x="1894.3" y="1767.4" width="95.2" height="42.5" fill="#fff" fill-opacity="0.8"/>
<rect x="1672.4" y="1815.8" width="95.2" height="42.5" fill="#fff" fill-opacity="0.8"/>
<rect x="1515.8" y="1914.2" width="95.2" height="42.5" fill="#fff" fill-opacity="0.8"/>
<rect x="1483.9" y="1971.4" width="95.2" height="42.5" fill="#fff" fill-opacity="0.8"/>
<rect x="1475" y="2017.6" width="95.2" height="42.5" fill="#fff" fill-opacity="0.8"/>
<rect x="1555.3" y="2071.9" width="95.2" height="42.5" fill="#fff" fill-opacity="0.8"/>
<rect x="1370.2" y="1968.3" width="95.2" height="42.5" fill="#fff" fill-opacity="0.8"/>
<rect x="1221.1" y="1989" width="95.2" height="42.5" fill="#fff" fill-opacity="0.8"/>
<rect x="1246.4" y="2064" width="118.5" height="42.5" fill="#fff" fill-opacity="0.8"/>
<rect x="906.9" y="1976.8" width="95.2" height="42.5" fill="#fff" fill-opacity="0.8"/>
<rect x="572.9" y="1853.2" width="95.2" height="42.5" fill="#fff" fill-opacity="0.8"/>
<rect x="425.4" y="1726.8" width="95.2" height="42.5" fill="#fff" fill-opacity="0.8"/>
<rect x="306.5" y="1568.2" width="95.2" height="42.5" fill="#fff" fill-opacity="0.8"/>
<rect x="242.2" y="1424.6" width="95.2" height="42.5" fill="#fff" fill-opacity="0.8"/>
<rect x="196.5" y="1172.9" width="95.2" height="42.5" fill="#fff" fill-opacity="0.8"/>
<rect x="197.2" y="1050.4" width="95.2" height="42.5" fill="#fff" fill-opacity="0.8"/>
<rect x="211.6" y="950.5" width="95.2" height="42.5" fill="#fff" fill-opacity="0.8"/>
<rect x="237.6" y="831.7" width="95.2" height="42.5" fill="#fff" fill-opacity="0.8"/>
<rect x="263.2" y="715.7" width="118.5" height="42.5" fill="#fff" fill-opacity="0.8"/>
<rect x="103.9" y="675.8" width="118.5" height="42.5" fill="#fff" fill-opacity="0.8"/>
<rect x="244.5" y="666.5" width="118.5" height="42.5" fill="#fff" fill-opacity="0.8"/>
<rect x="247.7" y="621.5" width="95.2" height="42.5" fill="#fff" fill-opacity="0.8"/>
<rect x="521.3" y="431.7" width="95.2" height="42.5" fill="#fff" fill-opacity="0.8"/>
<text class="m" transform="translate(895.2,315.6) scale(1,1.05)" fill="#ff8200" stroke="#ff8200" stroke-width="0.5">RU1</text>
<text class="m" transform="translate(914.3,269.6) scale(1,1.05)" fill="#ff8200" stroke="#ff8200" stroke-width="0.5">RU2</text>
<text class="m" transform="translate(935.8,225.1) scale(1,1.05)" fill="#ff8200" stroke="#ff8200" stroke-width="0.5">RU3</text>
<text class="m" transform="translate(959.4,180) scale(1,1.05)" fill="#ff8200" stroke="#ff8200" stroke-width="0.5">RU4</text>
<text class="m" transform="translate(1005.2,294.5) scale(1,1.05)" fill="#ff8200" stroke="#ff8200" stroke-width="0.5">RU5</text>
<text class="m" transform="translate(1029.7,252.5) scale(1,1.05)" fill="#ff8200" stroke="#ff8200" stroke-width="0.5">RU6</text>
<text class="m" transform="translate(1056.2,211) scale(1,1.05)" fill="#ff8200" stroke="#ff8200" stroke-width="0.5">RU7</text>
<text class="m" transform="translate(1079.1,169) scale(1,1.05)" fill="#e30b0b" stroke="#e30b0b" stroke-width="0.5">trnG</text>
<text class="m" transform="translate(1219,298.1) scale(1,1.05)" fill="#0082dd" stroke="#0082dd" stroke-width="0.5">cox3</text>
<text class="m" transform="translate(1402.8,328.9) scale(1,1.05)" fill="#e30b0b" stroke="#e30b0b" stroke-width="0.5">trnH</text>
<text class="m" transform="translate(1606.4,424.8) scale(1,1.05)" fill="#0082dd" stroke="#0082dd" stroke-width="0.5">cob</text>
<text class="m" transform="translate(1799,596) scale(1,1.05)" fill="#0082dd" stroke="#0082dd" stroke-width="0.5">nad4l</text>
<text class="m" transform="translate(1938.4,832.2) scale(1,1.05)" fill="#0082dd" stroke="#0082dd" stroke-width="0.5">nad4</text>
<text class="m" transform="translate(1994.7,1094.1) scale(1,1.05)" fill="#e30b0b" stroke="#e30b0b" stroke-width="0.5">trnQ</text>
<text class="m" transform="translate(2116.3,1113.1) scale(1,1.05)" fill="#e30b0b" stroke="#e30b0b" stroke-width="0.5">trnF</text>
<text class="m" transform="translate(1997.5,1142.6) scale(1,1.05)" fill="#e30b0b" stroke="#e30b0b" stroke-width="0.5">trnM</text>
<text class="m" transform="translate(1993.1,1247.7) scale(1,1.05)" fill="#0082dd" stroke="#0082dd" stroke-width="0.5">atp6</text>
<text class="m" transform="translate(1922.9,1532.6) scale(1,1.05)" fill="#0082dd" stroke="#0082dd" stroke-width="0.5">nad2</text>
<text class="m" transform="translate(1817.4,1709.5) scale(1,1.05)" fill="#e30b0b" stroke="#e30b0b" stroke-width="0.5">trnA</text>
<text class="m" transform="translate(1929.1,1759) scale(1,1.05)" fill="#e30b0b" stroke="#e30b0b" stroke-width="0.5">trnV</text>
<text class="m" transform="translate(1892.3,1807.4) scale(1,1.05)" fill="#e30b0b" stroke="#e30b0b" stroke-width="0.5">trnD</text>
<text class="m" transform="translate(1670.4,1855.8) scale(1,1.05)" fill="#0082dd" stroke="#0082dd" stroke-width="0.5">nad1</text>
<text class="m" transform="translate(1513.8,1954.2) scale(1,1.05)" fill="#e30b0b" stroke="#e30b0b" stroke-width="0.5">trnN</text>
<text class="m" transform="translate(1481.9,2011.4) scale(1,1.05)" fill="#e30b0b" stroke="#e30b0b" stroke-width="0.5">trnI</text>
<text class="m" transform="translate(1473,2057.6) scale(1,1.05)" fill="#e30b0b" stroke="#e30b0b" stroke-width="0.5">trnK</text>
<text class="m" transform="translate(1553.3,2111.9) scale(1,1.05)" fill="#e30b0b" stroke="#e30b0b" stroke-width="0.5">trnP</text>
<text class="m" transform="translate(1368.2,2008.3) scale(1,1.05)" fill="#0082dd" stroke="#0082dd" stroke-width="0.5">nad3</text>
<text class="m" transform="translate(1219.1,2029) scale(1,1.05)" fill="#e30b0b" stroke="#e30b0b" stroke-width="0.5">trnW</text>
<text class="m" transform="translate(1244.4,2104) scale(1,1.05)" fill="#e30b0b" stroke="#e30b0b" stroke-width="0.5">trnS1</text>
<text class="m" transform="translate(904.9,2016.8) scale(1,1.05)" fill="#0082dd" stroke="#0082dd" stroke-width="0.5">cox1</text>
<text class="m" transform="translate(570.9,1893.2) scale(1,1.05)" fill="#e30b0b" stroke="#e30b0b" stroke-width="0.5">trnT</text>
<text class="m" transform="translate(423.4,1766.8) scale(1,1.05)" fill="#6a00d6" stroke="#6a00d6" stroke-width="0.5">rrnL</text>
<text class="m" transform="translate(304.5,1608.2) scale(1,1.05)" fill="#e30b0b" stroke="#e30b0b" stroke-width="0.5">trnC</text>
<text class="m" transform="translate(240.2,1464.6) scale(1,1.05)" fill="#6a00d6" stroke="#6a00d6" stroke-width="0.5">rrnS</text>
<text class="m" transform="translate(194.5,1212.9) scale(1,1.05)" fill="#0082dd" stroke="#0082dd" stroke-width="0.5">cox2</text>
<text class="m" transform="translate(195.2,1090.4) scale(1,1.05)" fill="#e30b0b" stroke="#e30b0b" stroke-width="0.5">trnE</text>
<text class="m" transform="translate(209.6,990.5) scale(1,1.05)" fill="#0082dd" stroke="#0082dd" stroke-width="0.5">nad6</text>
<text class="m" transform="translate(235.6,871.7) scale(1,1.05)" fill="#e30b0b" stroke="#e30b0b" stroke-width="0.5">trnY</text>
<text class="m" transform="translate(261.2,755.7) scale(1,1.05)" fill="#e30b0b" stroke="#e30b0b" stroke-width="0.5">trnL1</text>
<text class="m" transform="translate(101.9,715.8) scale(1,1.05)" fill="#e30b0b" stroke="#e30b0b" stroke-width="0.5">trnS2</text>
<text class="m" transform="translate(242.5,706.5) scale(1,1.05)" fill="#e30b0b" stroke="#e30b0b" stroke-width="0.5">trnL2</text>
<text class="m" transform="translate(245.7,661.5) scale(1,1.05)" fill="#e30b0b" stroke="#e30b0b" stroke-width="0.5">trnR</text>
<text class="m" transform="translate(519.3,471.7) scale(1,1.05)" fill="#0082dd" stroke="#0082dd" stroke-width="0.5">nad5</text>
<rect x="2088.8" y="167.8" width="37.6" height="37" fill="#0082dd"/>
<text class="g" transform="translate(2135.5,201.1) scale(0.95,1)">CDS</text>
<rect x="2088.8" y="223.9" width="37.6" height="37" fill="#e30b0b"/>
<text class="g" transform="translate(2135.5,257.2) scale(0.95,1)">tRNA</text>
<rect x="2088.8" y="279.9" width="37.6" height="37" fill="#6a00d6"/>
<text class="g" transform="translate(2135.5,313.2) scale(0.95,1)">rRNA</text>
<rect x="2088.8" y="335.9" width="37.6" height="37" fill="#ff8200"/>
<text class="g" transform="translate(2135.5,369.2) scale(0.95,1)">RU</text>
<rect x="2088.8" y="392" width="37.6" height="37" fill="#000"/>
<text class="g" transform="translate(2135.5,425.3) scale(0.95,1)">GC Content</text>
<rect x="2088.8" y="448.1" width="37.6" height="37" fill="#009900"/>
<text class="g" transform="translate(2135.5,481.4) scale(0.95,1)">GC Skew+</text>
<text class="t" x="1143.8" y="1078.9" style="font-size:59.9px;font-weight:bold;font-style:italic">Hymenolepis diminuta</text>
<text class="t" x="1142.3" y="1149" style="font-size:60.3px">(Danish isolate)</text>
<text class="t" x="1143.3" y="1220.8" style="font-size:59.3px">14,090 nt</text>
</svg></body></html>
